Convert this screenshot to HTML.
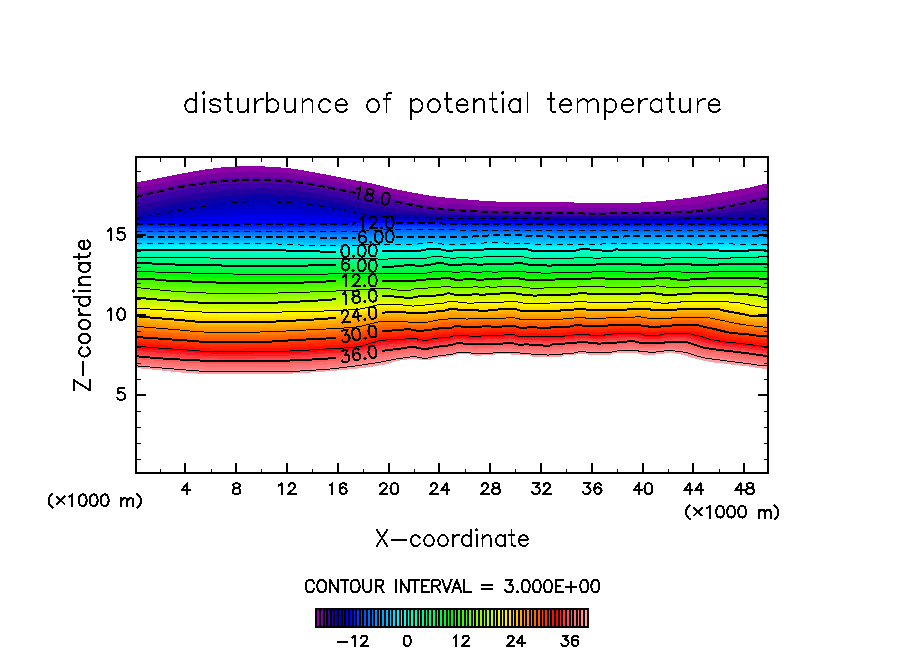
<!DOCTYPE html>
<html lang="en"><head><meta charset="utf-8"><title>disturbunce of potential temperature</title><style>html,body{margin:0;padding:0;background:#fff;font-family:"Liberation Sans",sans-serif}svg{display:block}</style></head><body><svg width="904" height="654" viewBox="0 0 904 654">
<rect width="904" height="654" fill="#fff"/>
<g shape-rendering="crispEdges">
<path d="M136 182.5l3 -0.5 3 -0.6 3 -0.6 3 -0.5 3 -0.6 3 -0.5 3 -0.6 3 -0.6 3 -0.6 3 -0.6 3 -0.6 3 -0.6 3 -0.7 3 -0.6 3 -0.6 3 -0.5 3 -0.6 3 -0.5 3 -0.6 3 -0.5 3 -0.5 3 -0.5 3 -0.5 3 -0.4 3 -0.3 3 -0.4 3 -0.4 3 -0.3 3 -0.4 3 -0.3 3 -0.2 3 -0.2 3 -0.1 3 0 3 0 3 0 3 0 3 0 3 0 3 0 3 0 3 0 3 0 3 0.1 3 0.2 3 0.1 3 0.3 3 0.2 3 0.3 3 0.2 3 0.3 3 0.4 3 0.4 3 0.5 3 0.5 3 0.5 3 0.6 3 0.5 3 0.6 3 0.5 3 0.6 3 0.6 3 0.5 3 0.6 3 0.6 3 0.6 3 0.6 3 0.6 3 0.6 3 0.6 3 0.6 3 0.6 3 0.5 3 0.5 3 0.5 3 0.5 3 0.6 3 0.7 3 0.7 3 0.7 3 0.8 3 0.8 3 0.7 3 0.7 3 0.7 3 0.7 3 0.6 3 0.6 3 0.6 3 0.6 3 0.6 3 0.6 3 0.5 3 0.5 3 0.6 3 0.5 3 0.5 3 0.5 3 0.5 3 0.4 3 0.4 3 0.3 3 0.3 3 0.3 3 0.3 3 0.3 3 0.2 3 0.3 3 0.2 3 0.3 3 0.2 3 0.3 3 0.3 3 0.2 3 0.3 3 0.2 3 0.2 3 0.1 3 0.2 3 0.1 3 0.1 3 0.1 3 0.1 3 0.1 3 0.1 3 0 3 0 3 0 3 0 3 0 3 0 3 0 3 0 3 0 3 0 3 0 3 0 3 0 3 0 3 0 3 0 3 0 3 0 3 0.1 3 0.2 3 0.2 3 0.1 3 0.1 3 0 3 0.1 3 0.1 3 0 3 0.1 3 0 3 0 3 0 3 0 3 0 3 0 3 0 3 0 3 0 3 0 3 0 3 -0.1 3 -0.1 3 -0.1 3 -0.1 3 -0.2 3 -0.2 3 -0.1 3 -0.2 3 -0.3 3 -0.2 3 -0.3 3 -0.3 3 -0.4 3 -0.3 3 -0.4 3 -0.3 3 -0.4 3 -0.3 3 -0.4 3 -0.4 3 -0.4 3 -0.4 3 -0.4 3 -0.5 3 -0.4 3 -0.5 3 -0.5 3 -0.5 3 -0.5 3 -0.6 3 -0.5 3 -0.5 3 -0.5 3 -0.6 3 -0.5 3 -0.5 3 -0.5 3 -0.6 3 -0.5 3 -0.6 3 -0.6 3 -0.8 3 -0.8 3 -0.8 3 -0.7 3 -0.4 2 0V380H136Z" fill="#8c00a5"/>
<path d="M136 188.3l3 -0.7 3 -0.6 3 -0.7 3 -0.6 3 -0.7 3 -0.6 3 -0.6 3 -0.7 3 -0.6 3 -0.6 3 -0.7 3 -0.6 3 -0.6 3 -0.6 3 -0.6 3 -0.5 3 -0.6 3 -0.5 3 -0.5 3 -0.5 3 -0.5 3 -0.4 3 -0.5 3 -0.4 3 -0.3 3 -0.3 3 -0.4 3 -0.3 3 -0.3 3 -0.3 3 -0.2 3 -0.1 3 -0.1 3 -0.1 3 0 3 -0.1 3 0 3 0 3 -0.1 3 0 3 0 3 0 3 0 3 0.1 3 0.2 3 0.1 3 0.2 3 0.2 3 0.3 3 0.2 3 0.3 3 0.3 3 0.4 3 0.4 3 0.5 3 0.5 3 0.5 3 0.5 3 0.6 3 0.5 3 0.5 3 0.6 3 0.6 3 0.6 3 0.7 3 0.6 3 0.6 3 0.6 3 0.5 3 0.6 3 0.6 3 0.6 3 0.6 3 0.5 3 0.6 3 0.5 3 0.7 3 0.6 3 0.7 3 0.8 3 0.7 3 0.8 3 0.7 3 0.7 3 0.7 3 0.7 3 0.7 3 0.6 3 0.7 3 0.6 3 0.7 3 0.6 3 0.6 3 0.6 3 0.5 3 0.6 3 0.5 3 0.6 3 0.4 3 0.5 3 0.4 3 0.3 3 0.3 3 0.2 3 0.3 3 0.2 3 0.2 3 0.2 3 0.2 3 0.3 3 0.2 3 0.2 3 0.3 3 0.2 3 0.2 3 0.2 3 0.2 3 0.1 3 0.1 3 0.1 3 0.1 3 0.1 3 0.1 3 0.1 3 0 3 0.1 3 0 3 0 3 -0.1 3 0 3 0 3 0 3 0 3 0 3 0 3 0 3 0 3 -0.1 3 0 3 0 3 0 3 0 3 0 3 0.1 3 0.3 3 0.3 3 0.1 3 0.1 3 0.1 3 0.1 3 0.1 3 0 3 0.1 3 0 3 0 3 0 3 -0.1 3 -0.1 3 -0.1 3 0 3 -0.1 3 -0.1 3 0 3 0 3 0 3 -0.1 3 0 3 -0.1 3 -0.1 3 0 3 -0.1 3 -0.1 3 -0.1 3 -0.2 3 -0.2 3 -0.1 3 -0.3 3 -0.2 3 -0.2 3 -0.2 3 -0.2 3 -0.3 3 -0.2 3 -0.3 3 -0.3 3 -0.4 3 -0.3 3 -0.4 3 -0.4 3 -0.5 3 -0.5 3 -0.5 3 -0.5 3 -0.6 3 -0.5 3 -0.6 3 -0.6 3 -0.6 3 -0.6 3 -0.6 3 -0.7 3 -0.6 3 -0.7 3 -0.7 3 -0.6 3 -0.8 3 -0.8 3 -0.8 3 -0.7 3 -0.4 2 0V380H136Z" fill="#7600a2"/>
<path d="M136 194.1l3 -0.7 3 -0.8 3 -0.7 3 -0.7 3 -0.7 3 -0.7 3 -0.7 3 -0.6 3 -0.7 3 -0.6 3 -0.7 3 -0.6 3 -0.6 3 -0.6 3 -0.5 3 -0.6 3 -0.5 3 -0.5 3 -0.5 3 -0.5 3 -0.4 3 -0.5 3 -0.4 3 -0.3 3 -0.4 3 -0.3 3 -0.3 3 -0.3 3 -0.3 3 -0.2 3 -0.2 3 -0.2 3 -0.1 3 -0.1 3 -0.1 3 0 3 -0.1 3 -0.1 3 0 3 0 3 -0.1 3 0 3 0.1 3 0 3 0.2 3 0.1 3 0.2 3 0.2 3 0.2 3 0.3 3 0.2 3 0.3 3 0.4 3 0.4 3 0.4 3 0.4 3 0.5 3 0.5 3 0.5 3 0.5 3 0.5 3 0.6 3 0.6 3 0.6 3 0.7 3 0.6 3 0.6 3 0.6 3 0.5 3 0.6 3 0.6 3 0.6 3 0.6 3 0.6 3 0.6 3 0.6 3 0.6 3 0.7 3 0.7 3 0.7 3 0.7 3 0.7 3 0.7 3 0.6 3 0.7 3 0.7 3 0.7 3 0.6 3 0.7 3 0.6 3 0.7 3 0.6 3 0.6 3 0.5 3 0.6 3 0.5 3 0.6 3 0.5 3 0.5 3 0.4 3 0.3 3 0.3 3 0.2 3 0.3 3 0.2 3 0.2 3 0.1 3 0.2 3 0.2 3 0.2 3 0.2 3 0.2 3 0.2 3 0.2 3 0.1 3 0.2 3 0.1 3 0.1 3 0.1 3 0.1 3 0.1 3 0.1 3 0.1 3 0 3 0.1 3 0 3 0 3 0 3 0 3 0 3 0 3 0 3 0 3 0 3 0 3 0 3 0 3 -0.1 3 0 3 0 3 0 3 0 3 0 3 0.1 3 0.3 3 0.3 3 0.2 3 0.1 3 0.1 3 0 3 0.1 3 0.1 3 0 3 0 3 0 3 0 3 -0.1 3 -0.1 3 -0.2 3 -0.1 3 -0.1 3 -0.1 3 0 3 0 3 0 3 0 3 0 3 -0.1 3 0 3 0 3 0 3 0 3 -0.1 3 0 3 -0.1 3 -0.1 3 -0.1 3 -0.1 3 -0.1 3 -0.2 3 -0.1 3 -0.2 3 -0.2 3 -0.2 3 -0.2 3 -0.3 3 -0.3 3 -0.3 3 -0.4 3 -0.4 3 -0.4 3 -0.5 3 -0.5 3 -0.5 3 -0.6 3 -0.5 3 -0.6 3 -0.6 3 -0.6 3 -0.7 3 -0.7 3 -0.6 3 -0.7 3 -0.7 3 -0.7 3 -0.8 3 -0.8 3 -0.7 3 -0.6 3 -0.3 2 -0.1V380H136Z" fill="#5500a0"/>
<path d="M136 200.1l3 -0.8 3 -0.8 3 -0.7 3 -0.8 3 -0.7 3 -0.7 3 -0.7 3 -0.7 3 -0.6 3 -0.7 3 -0.6 3 -0.6 3 -0.6 3 -0.6 3 -0.6 3 -0.5 3 -0.5 3 -0.5 3 -0.5 3 -0.4 3 -0.5 3 -0.4 3 -0.4 3 -0.4 3 -0.3 3 -0.3 3 -0.4 3 -0.3 3 -0.2 3 -0.3 3 -0.2 3 -0.2 3 -0.2 3 -0.1 3 -0.1 3 -0.1 3 -0.1 3 -0.1 3 0 3 -0.1 3 0 3 0 3 0 3 0.1 3 0.1 3 0.1 3 0.2 3 0.2 3 0.2 3 0.2 3 0.3 3 0.2 3 0.4 3 0.3 3 0.4 3 0.5 3 0.4 3 0.4 3 0.5 3 0.5 3 0.5 3 0.6 3 0.6 3 0.6 3 0.6 3 0.6 3 0.6 3 0.6 3 0.5 3 0.6 3 0.6 3 0.6 3 0.6 3 0.7 3 0.6 3 0.7 3 0.6 3 0.7 3 0.6 3 0.6 3 0.6 3 0.7 3 0.6 3 0.6 3 0.6 3 0.6 3 0.6 3 0.6 3 0.5 3 0.6 3 0.6 3 0.5 3 0.5 3 0.5 3 0.4 3 0.5 3 0.4 3 0.4 3 0.4 3 0.3 3 0.3 3 0.2 3 0.2 3 0.2 3 0.1 3 0.2 3 0.1 3 0.1 3 0.2 3 0.1 3 0.1 3 0.2 3 0.1 3 0.2 3 0.1 3 0.1 3 0.1 3 0.1 3 0.1 3 0 3 0.1 3 0.1 3 0 3 0.1 3 0 3 0 3 0 3 0 3 0 3 0 3 0 3 0.1 3 0 3 0 3 0 3 0 3 0 3 0.1 3 0 3 0 3 0 3 0 3 0 3 0.1 3 0.3 3 0.2 3 0.1 3 0.1 3 0.1 3 0 3 0.1 3 0 3 0.1 3 0 3 0 3 -0.1 3 0 3 -0.1 3 -0.2 3 -0.1 3 -0.1 3 0 3 -0.1 3 0 3 0 3 0 3 0 3 0 3 0.1 3 0 3 0 3 0 3 -0.1 3 0 3 0 3 -0.1 3 0 3 -0.1 3 -0.1 3 0 3 -0.1 3 -0.2 3 -0.2 3 -0.2 3 -0.2 3 -0.2 3 -0.3 3 -0.2 3 -0.2 3 -0.3 3 -0.4 3 -0.3 3 -0.4 3 -0.4 3 -0.5 3 -0.4 3 -0.5 3 -0.5 3 -0.5 3 -0.5 3 -0.6 3 -0.6 3 -0.6 3 -0.6 3 -0.6 3 -0.6 3 -0.7 3 -0.6 3 -0.4 3 -0.3 2 -0.1V380H136Z" fill="#3a00a5"/>
<path d="M136 206.9l3 -0.8 3 -0.8 3 -0.8 3 -0.8 3 -0.8 3 -0.7 3 -0.7 3 -0.7 3 -0.7 3 -0.6 3 -0.7 3 -0.6 3 -0.6 3 -0.6 3 -0.5 3 -0.6 3 -0.5 3 -0.5 3 -0.5 3 -0.5 3 -0.5 3 -0.5 3 -0.4 3 -0.4 3 -0.4 3 -0.3 3 -0.4 3 -0.4 3 -0.3 3 -0.3 3 -0.3 3 -0.2 3 -0.2 3 -0.2 3 -0.1 3 -0.1 3 -0.2 3 -0.1 3 0 3 -0.1 3 0 3 -0.1 3 0.1 3 0 3 0.1 3 0.2 3 0.2 3 0.1 3 0.2 3 0.3 3 0.2 3 0.2 3 0.3 3 0.4 3 0.4 3 0.4 3 0.4 3 0.4 3 0.5 3 0.5 3 0.5 3 0.5 3 0.6 3 0.5 3 0.6 3 0.6 3 0.6 3 0.6 3 0.6 3 0.6 3 0.7 3 0.7 3 0.6 3 0.7 3 0.8 3 0.7 3 0.6 3 0.6 3 0.6 3 0.5 3 0.6 3 0.5 3 0.5 3 0.5 3 0.5 3 0.5 3 0.4 3 0.4 3 0.4 3 0.4 3 0.4 3 0.4 3 0.3 3 0.3 3 0.3 3 0.3 3 0.3 3 0.3 3 0.2 3 0.2 3 0.2 3 0.1 3 0.1 3 0.1 3 0.1 3 0.1 3 0.1 3 0.1 3 0 3 0.1 3 0.1 3 0.1 3 0.1 3 0.1 3 0.1 3 0 3 0.1 3 0 3 0.1 3 0 3 0.1 3 0 3 0.1 3 0 3 0 3 0 3 0 3 0 3 0.1 3 0 3 0 3 0 3 0 3 0 3 0.1 3 0 3 0.1 3 0.3 3 0 3 0 3 0 3 0 3 0 3 0.1 3 0.2 3 0.1 3 0.1 3 0.1 3 0 3 0 3 0.1 3 0 3 0 3 0 3 0 3 0 3 0 3 -0.1 3 -0.1 3 -0.1 3 0 3 -0.1 3 0 3 0 3 0 3 0 3 0 3 0 3 0 3 0 3 0 3 0.1 3 -0.1 3 0 3 0 3 0 3 0 3 -0.1 3 0 3 -0.1 3 0 3 -0.1 3 -0.3 3 -0.4 3 -0.1 3 -0.2 3 -0.1 3 -0.1 3 -0.2 3 -0.2 3 -0.2 3 -0.2 3 -0.2 3 -0.3 3 -0.3 3 -0.2 3 -0.3 3 -0.3 3 -0.4 3 -0.3 3 -0.4 3 -0.4 3 -0.4 3 -0.4 3 -0.4 3 -0.4 3 -0.4 3 -0.4 3 -0.3 3 -0.2 2 0V380H136Z" fill="#23009e"/>
<path d="M136 213.4l3 -0.8 3 -0.8 3 -0.8 3 -0.8 3 -0.8 3 -0.7 3 -0.7 3 -0.7 3 -0.6 3 -0.7 3 -0.6 3 -0.6 3 -0.6 3 -0.6 3 -0.5 3 -0.6 3 -0.5 3 -0.5 3 -0.6 3 -0.5 3 -0.5 3 -0.5 3 -0.5 3 -0.4 3 -0.4 3 -0.5 3 -0.4 3 -0.4 3 -0.4 3 -0.4 3 -0.3 3 -0.3 3 -0.2 3 -0.2 3 -0.1 3 -0.2 3 -0.1 3 -0.2 3 -0.1 3 0 3 -0.1 3 0 3 0 3 0.1 3 0.1 3 0.1 3 0.2 3 0.2 3 0.2 3 0.2 3 0.2 3 0.2 3 0.3 3 0.4 3 0.3 3 0.4 3 0.4 3 0.4 3 0.5 3 0.4 3 0.5 3 0.4 3 0.6 3 0.5 3 0.5 3 0.6 3 0.6 3 0.6 3 0.6 3 0.7 3 0.7 3 0.7 3 0.7 3 0.8 3 0.8 3 0.8 3 0.5 3 0.5 3 0.5 3 0.5 3 0.4 3 0.5 3 0.3 3 0.4 3 0.4 3 0.3 3 0.2 3 0.3 3 0.2 3 0.2 3 0.2 3 0.2 3 0.1 3 0.2 3 0.1 3 0.2 3 0.1 3 0.1 3 0.2 3 0 3 0.1 3 0.1 3 0 3 0.1 3 0 3 0 3 0.1 3 0 3 0 3 0.1 3 0 3 0 3 0.1 3 0 3 0 3 0.1 3 0 3 0 3 0 3 0.1 3 0 3 0 3 0 3 0.1 3 0 3 0 3 0 3 0 3 0 3 0.1 3 0 3 0 3 0 3 0.1 3 0 3 0 3 0.2 3 0.5 3 0.1 3 0 3 0 3 0 3 0 3 0 3 0.1 3 0.1 3 0 3 0 3 0.1 3 0 3 0 3 0 3 0 3 0 3 0 3 0 3 0 3 0 3 -0.1 3 0 3 0 3 -0.1 3 0 3 0 3 0 3 0 3 0 3 0 3 0 3 0.1 3 0 3 0 3 0 3 0 3 -0.1 3 0 3 0 3 0 3 0 3 0 3 0 3 -0.2 3 -0.4 3 -0.3 3 -0.2 3 0 3 -0.1 3 0 3 -0.1 3 -0.1 3 -0.1 3 -0.1 3 -0.1 3 -0.1 3 -0.1 3 -0.1 3 -0.1 3 -0.2 3 -0.1 3 -0.2 3 -0.2 3 -0.2 3 -0.2 3 -0.1 3 -0.2 3 -0.2 3 -0.2 3 -0.2 3 -0.1 3 -0.1 2 0V380H136Z" fill="#0a00a5"/>
<path d="M136 218.1l3 -0.8 3 -0.7 3 -0.7 3 -0.7 3 -0.6 3 -0.7 3 -0.6 3 -0.6 3 -0.6 3 -0.5 3 -0.6 3 -0.5 3 -0.6 3 -0.5 3 -0.5 3 -0.5 3 -0.5 3 -0.5 3 -0.5 3 -0.5 3 -0.5 3 -0.5 3 -0.4 3 -0.5 3 -0.4 3 -0.4 3 -0.5 3 -0.4 3 -0.4 3 -0.4 3 -0.4 3 -0.3 3 -0.2 3 -0.2 3 -0.2 3 -0.1 3 -0.2 3 -0.1 3 -0.1 3 -0.1 3 -0.1 3 0 3 0 3 0.1 3 0.1 3 0.1 3 0.2 3 0.2 3 0.1 3 0.2 3 0.2 3 0.2 3 0.3 3 0.3 3 0.3 3 0.4 3 0.4 3 0.3 3 0.4 3 0.4 3 0.4 3 0.4 3 0.5 3 0.4 3 0.5 3 0.5 3 0.5 3 0.6 3 0.6 3 0.6 3 0.7 3 0.7 3 0.7 3 0.7 3 0.8 3 0.7 3 0.4 3 0.4 3 0.4 3 0.4 3 0.3 3 0.3 3 0.3 3 0.3 3 0.2 3 0.2 3 0.1 3 0.1 3 0.1 3 0.1 3 0 3 0.1 3 0.1 3 0 3 0.1 3 0 3 0.1 3 0 3 0 3 0 3 0 3 0.1 3 0 3 0 3 0 3 0 3 0 3 0 3 0 3 0 3 0 3 0 3 0 3 0 3 0 3 0 3 0 3 0 3 0 3 0 3 0 3 0 3 0 3 0.1 3 0 3 0 3 0 3 0 3 0 3 0.1 3 0 3 0 3 0.1 3 0 3 0.1 3 0 3 0.2 3 0.5 3 0.2 3 0 3 0 3 0 3 0 3 0 3 0 3 0 3 0 3 0 3 0.1 3 0 3 0 3 0 3 0 3 0 3 0 3 0 3 0 3 0 3 -0.1 3 0 3 0 3 0 3 0 3 0 3 0 3 0 3 0 3 0 3 0 3 0 3 0 3 0 3 0 3 0 3 0 3 0 3 0 3 0 3 0 3 0 3 0 3 -0.1 3 -0.4 3 -0.4 3 -0.1 3 0 3 0 3 0 3 0 3 0 3 -0.1 3 0 3 0 3 0 3 0 3 0 3 0 3 0 3 -0.1 3 0 3 -0.1 3 0 3 0 3 -0.1 3 0 3 -0.1 3 0 3 0 3 -0.1 3 0 2 0V380H136Z" fill="#0000b9"/>
<path d="M136 220.2l3 -0.5 3 -0.5 3 -0.4 3 -0.5 3 -0.5 3 -0.5 3 -0.4 3 -0.5 3 -0.4 3 -0.4 3 -0.4 3 -0.4 3 -0.4 3 -0.4 3 -0.4 3 -0.4 3 -0.4 3 -0.4 3 -0.4 3 -0.3 3 -0.4 3 -0.4 3 -0.4 3 -0.3 3 -0.4 3 -0.3 3 -0.4 3 -0.3 3 -0.4 3 -0.3 3 -0.3 3 -0.3 3 -0.2 3 -0.1 3 -0.2 3 -0.1 3 -0.2 3 -0.1 3 -0.1 3 -0.1 3 0 3 0 3 0 3 0 3 0.1 3 0.1 3 0.1 3 0.1 3 0.2 3 0.1 3 0.2 3 0.1 3 0.2 3 0.3 3 0.2 3 0.3 3 0.3 3 0.3 3 0.2 3 0.3 3 0.3 3 0.4 3 0.3 3 0.3 3 0.4 3 0.4 3 0.4 3 0.4 3 0.5 3 0.5 3 0.5 3 0.5 3 0.6 3 0.5 3 0.6 3 0.5 3 0.3 3 0.3 3 0.3 3 0.2 3 0.3 3 0.2 3 0.2 3 0.1 3 0.2 3 0.1 3 0.1 3 0 3 0.1 3 0 3 0 3 0.1 3 0 3 0 3 0.1 3 0 3 0 3 0 3 0 3 0 3 0 3 0 3 0 3 0 3 0 3 0 3 0 3 0 3 0 3 0 3 0 3 0 3 0 3 0 3 0 3 0 3 0 3 0 3 0 3 0 3 0 3 0 3 0 3 0 3 0 3 0 3 0 3 0.1 3 0 3 0 3 0 3 0.1 3 0 3 0.1 3 0 3 0 3 0.2 3 0.5 3 0.2 3 0 3 0 3 0 3 0 3 0 3 0 3 -0.1 3 0 3 0 3 0 3 0 3 0 3 0 3 0 3 0 3 0 3 0 3 0 3 0 3 0 3 0 3 0 3 0 3 0 3 0 3 0 3 0 3 0 3 0 3 0 3 0 3 0 3 0 3 0 3 0 3 0 3 0 3 0 3 0 3 0 3 0 3 0 3 0 3 -0.4 3 -0.3 3 -0.1 3 0 3 0 3 0 3 0 3 0.1 3 0 3 0 3 0 3 0 3 0 3 0.1 3 0 3 0 3 0 3 0 3 0 3 0 3 0 3 -0.1 3 0 3 0 3 0 3 0 3 0 3 0 2 0V380H136Z" fill="#0000cd"/>
<path d="M136 221.7l3 -0.3 3 -0.3 3 -0.3 3 -0.3 3 -0.2 3 -0.3 3 -0.3 3 -0.2 3 -0.3 3 -0.2 3 -0.2 3 -0.3 3 -0.2 3 -0.2 3 -0.2 3 -0.3 3 -0.2 3 -0.2 3 -0.2 3 -0.3 3 -0.2 3 -0.2 3 -0.2 3 -0.2 3 -0.2 3 -0.3 3 -0.2 3 -0.2 3 -0.2 3 -0.2 3 -0.2 3 -0.1 3 -0.2 3 -0.1 3 -0.1 3 0 3 -0.1 3 -0.1 3 -0.1 3 0 3 -0.1 3 0 3 0 3 0 3 0 3 0.1 3 0 3 0.1 3 0.1 3 0 3 0.1 3 0.1 3 0.1 3 0.1 3 0.1 3 0.2 3 0.1 3 0.2 3 0.1 3 0.2 3 0.2 3 0.1 3 0.2 3 0.2 3 0.2 3 0.2 3 0.3 3 0.2 3 0.3 3 0.2 3 0.3 3 0.3 3 0.3 3 0.3 3 0.4 3 0.2 3 0.2 3 0.2 3 0.1 3 0.2 3 0.1 3 0.1 3 0.1 3 0.1 3 0.1 3 0.1 3 0 3 0.1 3 0 3 0 3 0 3 0 3 0.1 3 0 3 0 3 0.1 3 0 3 0 3 0 3 0 3 0.1 3 0 3 0 3 0 3 0 3 0 3 0 3 0 3 0 3 0 3 0 3 0 3 0 3 0 3 0 3 0 3 0.1 3 0 3 0 3 0 3 0 3 0 3 0 3 0 3 0 3 0 3 0 3 0.1 3 0 3 0 3 0 3 0.1 3 0 3 0 3 0 3 0.1 3 0.1 3 0.3 3 0.1 3 0 3 0 3 0 3 0 3 0 3 0 3 0 3 0 3 0 3 0 3 0 3 0 3 0 3 0 3 0 3 0 3 0 3 0 3 0 3 0 3 0 3 0 3 0 3 0 3 0 3 0 3 0 3 0 3 0 3 0 3 0 3 0 3 -0.1 3 0 3 0 3 0 3 0 3 0 3 0 3 0 3 0.1 3 0 3 -0.1 3 -0.2 3 -0.2 3 -0.1 3 0 3 0 3 0 3 0.1 3 0 3 0 3 0 3 0 3 0 3 0.1 3 0 3 0 3 0 3 0 3 0 3 0 3 0 3 0 3 0 3 0 3 0 3 0 3 0 3 0 3 0 2 0V380H136Z" fill="#0000e8"/>
<path d="M136 222.9l3 -0.2 3 -0.1 3 -0.1 3 -0.1 3 -0.1 3 0 3 -0.1 3 -0.1 3 -0.1 3 -0.1 3 -0.1 3 0 3 -0.1 3 -0.1 3 -0.1 3 0 3 -0.1 3 -0.1 3 0 3 -0.1 3 -0.1 3 -0.1 3 0 3 -0.1 3 -0.1 3 0 3 -0.1 3 -0.1 3 -0.1 3 0 3 -0.1 3 -0.1 3 0 3 0 3 -0.1 3 0 3 -0.1 3 0 3 0 3 -0.1 3 0 3 0 3 0 3 -0.1 3 0 3 0 3 0 3 0 3 0 3 0 3 0 3 0 3 0.1 3 0 3 0 3 0 3 0.1 3 0 3 0 3 0 3 0.1 3 0 3 0.1 3 0 3 0.1 3 0 3 0.1 3 0 3 0.1 3 0.1 3 0 3 0.1 3 0.1 3 0.1 3 0.1 3 0.1 3 0 3 0.1 3 0 3 0.1 3 0 3 0.1 3 0 3 0 3 0 3 0.1 3 0 3 0 3 0 3 0 3 0.1 3 0 3 0 3 0 3 0.1 3 0 3 0 3 0.1 3 0 3 0 3 0.1 3 0 3 0 3 0.1 3 0 3 0 3 0.1 3 0 3 0 3 0 3 0 3 0 3 0.1 3 0 3 0 3 0 3 0 3 0 3 0 3 0.1 3 0 3 0 3 0 3 0 3 0 3 0 3 0.1 3 0 3 0 3 0 3 0 3 0.1 3 0 3 0 3 0 3 0 3 0.1 3 0.1 3 0.1 3 0 3 0 3 0 3 0 3 0 3 0 3 0 3 0 3 0 3 0 3 0 3 0 3 -0.1 3 0 3 0 3 0 3 0 3 0 3 0 3 0 3 0 3 0 3 0 3 0 3 0 3 0 3 0 3 0 3 0 3 0 3 0 3 0 3 0 3 -0.1 3 0 3 0 3 0 3 0 3 0 3 0 3 0 3 0 3 0 3 -0.1 3 -0.1 3 0 3 0 3 0 3 0 3 0 3 0 3 0 3 0 3 0 3 0 3 0 3 0.1 3 0 3 0 3 0 3 0 3 0 3 0 3 0 3 0 3 0 3 0 3 0 3 0 3 0 3 0 2 0V380H136Z" fill="#0000ff"/>
<path d="M136 224.2l3 0.1 3 0 3 0 3 0 3 0 3 0.1 3 0 3 0 3 0 3 0 3 0 3 0 3 0 3 0.1 3 0 3 0 3 0 3 0 3 0 3 0 3 0 3 0 3 0 3 0 3 0 3 0 3 0 3 0 3 0 3 0 3 0 3 0 3 0 3 0 3 0 3 -0.1 3 0 3 0 3 0 3 0 3 0 3 -0.1 3 0 3 0 3 0 3 0 3 -0.1 3 0 3 0 3 0 3 -0.1 3 0 3 0 3 -0.1 3 0 3 0 3 0 3 -0.1 3 0 3 0 3 -0.1 3 0 3 0 3 0 3 -0.1 3 0 3 0 3 -0.1 3 0 3 0 3 -0.1 3 0 3 -0.1 3 0 3 0 3 -0.1 3 0 3 -0.1 3 0 3 0 3 -0.1 3 0 3 0 3 -0.1 3 0 3 0 3 0 3 0 3 0 3 0 3 0 3 0.1 3 0 3 0 3 0.1 3 0 3 0 3 0.1 3 0 3 0.1 3 0 3 0.1 3 0 3 0.1 3 0 3 0 3 0.1 3 0 3 0 3 0.1 3 0 3 0 3 0 3 0 3 0.1 3 0 3 0 3 0 3 0 3 0.1 3 0 3 0 3 0 3 0 3 0.1 3 0 3 0 3 0 3 0 3 0 3 0.1 3 0 3 0 3 0 3 0 3 0 3 0 3 0 3 0 3 0 3 0 3 0 3 0 3 0 3 0 3 0 3 0 3 0 3 0 3 0 3 0 3 0 3 0 3 0 3 0 3 0 3 0 3 0 3 0 3 0 3 0 3 0 3 -0.1 3 0 3 0 3 0 3 0 3 0 3 0 3 0 3 0 3 0 3 0 3 0 3 0 3 -0.1 3 0 3 0 3 0 3 0 3 0 3 0 3 0 3 0 3 0 3 0 3 0 3 0 3 0 3 0 3 0 3 0 3 0 3 0 3 0 3 0 3 0 3 0 3 0 3 0 3 0 3 0 3 0 3 0 3 0 3 0 3 0 3 0 3 0 3 0 2 0V380H136Z" fill="#0019ff"/>
<path d="M136 226l3 0.1 3 0.1 3 0 3 0.1 3 0 3 0.1 3 0 3 0.1 3 0 3 0 3 0.1 3 0 3 0 3 0 3 0 3 0.1 3 0 3 0 3 0 3 0 3 0 3 0.1 3 0 3 0 3 0 3 0 3 0 3 0 3 0 3 0 3 0 3 0 3 0 3 0 3 0 3 0 3 0 3 0 3 0 3 0 3 0 3 0 3 -0.1 3 0 3 0 3 0 3 0 3 -0.1 3 0 3 0 3 0 3 0 3 -0.1 3 0 3 0 3 0 3 -0.1 3 0 3 0 3 -0.1 3 0 3 0 3 -0.1 3 0 3 0 3 -0.1 3 0 3 -0.1 3 0 3 -0.1 3 0 3 -0.1 3 0 3 -0.1 3 -0.1 3 -0.1 3 -0.1 3 -0.1 3 -0.1 3 -0.1 3 -0.1 3 -0.1 3 0 3 -0.1 3 -0.1 3 0 3 -0.1 3 0 3 0 3 0 3 0 3 0.1 3 0 3 0 3 0.1 3 0 3 0 3 0.1 3 0 3 0.1 3 0 3 0.1 3 0 3 0.1 3 0 3 0 3 0.1 3 0 3 0 3 0.1 3 0 3 0 3 0.1 3 0 3 0 3 0 3 0.1 3 0 3 0 3 0.1 3 0 3 0 3 0 3 0 3 0.1 3 0 3 0 3 0 3 0 3 0 3 0 3 0 3 0 3 0.1 3 0 3 0 3 0 3 -0.1 3 0 3 0 3 0 3 0 3 0 3 0 3 0 3 0 3 0 3 0 3 0 3 0 3 0 3 0 3 0 3 0 3 0 3 0 3 -0.1 3 0 3 0 3 0 3 0 3 0 3 0 3 0 3 0 3 0 3 -0.1 3 0 3 0 3 0 3 0 3 0 3 0 3 0 3 0 3 0 3 -0.1 3 0 3 0 3 0 3 0 3 0 3 0 3 0.1 3 0 3 0 3 0 3 0 3 0 3 0 3 0 3 0 3 0 3 0 3 0 3 0 3 0 3 0 3 0 3 0 3 0 3 0 3 0 3 0 3 0 3 0 3 0 3 0 3 0 3 0 2 0V380H136Z" fill="#0032ff"/>
<path d="M136 228l3 0 3 0.1 3 0 3 0.1 3 0 3 0 3 0.1 3 0 3 0 3 0 3 0.1 3 0 3 0 3 0 3 0 3 0.1 3 0 3 0 3 0 3 0 3 0 3 0 3 0 3 0 3 0 3 0.1 3 0 3 0 3 0 3 0 3 0 3 0 3 0 3 0 3 0 3 0 3 0 3 0 3 0 3 0 3 -0.1 3 0 3 0 3 0 3 0 3 0 3 0 3 0 3 0 3 0 3 -0.1 3 0 3 0 3 0 3 0 3 0 3 -0.1 3 0 3 0 3 0 3 -0.1 3 0 3 0 3 0 3 -0.1 3 0 3 0 3 -0.1 3 0 3 0 3 -0.1 3 0 3 0 3 -0.1 3 -0.1 3 -0.1 3 -0.1 3 -0.1 3 -0.2 3 -0.1 3 -0.1 3 -0.2 3 -0.1 3 -0.1 3 -0.1 3 -0.1 3 0 3 -0.1 3 0 3 0 3 0.1 3 0 3 0 3 0 3 0.1 3 0 3 0 3 0.1 3 0 3 0.1 3 0 3 0 3 0.1 3 0 3 0.1 3 0 3 0 3 0.1 3 0 3 0 3 0.1 3 0 3 0 3 0.1 3 0 3 0 3 0.1 3 0 3 0 3 0.1 3 0 3 0 3 0.1 3 0 3 0 3 0 3 0 3 0 3 0 3 0 3 0 3 0 3 0 3 0.1 3 0 3 0 3 -0.1 3 0 3 0 3 0 3 0 3 0 3 0 3 0 3 0 3 0 3 0 3 0 3 0 3 0 3 0 3 0 3 0 3 -0.1 3 0 3 0 3 0 3 0 3 0 3 0 3 0 3 0 3 -0.1 3 0 3 0 3 0 3 0 3 0 3 0 3 0 3 -0.1 3 0 3 0 3 0 3 0 3 0 3 0 3 0 3 0 3 -0.1 3 0 3 0 3 0.1 3 0 3 0 3 0 3 0 3 0 3 0 3 0 3 0 3 0 3 0 3 0 3 0 3 0 3 0 3 0 3 0 3 0 3 0 3 0 3 0 3 0 3 0 3 0 3 0 3 0 3 0 3 0 2 0V380H136Z" fill="#0046ff"/>
<path d="M136 229.9l3 0 3 0 3 0.1 3 0 3 0 3 0 3 0 3 0 3 0 3 0 3 0 3 0 3 0 3 0 3 0 3 0 3 0 3 0.1 3 0 3 0 3 0 3 0 3 0 3 0 3 0 3 0 3 0 3 0 3 0 3 0 3 0 3 0 3 0 3 0 3 0 3 0 3 0 3 0 3 0 3 0 3 0 3 0 3 0 3 0 3 0 3 0 3 0 3 -0.1 3 0 3 0 3 0 3 0 3 0 3 0 3 0 3 0 3 0 3 0 3 0 3 0 3 0 3 -0.1 3 0 3 0 3 0 3 0 3 0 3 0 3 0 3 -0.1 3 0 3 0 3 0 3 0 3 -0.1 3 -0.1 3 -0.1 3 -0.1 3 -0.2 3 -0.1 3 -0.2 3 -0.2 3 -0.1 3 -0.2 3 -0.1 3 -0.1 3 -0.1 3 0 3 0 3 0 3 0 3 0.1 3 0 3 0 3 0 3 0.1 3 0 3 0 3 0.1 3 0 3 0 3 0.1 3 0 3 0 3 0.1 3 0 3 0 3 0.1 3 0 3 0 3 0 3 0.1 3 0 3 0 3 0.1 3 0 3 0 3 0.1 3 0 3 0 3 0.1 3 0 3 0 3 0 3 0.1 3 0 3 0 3 0 3 0 3 0 3 0 3 0 3 0 3 0 3 0 3 0 3 0 3 0 3 0 3 0 3 0 3 0 3 0 3 0 3 0 3 0 3 0 3 0 3 0 3 0 3 0 3 0 3 0 3 0 3 0 3 -0.1 3 0 3 0 3 0 3 0 3 0 3 0 3 -0.1 3 0 3 0 3 0 3 0 3 0 3 0 3 -0.1 3 0 3 0 3 0 3 0 3 0 3 0 3 -0.1 3 0 3 0 3 0 3 0 3 0 3 0 3 0 3 0 3 0 3 0 3 0 3 0 3 0 3 0 3 0 3 0 3 0 3 0 3 0 3 0 3 0 3 0 3 0 3 0 3 0 3 0 3 0 3 0 3 0 3 0 3 0 3 0 3 0 2 0V380H136Z" fill="#0055ff"/>
<path d="M136 231.7l3 0 3 0 3 0 3 0 3 0 3 0 3 0 3 0 3 0 3 0 3 0 3 0 3 0 3 0 3 0 3 0 3 0 3 0 3 0 3 0 3 0 3 0 3 0 3 0 3 0 3 0 3 0 3 0 3 0 3 0 3 0 3 0 3 0 3 0 3 0 3 0 3 0 3 0 3 0 3 0 3 0 3 0 3 0 3 0 3 0 3 0 3 0 3 0 3 0 3 0 3 0 3 0 3 0 3 0 3 0 3 0 3 0 3 0 3 0 3 0 3 0 3 0 3 0 3 0 3 0 3 0 3 0 3 0 3 0 3 0 3 0 3 0 3 0 3 0 3 0 3 -0.1 3 -0.2 3 -0.1 3 -0.2 3 -0.1 3 -0.2 3 -0.2 3 -0.2 3 -0.1 3 -0.1 3 -0.1 3 -0.1 3 0 3 0 3 0 3 0 3 0 3 0 3 0 3 0.1 3 0 3 0 3 0 3 0.1 3 0 3 0 3 0 3 0.1 3 0 3 0 3 0.1 3 0 3 0 3 0 3 0 3 0.1 3 0 3 0 3 0 3 0 3 0 3 0 3 0 3 0 3 0.1 3 0 3 0 3 0 3 0 3 0.1 3 0 3 0 3 0 3 0 3 0.1 3 0 3 0 3 0 3 0 3 0 3 0.1 3 0 3 0 3 0 3 0 3 0 3 0 3 0 3 0 3 0 3 0 3 0 3 0 3 0 3 0 3 0 3 0 3 0 3 -0.1 3 0 3 0 3 0 3 0 3 0 3 0 3 -0.1 3 0 3 0 3 0 3 0 3 0 3 -0.1 3 0 3 0 3 0 3 0 3 -0.1 3 0 3 0 3 0 3 0 3 0 3 0 3 0 3 -0.1 3 0 3 0 3 0 3 0 3 0 3 0 3 0 3 0 3 0 3 0 3 0 3 0 3 0 3 0 3 0 3 0 3 0 3 0 3 0 3 0 3 0 3 0 3 0 3 0 3 0 3 0 3 0 3 0 3 0 3 0 2 0V380H136Z" fill="#0069ff"/>
<path d="M136 233.2l3 0 3 0 3 0 3 0 3 0 3 0 3 0 3 0 3 0 3 0 3 0 3 0 3 0 3 0 3 0 3 0 3 0 3 0 3 0 3 0 3 0 3 0 3 0 3 0 3 0 3 0 3 0 3 0 3 0 3 0 3 0 3 0 3 0 3 0 3 0 3 0 3 0 3 0 3 0 3 0 3 0 3 0 3 0 3 0 3 0 3 0 3 0 3 0 3 0 3 0 3 0 3 0 3 0 3 0 3 0 3 0 3 0 3 0 3 0.1 3 0 3 0.1 3 0 3 0 3 0.1 3 0 3 0 3 0 3 0 3 0 3 0 3 0 3 0 3 0 3 0 3 -0.1 3 0 3 -0.2 3 -0.1 3 -0.1 3 -0.2 3 -0.1 3 -0.2 3 -0.1 3 -0.2 3 -0.1 3 -0.1 3 0 3 -0.1 3 0 3 0 3 0 3 0 3 0 3 0.1 3 0 3 0 3 0.1 3 0 3 0 3 0 3 0 3 0 3 0 3 0 3 0 3 0 3 0.1 3 0 3 0 3 0 3 0 3 0 3 -0.1 3 0 3 0 3 -0.1 3 0 3 -0.1 3 0 3 0 3 -0.1 3 0 3 0.1 3 0 3 0 3 0 3 0.1 3 0 3 0.1 3 0 3 0 3 0.1 3 0 3 0.1 3 0 3 0.1 3 0 3 0 3 0.1 3 0 3 0 3 0 3 0 3 0 3 0 3 0 3 0 3 0 3 0 3 0 3 0 3 0 3 0 3 0 3 -0.1 3 0 3 0 3 0 3 0 3 0 3 -0.1 3 0 3 0 3 0 3 0 3 -0.1 3 0 3 0 3 0 3 0 3 -0.1 3 0 3 0 3 0 3 0 3 0 3 -0.1 3 0 3 0 3 0 3 0 3 0 3 0 3 0 3 -0.1 3 0 3 0 3 0 3 0 3 0.1 3 0 3 0 3 0 3 0 3 0 3 0 3 0 3 0 3 -0.1 3 0 3 0 3 0 3 0 3 0 3 0 3 0 3 0 3 0 3 0 3 0 2 0V380H136Z" fill="#007dff"/>
<path d="M136 234.7l3 0 3 0 3 0 3 0 3 0 3 0 3 0 3 0 3 0 3 0 3 0 3 0 3 0 3 0 3 0 3 0 3 0 3 0 3 0 3 0 3 0 3 0 3 0 3 0 3 0 3 0 3 0 3 0 3 0 3 0 3 0 3 0 3 0 3 0 3 0 3 0 3 0 3 0 3 0 3 0 3 0 3 0 3 0 3 0 3 0 3 0 3 0 3 0 3 0 3 0 3 -0.1 3 0 3 0 3 0 3 0 3 0 3 0.1 3 0 3 0.1 3 0.1 3 0 3 0.1 3 0.1 3 0.1 3 0 3 0.1 3 0 3 0 3 0 3 0 3 0 3 0 3 -0.1 3 0 3 -0.1 3 0 3 -0.1 3 -0.1 3 -0.1 3 -0.2 3 -0.1 3 -0.1 3 -0.1 3 -0.1 3 -0.1 3 -0.1 3 0 3 0 3 -0.1 3 0 3 0 3 0 3 0 3 0.1 3 0 3 0 3 0.1 3 0 3 0 3 0 3 -0.1 3 0 3 0 3 0 3 0 3 0 3 0 3 0 3 0 3 0 3 -0.1 3 0 3 -0.1 3 -0.1 3 -0.1 3 -0.1 3 -0.2 3 -0.1 3 -0.1 3 0 3 -0.1 3 0 3 0 3 0 3 0 3 0.1 3 0.1 3 0 3 0.1 3 0.1 3 0.1 3 0 3 0.1 3 0.1 3 0 3 0.1 3 0.1 3 0.1 3 0 3 0.1 3 0 3 0 3 0.1 3 0 3 0 3 0 3 0 3 -0.1 3 0 3 0 3 0 3 0 3 0 3 0 3 0 3 -0.1 3 0 3 0 3 0 3 0 3 -0.1 3 0 3 0 3 0 3 0 3 -0.1 3 0 3 0 3 0 3 -0.1 3 0 3 0 3 0 3 0 3 -0.1 3 0 3 0 3 0 3 0 3 0 3 -0.1 3 0 3 0 3 0 3 0 3 0 3 0 3 0 3 0 3 0 3 0 3 0 3 0 3 0 3 0 3 0 3 0 3 0 3 0 3 0 3 0 3 0 3 0 3 0 3 0 3 0 3 0 3 0 3 0 3 0 2 0V380H136Z" fill="#008cff"/>
<path d="M136 236.2l3 0 3 0 3 0 3 0 3 0 3 0 3 0 3 0 3 0 3 0 3 0 3 0 3 0 3 0 3 0 3 0 3 0 3 0 3 0 3 0 3 0 3 0 3 0 3 0 3 0 3 0 3 0 3 0 3 0 3 0 3 0 3 0 3 0 3 0 3 0 3 0 3 0 3 0 3 0 3 0 3 0 3 0 3 0 3 0 3 0 3 0 3 0 3 0 3 0 3 0 3 0 3 0 3 0 3 0 3 0 3 0 3 0 3 0.1 3 0.1 3 0.1 3 0.1 3 0.1 3 0.1 3 0.1 3 0.1 3 0 3 0.1 3 0 3 0 3 0 3 -0.1 3 0 3 0 3 -0.1 3 0 3 -0.1 3 -0.1 3 -0.1 3 0 3 -0.1 3 -0.1 3 -0.1 3 -0.1 3 0 3 -0.1 3 0 3 -0.1 3 0 3 0 3 0 3 0 3 -0.1 3 0 3 0.1 3 0 3 0 3 0 3 0 3 0 3 0 3 -0.1 3 0 3 0 3 0 3 0 3 0 3 -0.1 3 0 3 0 3 0 3 -0.1 3 -0.1 3 -0.1 3 -0.2 3 -0.1 3 -0.2 3 -0.2 3 -0.2 3 -0.1 3 -0.1 3 -0.1 3 0 3 0 3 0 3 0 3 0.1 3 0.1 3 0.1 3 0.1 3 0.1 3 0.1 3 0.1 3 0.1 3 0.1 3 0.1 3 0.1 3 0.1 3 0.1 3 0.1 3 0 3 0.1 3 0 3 0.1 3 0 3 0 3 0 3 -0.1 3 0 3 0 3 0 3 0 3 0 3 0 3 0 3 -0.1 3 0 3 0 3 0 3 0 3 -0.1 3 0 3 0 3 0 3 -0.1 3 0 3 0 3 0 3 -0.1 3 0 3 0 3 0 3 -0.1 3 0 3 0 3 0 3 0 3 -0.1 3 0 3 0 3 0 3 0 3 0 3 0 3 -0.1 3 0 3 0 3 0 3 0 3 0 3 0 3 0 3 0 3 0 3 0 3 0 3 0 3 0 3 0 3 0 3 0 3 0 3 0 3 0 3 0 3 0 3 0 3 0 3 0 3 0 3 0 2 0V380H136Z" fill="#009bff"/>
<path d="M136 237.8l3 0 3 0 3 0 3 0 3 0 3 0 3 0 3 0 3 0 3 0 3 0 3 0 3 0 3 0 3 0 3 0 3 0 3 0 3 0 3 0 3 0 3 0 3 0 3 0 3 0 3 0 3 0 3 0 3 0 3 0 3 0 3 0 3 0 3 0 3 0 3 0 3 0 3 0 3 0 3 0 3 0 3 0 3 0 3 0 3 0 3 0 3 0.1 3 0 3 0 3 0 3 0 3 0 3 0 3 0 3 0.1 3 0 3 0 3 0.1 3 0.1 3 0.1 3 0.1 3 0.1 3 0.1 3 0.1 3 0.1 3 0.1 3 0 3 0 3 0 3 0 3 0 3 -0.1 3 0 3 -0.1 3 0 3 -0.1 3 0 3 -0.1 3 -0.1 3 0 3 -0.1 3 -0.1 3 0 3 -0.1 3 0 3 0 3 -0.1 3 0 3 0 3 0 3 0 3 -0.1 3 0 3 0 3 -0.1 3 0 3 -0.1 3 0 3 0 3 0 3 0.1 3 0 3 0 3 0 3 0 3 0 3 0 3 0 3 0 3 -0.1 3 -0.1 3 -0.1 3 -0.2 3 -0.2 3 -0.2 3 -0.2 3 -0.2 3 -0.2 3 -0.2 3 -0.1 3 -0.1 3 0 3 0 3 0 3 0.1 3 0.1 3 0.1 3 0.1 3 0.1 3 0.1 3 0.1 3 0.1 3 0.2 3 0.1 3 0.1 3 0.1 3 0.1 3 0.1 3 0.1 3 0.1 3 0 3 0.1 3 0 3 0 3 0 3 0 3 0 3 0 3 0 3 0 3 -0.1 3 0 3 0 3 0 3 0 3 -0.1 3 0 3 0 3 0 3 -0.1 3 0 3 0 3 0 3 -0.1 3 0 3 0 3 0 3 -0.1 3 0 3 0 3 0 3 -0.1 3 0 3 0 3 0 3 0 3 -0.1 3 0 3 0 3 0 3 0 3 0 3 0 3 -0.1 3 0.1 3 0 3 0 3 0 3 -0.1 3 0 3 0 3 0 3 0 3 0 3 0 3 0 3 0 3 0 3 0.1 3 0 3 0 3 0 3 0 3 0 3 0 3 0 3 0 3 0 3 0 3 0 2 0V380H136Z" fill="#00a5ff"/>
<path d="M136 239.5l3 0 3 0 3 0 3 0 3 0 3 0 3 0 3 0 3 0 3 0 3 0 3 0 3 0 3 0.1 3 0 3 0 3 0 3 0 3 0 3 0 3 0 3 0 3 0 3 0 3 0 3 0 3 0 3 0 3 0 3 0 3 0 3 0 3 0 3 0 3 0 3 0 3 0 3 0 3 0 3 0 3 0 3 0 3 0 3 0 3 0 3 0 3 0.1 3 0.1 3 0.1 3 0 3 0.1 3 0 3 0.1 3 0 3 0 3 0.1 3 0.1 3 0 3 0.1 3 0 3 0.1 3 0.1 3 0.1 3 0 3 0.1 3 0 3 0.1 3 0 3 0 3 0 3 -0.1 3 0 3 -0.1 3 0 3 -0.1 3 0 3 -0.1 3 0 3 -0.1 3 -0.1 3 0 3 -0.1 3 0 3 -0.1 3 0 3 -0.1 3 0 3 0 3 0 3 0 3 0 3 0 3 -0.1 3 -0.1 3 -0.2 3 -0.2 3 -0.2 3 -0.1 3 0 3 0.2 3 0.3 3 0.2 3 0 3 0 3 0 3 0.1 3 0 3 0 3 0 3 -0.1 3 -0.1 3 -0.2 3 -0.3 3 -0.2 3 -0.2 3 -0.2 3 -0.2 3 -0.2 3 -0.2 3 -0.1 3 0 3 0 3 0.1 3 0.1 3 0.2 3 0 3 0.1 3 0.1 3 0.1 3 0 3 0.1 3 0 3 0.5 3 0.1 3 0.1 3 0.1 3 0 3 0.1 3 0.1 3 0 3 0 3 0.1 3 0 3 -0.1 3 0 3 0 3 0 3 0.1 3 -0.1 3 0 3 0 3 0 3 -0.1 3 0 3 0 3 -0.1 3 -0.1 3 0 3 0 3 0 3 0 3 0 3 0 3 -0.1 3 0 3 0 3 0 3 -0.1 3 0 3 0 3 0 3 -0.1 3 0 3 0 3 0 3 0 3 -0.1 3 0 3 0 3 0 3 0 3 0 3 0 3 0 3 0.2 3 0.2 3 0 3 0 3 -0.4 3 -0.1 3 0 3 0 3 0 3 0 3 0 3 0 3 0 3 0 3 0.3 3 0.1 3 0 3 0 3 0 3 0 3 0.1 3 0 3 0 3 0 3 0 3 -0.1 2 0V380H136Z" fill="#00b9ff"/>
<path d="M136 241.3l3 0 3 0 3 0 3 0 3 0 3 0 3 0 3 0 3 0 3 0 3 0 3 0 3 0 3 0 3 0 3 0 3 0 3 0 3 0 3 0 3 0 3 0 3 0 3 0 3 0 3 0 3 0 3 0 3 0 3 0 3 0 3 0 3 0 3 0 3 0 3 0 3 0.1 3 0 3 0 3 0 3 0 3 0 3 0 3 0 3 0 3 0 3 0.2 3 0.1 3 0.2 3 0.1 3 0.1 3 0.1 3 0.1 3 0.1 3 0 3 0.1 3 0.1 3 0 3 0 3 0.1 3 0 3 0 3 0 3 0.1 3 0 3 0 3 0 3 0 3 0 3 0 3 0 3 -0.1 3 0 3 0 3 -0.1 3 -0.1 3 0 3 -0.1 3 0 3 -0.1 3 0 3 -0.1 3 -0.1 3 0 3 0 3 -0.1 3 0 3 0 3 0 3 0 3 0 3 0 3 -0.1 3 -0.3 3 -0.3 3 -0.4 3 -0.3 3 -0.1 3 0 3 0.4 3 0.5 3 0.3 3 0.1 3 0 3 0.1 3 0.1 3 0 3 0 3 0 3 0 3 -0.3 3 -0.3 3 -0.2 3 -0.2 3 -0.2 3 -0.2 3 -0.2 3 -0.2 3 -0.1 3 -0.1 3 0 3 0.1 3 0.2 3 0.2 3 0.2 3 0.1 3 0.1 3 0 3 0 3 0 3 0 3 0 3 0.8 3 0.1 3 0 3 0 3 0.1 3 0 3 0 3 0 3 0 3 0 3 0 3 0 3 -0.1 3 0 3 0 3 0.1 3 -0.1 3 0 3 0 3 -0.1 3 0 3 -0.1 3 0 3 -0.1 3 -0.1 3 0 3 0 3 0.1 3 0 3 -0.1 3 0 3 0 3 -0.1 3 0 3 0 3 0 3 0 3 -0.1 3 0 3 0 3 0 3 0 3 -0.1 3 0 3 0 3 0 3 0 3 0 3 0 3 0 3 0 3 0 3 0.5 3 0.3 3 0 3 0 3 -0.8 3 -0.1 3 0 3 0 3 0 3 0 3 -0.1 3 0 3 0 3 0 3 0.6 3 0.2 3 0 3 0 3 0 3 0.1 3 0.1 3 0 3 0 3 0 3 0 3 -0.1 2 0V380H136Z" fill="#00c8ff"/>
<path d="M136 243.1l3 0 3 0 3 0 3 0 3 0 3 0 3 0 3 0 3 0 3 0 3 0 3 0 3 0 3 0 3 0 3 0 3 0 3 0 3 0 3 0 3 0 3 0 3 0 3 0 3 0 3 0 3 0 3 0 3 0 3 0 3 0 3 0 3 0 3 0 3 0 3 0 3 0 3 0 3 0 3 0 3 0 3 0 3 0 3 0.1 3 0 3 0.1 3 0.1 3 0.3 3 0.1 3 0.2 3 0.1 3 0.1 3 0.1 3 0.2 3 0.1 3 0 3 0.1 3 0 3 0 3 0 3 0 3 0 3 0 3 0 3 0 3 0 3 0 3 0 3 0 3 0 3 0 3 0 3 -0.1 3 0 3 -0.1 3 0 3 -0.1 3 -0.1 3 0 3 -0.1 3 0 3 -0.1 3 0 3 -0.1 3 0 3 -0.1 3 0 3 0 3 0 3 0 3 0 3 0 3 -0.1 3 -0.3 3 -0.5 3 -0.4 3 -0.5 3 -0.2 3 0.1 3 0.4 3 0.7 3 0.4 3 0.2 3 0.1 3 0.1 3 0 3 0.1 3 0 3 0 3 -0.1 3 -0.2 3 -0.4 3 -0.2 3 -0.2 3 -0.2 3 -0.2 3 -0.1 3 -0.2 3 -0.1 3 0 3 0 3 0.1 3 0.3 3 0.3 3 0.2 3 0 3 0.1 3 0 3 0 3 0 3 -0.1 3 0 3 1 3 0 3 0 3 0 3 0 3 0 3 0 3 0 3 -0.1 3 0 3 0 3 0 3 -0.1 3 0 3 0 3 0 3 0 3 -0.1 3 0 3 -0.1 3 0 3 0 3 -0.1 3 0 3 -0.1 3 0 3 0 3 0 3 0 3 -0.1 3 0 3 0 3 0 3 0 3 0 3 -0.1 3 0 3 0 3 0 3 0 3 0 3 -0.1 3 0 3 0 3 0 3 0 3 0 3 0 3 0 3 0 3 0 3 -0.1 3 0.7 3 0.4 3 0 3 0 3 -0.9 3 -0.2 3 0 3 0 3 0 3 0 3 0 3 0 3 0 3 0 3 0.7 3 0.3 3 0 3 0 3 0 3 0 3 0.1 3 0 3 0 3 0 3 0 3 -0.1 2 0V380H136Z" fill="#00dcff"/>
<path d="M136 244.8l3 0 3 0 3 0 3 0 3 0 3 0 3 0 3 0 3 0 3 0 3 0 3 0 3 0 3 0 3 0 3 0 3 0 3 0 3 0 3 0 3 0 3 0 3 0 3 0 3 0 3 0 3 0 3 0 3 0 3 0 3 0 3 0 3 0 3 0 3 0 3 0 3 0 3 0 3 0 3 0.1 3 0 3 0 3 0 3 0 3 0 3 0.1 3 0.2 3 0.2 3 0.2 3 0.1 3 0.1 3 0.1 3 0.1 3 0.2 3 0.1 3 0 3 0.1 3 0.1 3 0 3 0 3 0 3 0 3 0 3 0.1 3 0 3 0 3 0 3 -0.1 3 0 3 0 3 0 3 -0.1 3 0 3 -0.1 3 0 3 -0.1 3 0 3 -0.1 3 -0.1 3 0 3 -0.1 3 0 3 -0.1 3 0 3 0 3 0 3 0 3 0 3 0 3 -0.1 3 0 3 0 3 -0.1 3 -0.3 3 -0.5 3 -0.5 3 -0.5 3 -0.3 3 0.1 3 0.4 3 0.7 3 0.5 3 0.2 3 0.2 3 0.1 3 -0.1 3 0 3 0 3 0 3 -0.1 3 -0.2 3 -0.3 3 -0.2 3 -0.1 3 -0.2 3 -0.2 3 -0.2 3 -0.1 3 -0.1 3 -0.1 3 0 3 0.2 3 0.3 3 0.3 3 0.2 3 0 3 -0.1 3 -0.1 3 0.1 3 0 3 0.1 3 0.2 3 0.8 3 0.1 3 -0.1 3 0 3 0 3 0 3 0 3 0 3 -0.1 3 0 3 0 3 0 3 -0.1 3 0 3 -0.1 3 -0.2 3 0 3 0 3 0 3 -0.1 3 0 3 0 3 0 3 0.2 3 0 3 -0.1 3 0 3 -0.3 3 0 3 0 3 0 3 0 3 0 3 0 3 0 3 0 3 -0.1 3 0 3 0 3 0 3 0 3 0 3 0 3 -0.1 3 0 3 0 3 0 3 0 3 0 3 0 3 0 3 0 3 0.6 3 0.3 3 0 3 0 3 -0.8 3 -0.1 3 0 3 0 3 0 3 0 3 0.2 3 0 3 0 3 0 3 0.7 3 0.2 3 0 3 0 3 0 3 0 3 -0.2 3 0 3 0 3 0 3 0 3 0.2 2 0V380H136Z" fill="#00f0ff"/>
<path d="M136 246.6l3 0 3 0 3 0 3 0 3 -0.1 3 0 3 0 3 0 3 0 3 0 3 0 3 0 3 -0.1 3 0 3 0 3 0 3 0 3 0 3 0 3 0 3 0 3 0 3 0 3 0 3 0 3 0 3 0 3 0 3 0 3 0 3 0 3 0 3 0 3 0 3 0 3 0.1 3 0 3 0 3 0 3 0 3 0 3 0.1 3 0 3 0 3 0 3 0.1 3 0.1 3 0.2 3 0.1 3 0.1 3 0.1 3 0.1 3 0.1 3 0.1 3 0.1 3 0.1 3 0.1 3 0.1 3 0 3 0.1 3 0 3 0.1 3 0 3 0.1 3 0 3 0 3 0 3 0 3 0 3 -0.1 3 0 3 -0.1 3 0 3 -0.1 3 0 3 -0.1 3 -0.1 3 0 3 -0.1 3 -0.1 3 0 3 -0.1 3 0 3 0 3 0 3 0 3 0 3 0 3 0 3 0 3 0 3 -0.1 3 -0.1 3 -0.2 3 -0.4 3 -0.6 3 -0.6 3 -0.3 3 0 3 0.4 3 0.6 3 0.4 3 0.4 3 0.4 3 0.1 3 -0.4 3 -0.2 3 0 3 0 3 0 3 -0.2 3 -0.2 3 -0.1 3 -0.1 3 -0.1 3 -0.2 3 -0.2 3 -0.1 3 -0.2 3 -0.1 3 0 3 0.2 3 0.2 3 0.3 3 0.2 3 0 3 -0.2 3 -0.2 3 0.1 3 0.1 3 0.4 3 0.3 3 0.6 3 0 3 0 3 0 3 0 3 0 3 0 3 0 3 0 3 -0.1 3 0 3 0 3 0 3 0 3 -0.2 3 -0.5 3 0 3 0 3 0 3 0 3 0 3 0 3 0.1 3 0.6 3 0 3 -0.1 3 -0.1 3 -0.7 3 0.1 3 0 3 0.1 3 0 3 0 3 0 3 -0.1 3 0 3 0 3 0 3 0 3 0 3 0 3 0 3 0 3 -0.1 3 0 3 0 3 0.1 3 0 3 0 3 0 3 -0.1 3 0 3 0.4 3 0.2 3 0 3 0 3 -0.5 3 -0.1 3 0 3 0 3 0 3 0 3 0.6 3 0 3 0 3 0 3 0.5 3 0.2 3 0 3 0 3 0 3 -0.1 3 -0.6 3 0 3 0 3 0.1 3 0 3 0.4 2 0V380H136Z" fill="#00ffff"/>
<path d="M136 248.5l3 -0.1 3 0 3 0 3 -0.1 3 0 3 0 3 0 3 -0.1 3 0 3 0 3 0 3 -0.1 3 0 3 0 3 0 3 0 3 0 3 0 3 0 3 -0.1 3 0 3 0 3 0 3 0 3 0 3 0 3 0 3 0 3 0 3 0 3 0.1 3 0 3 0 3 0 3 0 3 0 3 0.1 3 0 3 0 3 0 3 0.1 3 0 3 0 3 0.1 3 0 3 0.1 3 0 3 0.1 3 0.1 3 0.1 3 0 3 0.1 3 0.1 3 0 3 0.1 3 0.1 3 0.1 3 0.1 3 0.1 3 0.1 3 0.1 3 0.1 3 0.1 3 0.1 3 0 3 0 3 0 3 0 3 0 3 -0.1 3 0 3 -0.1 3 0 3 -0.1 3 -0.1 3 0 3 -0.1 3 -0.1 3 -0.1 3 0 3 -0.1 3 0 3 0 3 0 3 0 3 0 3 0 3 0 3 0 3 0 3 0 3 -0.1 3 -0.1 3 -0.2 3 -0.3 3 -0.6 3 -0.6 3 -0.4 3 0.1 3 0.3 3 0.4 3 0.4 3 0.5 3 0.5 3 0.1 3 -0.6 3 -0.4 3 0.1 3 0 3 -0.1 3 0 3 -0.1 3 -0.1 3 0 3 -0.1 3 -0.2 3 -0.2 3 -0.2 3 -0.1 3 -0.1 3 0 3 0.1 3 0.2 3 0.2 3 0.2 3 0 3 -0.4 3 -0.3 3 0.1 3 0.3 3 0.6 3 0.6 3 0.3 3 0 3 0 3 0 3 0 3 0 3 0 3 0 3 -0.1 3 0 3 0 3 0 3 0 3 0 3 -0.2 3 -0.8 3 0 3 0 3 0 3 0 3 0.1 3 0 3 0.1 3 1.1 3 0 3 -0.1 3 -0.2 3 -1.1 3 0.1 3 0.1 3 0.1 3 0 3 0 3 0 3 0 3 0 3 0 3 0 3 0 3 0 3 0 3 0 3 -0.1 3 0 3 0 3 0 3 0.1 3 0 3 0 3 0 3 0 3 0 3 0.1 3 0.1 3 0 3 0 3 -0.2 3 -0.1 3 0 3 0 3 0 3 0.1 3 0.9 3 0 3 0 3 0.1 3 0.2 3 0.1 3 0 3 0 3 0 3 -0.2 3 -0.9 3 0 3 0 3 0.1 3 0 3 0.6 2 0.1V380H136Z" fill="#00fff0"/>
<path d="M136 250.3l3 0 3 -0.1 3 0 3 -0.1 3 0 3 0 3 -0.1 3 0 3 0 3 0 3 -0.1 3 0 3 0 3 0 3 0 3 -0.1 3 0 3 0 3 0 3 0 3 0 3 0 3 0 3 0 3 0 3 0 3 0 3 0 3 0 3 0.1 3 0 3 0 3 0 3 0 3 0.1 3 0 3 0 3 0 3 0.1 3 0 3 0 3 0.1 3 0 3 0 3 0.1 3 0 3 0 3 0.1 3 0 3 0.1 3 0 3 0.1 3 0 3 0.1 3 0 3 0.1 3 0.1 3 0.2 3 0.1 3 0.1 3 0.1 3 0.1 3 0.1 3 0.1 3 0.1 3 0 3 0 3 0 3 -0.1 3 0 3 -0.1 3 0 3 -0.1 3 -0.1 3 0 3 -0.1 3 -0.1 3 0 3 -0.1 3 0 3 -0.1 3 0 3 0 3 0 3 0 3 0 3 0 3 0 3 0 3 0 3 -0.1 3 0 3 -0.1 3 -0.1 3 -0.2 3 -0.6 3 -0.6 3 -0.5 3 0 3 0.2 3 0.3 3 0.4 3 0.6 3 0.6 3 0.1 3 -0.8 3 -0.4 3 0 3 0 3 0 3 0 3 0 3 0 3 -0.1 3 -0.1 3 -0.1 3 -0.2 3 -0.2 3 -0.2 3 -0.1 3 0 3 0.1 3 0.2 3 0.2 3 0.1 3 0 3 -0.5 3 -0.4 3 0.2 3 0.4 3 0.8 3 0.7 3 0.1 3 0 3 0 3 0 3 0 3 0 3 0 3 0 3 0 3 0 3 0 3 0 3 0 3 0 3 -0.4 3 -0.9 3 0 3 0 3 0.1 3 0 3 0.1 3 0.1 3 0.1 3 1.2 3 0 3 -0.1 3 -0.2 3 -1.3 3 0.1 3 0.2 3 0.1 3 0 3 0 3 0 3 0 3 0 3 0 3 0 3 0 3 0 3 0 3 0 3 0 3 0 3 0 3 0 3 0 3 0 3 0 3 0 3 0 3 0 3 0 3 0 3 0 3 0 3 0 3 0 3 0 3 0 3 0 3 0.1 3 1.1 3 0 3 0 3 0 3 0 3 0 3 0 3 0 3 0 3 -0.1 3 -1.1 3 0 3 0 3 0 3 0 3 0.7 2 0.2V380H136Z" fill="#00ffd7"/>
<path d="M136 252.2l3 -0.1 3 0 3 0 3 -0.1 3 0 3 0 3 -0.1 3 0 3 0 3 0 3 0 3 -0.1 3 0 3 0 3 0 3 0 3 0 3 0 3 0 3 0 3 0 3 0 3 0 3 0 3 0.1 3 0.1 3 0 3 0 3 0 3 0 3 0 3 0 3 0 3 0.1 3 0 3 0 3 0 3 0 3 0.1 3 0 3 0 3 0.1 3 0 3 0 3 0.1 3 0 3 0 3 0 3 0 3 0.1 3 0 3 0 3 0 3 0.1 3 0.1 3 0 3 0.1 3 0.2 3 0.1 3 0.1 3 0.1 3 0.1 3 0.1 3 0 3 0.1 3 0 3 0 3 0 3 0 3 -0.1 3 0 3 -0.1 3 0 3 -0.1 3 0 3 -0.1 3 0 3 -0.1 3 0 3 0 3 -0.1 3 0 3 0 3 0 3 0 3 0 3 0 3 0 3 0 3 -0.1 3 0 3 -0.1 3 -0.1 3 0 3 -0.2 3 -0.5 3 -0.5 3 -0.5 3 -0.2 3 0.1 3 0.2 3 0.4 3 0.6 3 0.6 3 0.2 3 -0.7 3 -0.5 3 0 3 -0.1 3 0.1 3 0.1 3 0.1 3 -0.1 3 -0.1 3 -0.2 3 -0.1 3 -0.2 3 -0.2 3 -0.1 3 -0.1 3 0 3 0.1 3 0.1 3 0.2 3 0.1 3 0 3 -0.5 3 -0.4 3 0.2 3 0.5 3 0.8 3 0.7 3 0 3 0 3 0 3 0 3 0 3 0 3 0 3 0 3 0 3 0 3 0 3 0 3 0 3 0 3 -0.5 3 -0.8 3 0 3 0 3 0.1 3 0.1 3 0.2 3 0.1 3 0.1 3 0.9 3 -0.1 3 0 3 -0.2 3 -1.1 3 0.1 3 0.1 3 0.1 3 0 3 0 3 0 3 0 3 0 3 0 3 0 3 0 3 0 3 0 3 0 3 0.1 3 0.2 3 0 3 0 3 -0.3 3 0 3 0 3 0 3 0 3 0 3 0 3 -0.1 3 0 3 0 3 0.1 3 0.1 3 0.2 3 0 3 0 3 0.1 3 1 3 0 3 0 3 -0.1 3 -0.2 3 0 3 -0.1 3 0 3 0 3 -0.1 3 -1 3 0 3 0 3 -0.2 3 0 3 0.6 2 0.2V380H136Z" fill="#00ffbe"/>
<path d="M136 254l3 0 3 0 3 0 3 -0.1 3 0 3 0 3 0 3 0 3 0 3 0 3 0 3 -0.1 3 0 3 0 3 0 3 0 3 0 3 0 3 0 3 0 3 0.1 3 0 3 0 3 0.1 3 0.2 3 0.2 3 0 3 0 3 0 3 -0.1 3 0.1 3 0 3 0 3 0 3 0 3 0 3 0 3 0.1 3 0 3 0 3 0 3 0 3 0.1 3 0 3 0 3 0 3 0 3 0 3 0 3 0.1 3 0 3 0 3 0 3 0 3 0.1 3 0 3 0.1 3 0.1 3 0.1 3 0.1 3 0 3 0.1 3 0.1 3 0 3 0 3 0.1 3 0 3 -0.1 3 0 3 0 3 0 3 0 3 -0.1 3 0 3 0 3 -0.1 3 0 3 0 3 0 3 0 3 0 3 0 3 0 3 0 3 -0.1 3 0 3 -0.1 3 0 3 0 3 0 3 -0.1 3 0 3 -0.1 3 -0.1 3 -0.1 3 -0.3 3 -0.4 3 -0.6 3 -0.5 3 0.1 3 0.2 3 0.4 3 0.5 3 0.5 3 0.3 3 -0.4 3 -0.4 3 -0.2 3 -0.1 3 0.2 3 0.3 3 0.1 3 -0.3 3 -0.3 3 -0.2 3 -0.1 3 -0.1 3 -0.2 3 -0.1 3 -0.1 3 0 3 0.1 3 0.1 3 0.2 3 0.1 3 -0.1 3 -0.4 3 -0.3 3 0.3 3 0.5 3 0.8 3 0.5 3 0 3 0 3 0 3 -0.1 3 0 3 0 3 0 3 0.1 3 0 3 0 3 0 3 0 3 0 3 -0.2 3 -0.5 3 -0.5 3 0 3 0 3 0 3 0.3 3 0.3 3 0.1 3 0.1 3 0.1 3 0 3 0 3 -0.1 3 -0.7 3 0.1 3 0 3 0.1 3 0 3 0 3 0 3 0 3 0 3 -0.1 3 0 3 0 3 0 3 0 3 0 3 0.3 3 0.5 3 0.1 3 0 3 -0.8 3 0 3 0 3 0 3 0 3 0 3 -0.1 3 -0.1 3 0 3 0 3 0.1 3 0.3 3 0.5 3 0 3 0 3 0.1 3 0.7 3 0 3 0 3 -0.3 3 -0.5 3 -0.1 3 0 3 0 3 0 3 -0.1 3 -0.6 3 0 3 0 3 -0.6 3 0 3 0.4 2 0.1V380H136Z" fill="#00fdaf"/>
<path d="M136 255.9l3 0 3 0 3 -0.1 3 0 3 0 3 0 3 0 3 0 3 0 3 0 3 0.1 3 0 3 -0.1 3 0 3 0 3 0 3 0.1 3 0 3 0 3 0 3 0.1 3 0 3 0 3 0.2 3 0.3 3 0.3 3 0 3 0 3 0 3 -0.1 3 0 3 0.1 3 0 3 0 3 0 3 0 3 0 3 0 3 0 3 0 3 0 3 0 3 0 3 0 3 0.1 3 0 3 0 3 0 3 0 3 0 3 0 3 0 3 0 3 0 3 0.1 3 0 3 0 3 0.1 3 0 3 0 3 0.1 3 0 3 0 3 0 3 0.1 3 0 3 0 3 0 3 0 3 0 3 0 3 0 3 0 3 0 3 0 3 0 3 0 3 0 3 0 3 0.1 3 0 3 0 3 0 3 0 3 -0.1 3 -0.1 3 -0.1 3 -0.1 3 0 3 0 3 0 3 -0.1 3 0 3 -0.1 3 -0.1 3 -0.1 3 -0.3 3 -0.7 3 -0.6 3 -0.1 3 0.2 3 0.4 3 0.4 3 0.5 3 0.3 3 -0.1 3 -0.3 3 -0.4 3 -0.1 3 0.3 3 0.4 3 0.2 3 -0.5 3 -0.4 3 -0.2 3 -0.2 3 -0.1 3 -0.1 3 -0.1 3 -0.1 3 0 3 0.1 3 0.1 3 0.2 3 0 3 0 3 -0.4 3 -0.2 3 0.3 3 0.7 3 0.6 3 0.3 3 0 3 0 3 0 3 0 3 0 3 -0.1 3 0.1 3 0 3 0 3 0 3 0 3 0 3 0 3 -0.2 3 -0.6 3 -0.2 3 0 3 0 3 0 3 0.4 3 0.5 3 0.1 3 0 3 -0.6 3 0 3 0 3 -0.1 3 -0.2 3 0 3 0.1 3 0 3 0 3 0 3 0 3 0 3 0 3 -0.1 3 0 3 0 3 0 3 0 3 0 3 0.5 3 0.7 3 0.1 3 0 3 -1.2 3 0 3 0 3 0 3 0 3 0 3 -0.1 3 0 3 0 3 0 3 0 3 0.3 3 0.8 3 0 3 0 3 0.1 3 0.3 3 0 3 0 3 -0.4 3 -0.7 3 -0.1 3 0 3 0 3 0 3 -0.1 3 -0.2 3 0 3 0 3 -0.9 3 0 3 0.2 2 0V380H136Z" fill="#00f8a0"/>
<path d="M136 257.6l3 0 3 0 3 0 3 0 3 0 3 0.1 3 0 3 0 3 0 3 0 3 0 3 0 3 0.1 3 0 3 0 3 0.1 3 0 3 0 3 0.1 3 0 3 0 3 0.1 3 0 3 0.2 3 0.3 3 0.3 3 0 3 0 3 0 3 0.1 3 0 3 0 3 0 3 0 3 0 3 0 3 0 3 0 3 0 3 0 3 0 3 0 3 0 3 0 3 0 3 0 3 0 3 0 3 0 3 0 3 0 3 0 3 0 3 0 3 0 3 0 3 0 3 0 3 0 3 0 3 0 3 0 3 0 3 0 3 0 3 0.1 3 0 3 0 3 0 3 0 3 0 3 0 3 0.1 3 0 3 0 3 0.1 3 0 3 0.1 3 0 3 0.1 3 0 3 0 3 0 3 0 3 -0.1 3 -0.1 3 -0.1 3 -0.1 3 -0.1 3 -0.1 3 0 3 0 3 0 3 -0.1 3 0 3 -0.1 3 -0.2 3 -0.7 3 -0.8 3 -0.2 3 0.2 3 0.3 3 0.4 3 0.5 3 0.4 3 0 3 -0.3 3 -0.3 3 -0.2 3 0.3 3 0.4 3 0.1 3 -0.4 3 -0.4 3 -0.2 3 -0.2 3 -0.1 3 -0.1 3 -0.1 3 0 3 0 3 0 3 0.1 3 0.1 3 0.1 3 0 3 -0.4 3 -0.2 3 0.4 3 0.6 3 0.6 3 0.3 3 0 3 0 3 0 3 0 3 0 3 0 3 0 3 0 3 0 3 0 3 0 3 0 3 0 3 -0.2 3 -0.7 3 0 3 0 3 0 3 0 3 0.4 3 0.5 3 -0.1 3 0 3 -0.9 3 0 3 0 3 0 3 0.1 3 0 3 0 3 0 3 0 3 0 3 0 3 0 3 0 3 0 3 0 3 0 3 0 3 0 3 0 3 0.6 3 0.6 3 0 3 0 3 -1.2 3 0 3 0 3 0 3 0 3 0 3 0 3 0 3 0 3 0 3 0 3 0.4 3 0.9 3 0 3 0 3 -0.1 3 0 3 0 3 0 3 -0.4 3 -0.7 3 -0.1 3 0 3 -0.1 3 0 3 0 3 0.1 3 0 3 0 3 -1 3 0 3 0 2 0V380H136Z" fill="#00f896"/>
<path d="M136 259.3l3 0 3 0 3 0 3 0 3 0 3 0 3 0 3 0 3 0 3 0.1 3 0 3 0.1 3 0.2 3 0.1 3 0 3 0.1 3 0 3 0 3 0 3 0 3 0.1 3 0 3 0 3 0.2 3 0.2 3 0.2 3 0.1 3 0 3 0.2 3 0.2 3 0 3 0 3 -0.1 3 0 3 0.1 3 0 3 0 3 0 3 0 3 0 3 0 3 0 3 -0.1 3 0 3 0 3 0 3 0.1 3 0 3 0 3 0 3 0 3 0 3 0 3 0 3 0 3 -0.1 3 -0.1 3 -0.1 3 -0.1 3 0 3 0 3 0 3 0 3 0 3 0 3 0 3 0 3 0 3 0.1 3 0 3 0.1 3 0 3 0.1 3 0.1 3 0.1 3 0 3 0.1 3 0.1 3 0.1 3 0 3 0.1 3 0 3 0 3 0 3 -0.1 3 -0.1 3 -0.2 3 -0.1 3 -0.2 3 -0.2 3 0 3 0 3 0.1 3 0 3 0 3 -0.1 3 -0.3 3 -0.6 3 -0.7 3 -0.4 3 0 3 0.2 3 0.5 3 0.6 3 0.4 3 0 3 -0.2 3 -0.3 3 -0.2 3 0.1 3 0.2 3 0.1 3 -0.2 3 -0.1 3 -0.1 3 -0.3 3 -0.3 3 -0.1 3 -0.1 3 0 3 0 3 0.1 3 0.1 3 0 3 0.1 3 -0.1 3 -0.5 3 0 3 0.4 3 0.7 3 0.5 3 0.2 3 0 3 0 3 0 3 0 3 0.2 3 0.2 3 -0.3 3 -0.1 3 0 3 0 3 0 3 0 3 0 3 -0.1 3 -0.5 3 0.1 3 0 3 0 3 -0.1 3 0.4 3 0.3 3 -0.3 3 -0.1 3 -0.7 3 0 3 0 3 0 3 0.1 3 0 3 -0.1 3 0 3 0 3 0 3 0 3 0 3 0.1 3 0.4 3 0 3 0 3 0 3 0 3 0 3 0.5 3 0.4 3 -0.4 3 0 3 -1 3 0 3 0.1 3 -0.1 3 0.1 3 0 3 0 3 0.4 3 0 3 0 3 0 3 0.3 3 0.7 3 0 3 -0.1 3 0 3 -0.5 3 0 3 0 3 -0.3 3 -0.5 3 -0.1 3 0 3 0 3 0 3 0 3 0.1 3 0 3 0 3 -0.8 3 0 3 0 2 0V380H136Z" fill="#00f887"/>
<path d="M136 260.8l3 0.1 3 0 3 0 3 0 3 0 3 0 3 0 3 0 3 0 3 0.1 3 0 3 0.2 3 0.3 3 0.3 3 0 3 0 3 0.1 3 0 3 0 3 0 3 0 3 0 3 0 3 0.1 3 0.2 3 0.1 3 0 3 0.2 3 0.4 3 0.2 3 0 3 0 3 0 3 0 3 0 3 0 3 0 3 0 3 0 3 0 3 -0.1 3 0 3 0 3 0 3 0 3 0 3 0 3 0 3 0 3 0.1 3 0 3 0 3 0 3 0 3 -0.1 3 -0.1 3 -0.2 3 -0.2 3 -0.1 3 0 3 0 3 -0.1 3 0 3 0 3 0 3 0 3 0 3 0.1 3 0 3 0.1 3 0.1 3 0.1 3 0.1 3 0.1 3 0.2 3 0.1 3 0.1 3 0.1 3 0.1 3 0.1 3 0.1 3 0 3 0 3 0 3 -0.1 3 -0.2 3 -0.2 3 -0.1 3 -0.3 3 -0.4 3 0 3 0.1 3 0.1 3 0.1 3 0 3 -0.1 3 -0.3 3 -0.6 3 -0.6 3 -0.6 3 -0.2 3 0.2 3 0.6 3 0.8 3 0.3 3 -0.1 3 -0.1 3 -0.2 3 -0.2 3 -0.1 3 -0.1 3 0 3 0.1 3 0.2 3 0.1 3 -0.5 3 -0.4 3 -0.1 3 -0.1 3 0 3 0 3 0.1 3 0 3 0.1 3 0 3 -0.1 3 -0.5 3 -0.1 3 0.6 3 0.7 3 0.4 3 0.1 3 0.1 3 0 3 0 3 0.1 3 0.3 3 0.4 3 -0.6 3 -0.1 3 0 3 0 3 0 3 0 3 0 3 -0.1 3 -0.3 3 0 3 0 3 0 3 0 3 0.3 3 0.2 3 -0.7 3 -0.2 3 -0.4 3 0 3 0 3 0 3 0.1 3 -0.1 3 0 3 0 3 0 3 0 3 0 3 0.1 3 0 3 0.9 3 0 3 0 3 0 3 0 3 0 3 0.3 3 0.1 3 -0.8 3 0 3 -0.6 3 0.1 3 0 3 -0.1 3 0.1 3 0 3 0 3 0.9 3 0 3 0 3 0 3 0.1 3 0.4 3 0 3 0 3 -0.2 3 -0.8 3 0 3 0 3 -0.1 3 -0.3 3 -0.1 3 0 3 0 3 0 3 0 3 0.1 3 0 3 0 3 -0.4 3 0.1 3 -0.1 2 0V380H136Z" fill="#00f878"/>
<path d="M136 262.5l3 0 3 0 3 0 3 0 3 0 3 0.1 3 0 3 0 3 0 3 0.1 3 0 3 0.2 3 0.6 3 0.3 3 0 3 0 3 0.1 3 0 3 0 3 0 3 0 3 0 3 0 3 0 3 0.1 3 0 3 0 3 0.2 3 0.6 3 0.3 3 0 3 0 3 0 3 0 3 0 3 0 3 0 3 0 3 0 3 0 3 0 3 0 3 0 3 0 3 0 3 0 3 0 3 0 3 0 3 0 3 0 3 0 3 0 3 0 3 0 3 -0.2 3 -0.3 3 -0.3 3 -0.1 3 0 3 -0.1 3 0 3 0 3 0 3 0 3 0 3 0 3 0 3 0.1 3 0.1 3 0.1 3 0.1 3 0.2 3 0.1 3 0.2 3 0.1 3 0.2 3 0.1 3 0.1 3 0.1 3 0.1 3 0 3 0.1 3 -0.1 3 -0.1 3 -0.1 3 -0.2 3 -0.2 3 -0.4 3 -0.5 3 -0.1 3 0.2 3 0.2 3 0.2 3 0 3 -0.2 3 -0.4 3 -0.4 3 -0.6 3 -0.7 3 -0.4 3 0.1 3 0.8 3 0.8 3 0.2 3 0 3 -0.1 3 -0.2 3 -0.1 3 -0.3 3 -0.4 3 0 3 0.4 3 0.5 3 0.1 3 -0.5 3 -0.6 3 -0.1 3 0 3 0 3 0 3 0 3 0 3 0.1 3 0 3 -0.1 3 -0.6 3 0 3 0.6 3 0.7 3 0.3 3 0.1 3 0.1 3 0.1 3 0 3 0.1 3 0.4 3 0.6 3 -0.9 3 -0.2 3 0 3 0 3 0 3 0 3 0 3 0 3 -0.1 3 0 3 0 3 0 3 0 3 0.1 3 0 3 -0.8 3 -0.3 3 -0.1 3 0 3 0 3 0 3 0 3 0 3 0 3 0 3 0 3 0 3 0 3 0.1 3 0 3 1.3 3 0 3 0 3 0 3 0 3 0 3 0.1 3 -0.2 3 -1.2 3 0 3 -0.1 3 0 3 0 3 0 3 0.1 3 0 3 0.1 3 1.2 3 0 3 0 3 0 3 0 3 0.1 3 -0.1 3 0 3 -0.2 3 -1.1 3 0 3 0 3 0 3 -0.1 3 0 3 0 3 0 3 0 3 0 3 0.1 3 0 3 0 3 0 3 0 3 0 2 0V380H136Z" fill="#00f869"/>
<path d="M136 264.4l3 0 3 0 3 0 3 0 3 0 3 0.1 3 0 3 0.1 3 0 3 0.1 3 0 3 0.2 3 0.6 3 0.3 3 0.1 3 0 3 0 3 0 3 0.1 3 0 3 0 3 0 3 0 3 0 3 0 3 0 3 0 3 0.2 3 0.6 3 0.3 3 0 3 0 3 0 3 0.1 3 0 3 0 3 -0.1 3 0 3 0 3 0 3 0 3 0 3 0 3 0 3 0 3 0 3 0 3 0 3 0 3 0 3 0 3 0 3 0 3 0 3 0 3 -0.2 3 -0.3 3 -0.2 3 -0.1 3 -0.1 3 0 3 -0.1 3 0 3 0 3 0 3 -0.1 3 0 3 0.1 3 0 3 0.1 3 0.1 3 0.1 3 0.2 3 0.1 3 0.2 3 0.1 3 0.2 3 0.1 3 0.1 3 0.2 3 0 3 0.1 3 0 3 0 3 -0.1 3 -0.1 3 -0.2 3 -0.2 3 -0.4 3 -0.5 3 0 3 0.1 3 0.2 3 0.2 3 0 3 -0.2 3 -0.4 3 -0.4 3 -0.5 3 -0.7 3 -0.6 3 0.1 3 0.8 3 0.7 3 0.3 3 0 3 -0.1 3 -0.1 3 -0.2 3 -0.4 3 -0.4 3 0.1 3 0.5 3 0.5 3 0.1 3 -0.6 3 -0.6 3 0 3 0.1 3 0 3 -0.1 3 0 3 0 3 0 3 0 3 -0.1 3 -0.5 3 0 3 0.6 3 0.6 3 0.3 3 0.1 3 0.1 3 0 3 0.1 3 0.3 3 0.4 3 0.5 3 -1 3 -0.2 3 0 3 0 3 0 3 0 3 0 3 0 3 0.1 3 0 3 0 3 0 3 0 3 -0.1 3 -0.1 3 -0.9 3 -0.3 3 0.1 3 -0.1 3 0 3 0 3 0 3 0 3 0 3 0.1 3 0 3 0 3 0.1 3 0 3 0.1 3 1.3 3 0 3 0 3 0 3 0 3 0 3 -0.1 3 -0.3 3 -1.2 3 0 3 0.1 3 0 3 0 3 0.1 3 0 3 0.1 3 0.1 3 1.2 3 0 3 0 3 0 3 -0.1 3 -0.1 3 -0.1 3 0 3 -0.2 3 -1.1 3 0 3 0 3 0 3 0 3 0.1 3 0 3 0 3 0 3 0 3 0 3 0.1 3 0 3 0.1 3 0 3 0 2 0V380H136Z" fill="#00f85a"/>
<path d="M136 266.4l3 0 3 0 3 0.1 3 0 3 0.1 3 0.1 3 0.1 3 0.1 3 0.1 3 0 3 0.1 3 0.1 3 0.4 3 0.3 3 0 3 0 3 0.1 3 0 3 0.2 3 0 3 0 3 0 3 0 3 0 3 0 3 0 3 0 3 0.2 3 0.4 3 0.2 3 0 3 0.1 3 0.2 3 0 3 0 3 0 3 0 3 0 3 0 3 0 3 0 3 0 3 0 3 0 3 0 3 0 3 0 3 0 3 0 3 0 3 0 3 0 3 0 3 0 3 0 3 -0.2 3 -0.2 3 -0.2 3 0 3 -0.1 3 0 3 0 3 -0.1 3 0 3 -0.1 3 -0.1 3 0 3 0 3 0 3 0 3 0 3 0.1 3 0.1 3 0.1 3 0.1 3 0.2 3 0.1 3 0.2 3 0.1 3 0.1 3 0.1 3 0.1 3 0 3 0 3 -0.1 3 -0.1 3 -0.1 3 -0.1 3 -0.3 3 -0.3 3 -0.1 3 0.1 3 0.1 3 0.1 3 0 3 -0.1 3 -0.4 3 -0.5 3 -0.5 3 -0.7 3 -0.4 3 0.1 3 0.5 3 0.5 3 0.3 3 0.2 3 -0.1 3 -0.2 3 -0.2 3 -0.4 3 -0.3 3 0.4 3 0.4 3 0.3 3 0 3 -0.5 3 -0.5 3 0 3 0.3 3 0.1 3 -0.2 3 -0.3 3 0 3 0 3 0.1 3 0 3 -0.4 3 0.1 3 0.4 3 0.5 3 0.2 3 0.1 3 0.1 3 0.1 3 0.1 3 0.5 3 0.3 3 0.3 3 -1 3 -0.2 3 0 3 0 3 0 3 0 3 0 3 0.1 3 0 3 0 3 0 3 0 3 0 3 -0.2 3 -0.2 3 -0.7 3 -0.2 3 0 3 0 3 0 3 0 3 0 3 0 3 0 3 0.3 3 0.1 3 0 3 0 3 0.1 3 0.1 3 0.9 3 0 3 0 3 0 3 0 3 0 3 -0.4 3 -0.3 3 -0.9 3 0 3 0.1 3 0 3 0 3 0.4 3 0 3 0.1 3 0.1 3 0.9 3 0 3 0 3 0 3 -0.1 3 -0.3 3 -0.2 3 0 3 -0.1 3 -0.9 3 0 3 0 3 0.1 3 0 3 0.1 3 0 3 0 3 0 3 0 3 0 3 0 3 0.1 3 0 3 0 3 0 2 0V380H136Z" fill="#00f846"/>
<path d="M136 268.5l3 0.1 3 0 3 0.1 3 0.1 3 0.1 3 0.2 3 0.2 3 0.1 3 0.1 3 0 3 0.1 3 0 3 0.2 3 0.2 3 0 3 0 3 0.1 3 0.1 3 0.3 3 0 3 0.1 3 0 3 0 3 0 3 0 3 -0.1 3 0 3 0.1 3 0.2 3 0.2 3 0 3 0.2 3 0.2 3 0 3 0 3 0 3 0 3 0 3 0 3 0 3 0 3 0 3 0 3 0 3 0 3 0 3 0 3 0 3 0 3 0 3 0 3 0 3 0 3 0 3 0 3 0 3 -0.1 3 -0.1 3 0 3 0 3 0 3 -0.1 3 0 3 -0.1 3 -0.1 3 -0.1 3 -0.1 3 -0.1 3 -0.1 3 0 3 -0.1 3 0 3 0.1 3 0 3 0.1 3 0.1 3 0.2 3 0.1 3 0.1 3 0.1 3 0.1 3 0.1 3 0 3 0 3 0 3 0 3 0 3 -0.1 3 -0.2 3 -0.1 3 -0.1 3 0.1 3 0 3 0 3 -0.1 3 -0.1 3 -0.3 3 -0.5 3 -0.7 3 -0.5 3 -0.3 3 0.1 3 0.3 3 0.2 3 0.4 3 0.3 3 0 3 -0.3 3 -0.3 3 -0.3 3 0 3 0.6 3 0.1 3 0.1 3 -0.1 3 -0.4 3 -0.4 3 0.1 3 0.5 3 0.1 3 -0.3 3 -0.4 3 -0.1 3 0 3 0.1 3 0.1 3 -0.1 3 0.1 3 0.2 3 0.3 3 0.1 3 0.1 3 0.1 3 0.1 3 0.3 3 0.8 3 0 3 0.1 3 -1.1 3 0 3 0 3 0 3 0 3 0 3 0 3 0 3 0 3 0 3 0 3 0 3 0 3 -0.3 3 -0.4 3 -0.3 3 -0.1 3 0 3 -0.1 3 0 3 0 3 0 3 0 3 0 3 0.7 3 0.1 3 0 3 0 3 0.1 3 0 3 0.4 3 0 3 0 3 0 3 0.1 3 -0.1 3 -0.7 3 -0.1 3 -0.4 3 -0.1 3 0 3 0 3 0 3 0.7 3 0.1 3 0 3 0.1 3 0.4 3 0 3 0 3 0 3 0 3 -0.4 3 -0.4 3 0 3 0 3 -0.4 3 0 3 0 3 0 3 0 3 0 3 0 3 0 3 0 3 0 3 0.1 3 0 3 0 3 -0.1 3 0 3 0 2 0V380H136Z" fill="#00f832"/>
<path d="M136 270.7l3 0 3 0.1 3 0.1 3 0.1 3 0.1 3 0.3 3 0.3 3 0.1 3 0.1 3 0 3 0.1 3 0 3 0.1 3 0 3 0 3 0.1 3 0 3 0.2 3 0.3 3 0.2 3 0 3 0 3 0 3 0 3 0 3 0 3 0 3 0 3 0.1 3 0 3 0.1 3 0.2 3 0.3 3 0 3 0 3 0 3 0 3 0 3 0 3 0 3 0 3 0 3 0 3 0 3 0 3 0 3 0 3 0 3 0 3 0 3 0 3 0 3 0 3 0 3 0 3 0 3 0 3 0 3 0 3 0 3 0 3 0 3 -0.1 3 -0.1 3 -0.1 3 -0.2 3 -0.1 3 -0.1 3 -0.2 3 -0.1 3 0 3 -0.1 3 0 3 0 3 0.1 3 0 3 0.1 3 0.1 3 0.2 3 0.1 3 0.1 3 0 3 0.1 3 0 3 0 3 0.1 3 0 3 0 3 -0.1 3 0 3 0 3 -0.1 3 -0.1 3 0 3 -0.1 3 -0.2 3 -0.2 3 -0.6 3 -0.6 3 -0.5 3 -0.1 3 0.1 3 0 3 0 3 0.4 3 0.5 3 0 3 -0.3 3 -0.3 3 -0.3 3 0.1 3 0.8 3 0 3 -0.1 3 -0.2 3 -0.3 3 -0.3 3 0.2 3 0.5 3 0.2 3 -0.4 3 -0.6 3 -0.2 3 0.1 3 0.1 3 0.1 3 0.1 3 0.2 3 0.1 3 0.2 3 0.1 3 0.1 3 0.1 3 0.1 3 0.3 3 0.9 3 -0.1 3 -0.2 3 -0.9 3 0 3 0 3 0 3 0 3 0 3 0 3 0 3 0 3 0 3 0 3 0 3 0 3 -0.5 3 -0.5 3 0 3 0 3 0 3 0 3 0 3 0 3 0 3 0 3 0 3 0.8 3 0.2 3 0 3 0 3 0 3 0 3 0 3 0 3 0 3 0 3 0 3 -0.1 3 -0.8 3 -0.1 3 0 3 0 3 0 3 -0.1 3 0 3 1 3 0 3 0 3 0.1 3 0 3 0 3 0 3 0 3 0 3 -0.6 3 -0.4 3 0 3 0 3 0 3 0 3 0 3 0 3 0 3 0 3 0 3 0 3 0 3 0 3 0 3 0 3 0 3 0 3 0 3 0 2 0V380H136Z" fill="#00f81e"/>
<path d="M136 272.7l3 0 3 0.1 3 0.1 3 0.1 3 0.2 3 0.2 3 0.3 3 0.3 3 0.1 3 0 3 0.1 3 0 3 0 3 0 3 0.1 3 0 3 0.1 3 0.2 3 0.3 3 0.1 3 0.1 3 0 3 0.1 3 0 3 0 3 0 3 0.1 3 0 3 0 3 0 3 0 3 0.3 3 0.3 3 0 3 0 3 0 3 0 3 0 3 0 3 0 3 0 3 0 3 0 3 0 3 0 3 0 3 0 3 0 3 0 3 0 3 0 3 0 3 0 3 0 3 0 3 -0.1 3 0 3 0 3 0 3 0 3 0 3 -0.1 3 -0.1 3 -0.1 3 -0.1 3 -0.2 3 -0.1 3 -0.1 3 -0.1 3 -0.2 3 0 3 -0.1 3 0 3 0 3 0 3 0.1 3 0 3 0.1 3 0.1 3 0.1 3 0.1 3 0 3 0.1 3 0 3 0.1 3 0 3 0.1 3 0 3 0 3 0 3 -0.1 3 -0.1 3 -0.1 3 -0.2 3 -0.1 3 -0.2 3 -0.2 3 -0.5 3 -0.5 3 -0.4 3 -0.1 3 -0.1 3 -0.1 3 0 3 0.4 3 0.6 3 0.1 3 -0.2 3 -0.4 3 -0.3 3 0.1 3 0.7 3 0.1 3 0 3 -0.2 3 -0.3 3 -0.4 3 0.2 3 0.5 3 0.2 3 -0.4 3 -0.7 3 -0.2 3 0 3 0.1 3 0.1 3 0.2 3 0.3 3 0.2 3 0.2 3 0.1 3 0 3 0.1 3 0.1 3 0.3 3 0.8 3 -0.1 3 -0.2 3 -0.8 3 -0.1 3 -0.1 3 0 3 0 3 0 3 0 3 0 3 0 3 0 3 0 3 0 3 0 3 -0.5 3 -0.6 3 0.1 3 0 3 0 3 0.2 3 0 3 0 3 0 3 0 3 0 3 0.7 3 0.2 3 0 3 0 3 0 3 0 3 -0.1 3 0 3 0 3 0 3 -0.1 3 -0.2 3 -0.8 3 0 3 0.1 3 0.1 3 0.1 3 0 3 0.2 3 0.9 3 0 3 0 3 -0.2 3 -0.1 3 0 3 0 3 0 3 0 3 -0.8 3 -0.3 3 0 3 0 3 0.1 3 0 3 0 3 0 3 0 3 0 3 0 3 0 3 0 3 0 3 0 3 0 3 0 3 0.2 3 0 3 0 2 0V380H136Z" fill="#00f300"/>
<path d="M136 274.7l3 0 3 0.1 3 0.1 3 0.1 3 0.1 3 0.2 3 0.3 3 0.3 3 0.2 3 0.1 3 0.1 3 0 3 0 3 0.1 3 0 3 0.1 3 0.1 3 0.2 3 0.2 3 0.2 3 0 3 0.1 3 0.1 3 0 3 0.1 3 0.1 3 0 3 0.1 3 0 3 0 3 0.1 3 0.2 3 0.2 3 0 3 0 3 0 3 0.1 3 0 3 0 3 0 3 0 3 0 3 0 3 0 3 0 3 0 3 0 3 0 3 0 3 0 3 0 3 -0.1 3 0 3 -0.1 3 0 3 -0.1 3 0 3 -0.1 3 -0.1 3 0 3 -0.1 3 -0.1 3 -0.1 3 -0.1 3 -0.1 3 -0.1 3 -0.1 3 -0.1 3 -0.1 3 -0.1 3 0 3 -0.1 3 0 3 0 3 0 3 0 3 0.1 3 0.1 3 0 3 0.1 3 0 3 0.1 3 0 3 0.1 3 0 3 0.1 3 0 3 0 3 0 3 0 3 -0.1 3 -0.2 3 -0.1 3 -0.2 3 -0.3 3 -0.2 3 -0.2 3 -0.3 3 -0.4 3 -0.3 3 -0.1 3 -0.4 3 -0.2 3 0 3 0.6 3 0.7 3 0.2 3 -0.2 3 -0.4 3 -0.3 3 -0.1 3 0.5 3 0.4 3 0.1 3 0 3 -0.4 3 -0.5 3 0.1 3 0.3 3 0.1 3 -0.2 3 -0.6 3 -0.5 3 0.1 3 0 3 0.1 3 0.3 3 0.3 3 0.4 3 0.3 3 0.1 3 0 3 0.1 3 0.1 3 0.1 3 0.6 3 -0.1 3 -0.1 3 -0.5 3 -0.4 3 -0.1 3 0 3 0 3 0 3 0 3 0 3 0 3 0 3 0 3 0 3 0 3 -0.6 3 -0.6 3 0 3 0.1 3 0.1 3 0.4 3 0 3 0 3 0 3 0 3 0 3 0.5 3 0.1 3 0 3 0 3 0 3 0 3 0 3 0 3 0 3 0 3 -0.4 3 -0.3 3 -0.5 3 0 3 0 3 0.3 3 0.4 3 0.1 3 0.5 3 0.6 3 0 3 0 3 -0.6 3 -0.1 3 0 3 -0.1 3 0 3 0 3 -0.9 3 -0.2 3 0 3 0 3 0.1 3 0 3 0 3 0 3 0 3 0 3 0 3 0 3 0 3 0 3 0 3 0 3 0 3 0.7 3 0 3 0 2 0V380H136Z" fill="#14f800"/>
<path d="M136 276.7l3 0 3 0.1 3 0 3 0.1 3 0.2 3 0.2 3 0.2 3 0.3 3 0.3 3 0.2 3 0.1 3 0.1 3 0 3 0.1 3 0.1 3 0.1 3 0.1 3 0.1 3 0.2 3 0.1 3 0.1 3 0.1 3 0.1 3 0.1 3 0.1 3 0.1 3 0.2 3 0.1 3 0.1 3 0 3 0 3 0.1 3 0.2 3 0 3 0 3 0 3 0.1 3 0 3 0 3 0 3 0 3 0.1 3 0 3 0 3 0 3 0 3 0 3 0 3 0 3 0 3 -0.1 3 -0.1 3 -0.1 3 -0.1 3 -0.1 3 -0.1 3 -0.1 3 -0.1 3 -0.1 3 -0.2 3 -0.1 3 -0.1 3 -0.1 3 -0.1 3 -0.1 3 -0.1 3 0 3 -0.1 3 0 3 -0.1 3 0 3 0 3 0 3 0 3 0 3 0 3 0 3 0 3 0.1 3 0 3 0 3 0 3 0.1 3 0 3 0.1 3 0 3 0.1 3 0 3 0 3 -0.1 3 -0.2 3 -0.2 3 -0.1 3 -0.3 3 -0.3 3 -0.3 3 -0.1 3 -0.2 3 -0.2 3 -0.2 3 -0.2 3 -0.6 3 -0.4 3 0.2 3 0.6 3 0.8 3 0.4 3 -0.2 3 -0.4 3 -0.4 3 -0.2 3 0.3 3 0.5 3 0.4 3 0.1 3 -0.5 3 -0.6 3 0 3 0.1 3 0.1 3 -0.1 3 -0.5 3 -0.7 3 0 3 0 3 0.1 3 0.3 3 0.5 3 0.5 3 0.5 3 0.1 3 0 3 0 3 0 3 0.1 3 0.3 3 0 3 -0.1 3 -0.2 3 -0.6 3 -0.2 3 0 3 0 3 0 3 0 3 0 3 0 3 0 3 0 3 0 3 0 3 -0.6 3 -0.7 3 0 3 0.1 3 0.1 3 0.8 3 0 3 0 3 0 3 0 3 0 3 0.2 3 0.1 3 0 3 0 3 0 3 0 3 0 3 0 3 0 3 0 3 -0.6 3 -0.4 3 -0.3 3 0 3 0 3 0.5 3 0.6 3 0.1 3 0.9 3 0.2 3 0 3 0 3 -0.9 3 -0.2 3 0 3 0 3 0 3 -0.1 3 -1 3 -0.1 3 0 3 0 3 0.1 3 0 3 0 3 0 3 0 3 0 3 0 3 0 3 0 3 0 3 0 3 0 3 0 3 1.1 3 0 3 0 2 0V380H136Z" fill="#28f800"/>
<path d="M136 278.8l3 0 3 0.1 3 0.1 3 0.1 3 0.1 3 0.2 3 0.3 3 0.3 3 0.3 3 0.2 3 0.1 3 0.2 3 0.1 3 0.1 3 0.1 3 0.1 3 0.1 3 0.1 3 0.2 3 0.1 3 0.1 3 0.1 3 0.2 3 0.1 3 0.1 3 0.1 3 0.2 3 0.1 3 0.2 3 0 3 0.1 3 0 3 0 3 0.1 3 0 3 0 3 0.1 3 0 3 0 3 0 3 0 3 0.1 3 0 3 0 3 0 3 0 3 0 3 0 3 0 3 -0.1 3 0 3 -0.1 3 -0.1 3 -0.2 3 -0.1 3 -0.2 3 -0.1 3 -0.2 3 -0.2 3 -0.1 3 -0.2 3 -0.1 3 -0.1 3 -0.1 3 -0.1 3 0 3 -0.1 3 0 3 0 3 0 3 -0.1 3 0 3 0 3 0 3 0 3 0 3 -0.1 3 0 3 0 3 0 3 0 3 0 3 0 3 0 3 0.1 3 0.2 3 0.1 3 0 3 0 3 -0.2 3 -0.2 3 -0.2 3 -0.2 3 -0.4 3 -0.3 3 -0.3 3 -0.1 3 -0.1 3 -0.1 3 -0.1 3 -0.2 3 -0.8 3 -0.6 3 0.3 3 0.8 3 0.7 3 0.5 3 -0.1 3 -0.4 3 -0.4 3 -0.3 3 0.1 3 0.5 3 0.6 3 0.2 3 -0.6 3 -0.6 3 0 3 0 3 0 3 0 3 -0.5 3 -0.8 3 0 3 0 3 0.1 3 0.3 3 0.6 3 0.5 3 0.6 3 0.2 3 0 3 0 3 0 3 0 3 0 3 0 3 0 3 0 3 -0.7 3 -0.3 3 0 3 0 3 0 3 0 3 0 3 0 3 0 3 0 3 0 3 0 3 -0.6 3 -0.7 3 0 3 0 3 0.3 3 1 3 0 3 0 3 0 3 0 3 0 3 0 3 0 3 0 3 0 3 0 3 0 3 0 3 0 3 0 3 0 3 -0.7 3 -0.6 3 0 3 0 3 0 3 0.7 3 0.7 3 0.1 3 1.1 3 0 3 0 3 0 3 -1.3 3 -0.1 3 0 3 0 3 -0.1 3 0 3 -1.1 3 0 3 0 3 0 3 0 3 0 3 0 3 0 3 0 3 0 3 0 3 0 3 0 3 0 3 0 3 0 3 0 3 1.5 3 0 3 0 2 0V380H136Z" fill="#3cf800"/>
<path d="M136 281l3 0.1 3 0.1 3 0.1 3 0.2 3 0.2 3 0.2 3 0.3 3 0.3 3 0.3 3 0.2 3 0.2 3 0.2 3 0.1 3 0.1 3 0.2 3 0.1 3 0.1 3 0.2 3 0.1 3 0.1 3 0.1 3 0.2 3 0.1 3 0.1 3 0.2 3 0.1 3 0.1 3 0.2 3 0.1 3 0 3 0 3 0.1 3 0 3 0 3 0 3 0 3 0.1 3 0 3 0 3 0 3 0 3 0.1 3 0 3 0 3 0 3 0 3 -0.1 3 0 3 0 3 -0.1 3 0 3 -0.1 3 -0.2 3 -0.1 3 -0.1 3 -0.2 3 -0.1 3 -0.2 3 -0.2 3 -0.1 3 -0.2 3 -0.1 3 -0.1 3 -0.1 3 -0.1 3 -0.1 3 0 3 0 3 -0.1 3 0 3 0 3 -0.1 3 0 3 -0.1 3 -0.1 3 0 3 -0.1 3 -0.1 3 0 3 -0.1 3 0 3 -0.1 3 0 3 0.1 3 0.2 3 0.2 3 0.2 3 0.1 3 -0.1 3 -0.1 3 -0.1 3 -0.3 3 -0.5 3 -0.4 3 -0.3 3 -0.2 3 -0.1 3 -0.1 3 0 3 0 3 -0.3 3 -0.8 3 -0.6 3 0.3 3 0.7 3 0.7 3 0.4 3 -0.1 3 -0.3 3 -0.3 3 -0.3 3 0 3 0.3 3 0.7 3 0.3 3 -0.6 3 -0.6 3 0.1 3 0.1 3 -0.2 3 -0.1 3 -0.4 3 -0.6 3 -0.1 3 0 3 0.1 3 0.3 3 0.5 3 0.5 3 0.6 3 0.2 3 0.1 3 0 3 0 3 0 3 -0.1 3 -0.2 3 0 3 0.1 3 -0.6 3 -0.3 3 0 3 0 3 0 3 0.1 3 0 3 -0.1 3 -0.2 3 0.1 3 -0.1 3 0 3 -0.4 3 -0.6 3 0 3 0 3 0.2 3 1.2 3 0 3 0 3 0 3 0 3 0 3 -0.1 3 0 3 0 3 0 3 0 3 0 3 -0.2 3 0 3 0 3 0 3 -0.7 3 -0.7 3 0.3 3 0 3 0.2 3 0.6 3 0.6 3 0.1 3 0.9 3 -0.1 3 0.1 3 -0.1 3 -1.2 3 -0.1 3 0 3 -0.1 3 0 3 0 3 -0.9 3 0 3 0 3 0 3 0 3 0 3 0 3 0 3 0 3 0 3 0 3 0 3 0 3 0 3 0 3 0 3 0 3 1.3 3 0.2 3 0 2 0V380H136Z" fill="#50f800"/>
<path d="M136 283.2l3 0.2 3 0.3 3 0.2 3 0.2 3 0.3 3 0.2 3 0.3 3 0.3 3 0.3 3 0.3 3 0.2 3 0.2 3 0.1 3 0.2 3 0.2 3 0.1 3 0.2 3 0.1 3 0.1 3 0.2 3 0.1 3 0.2 3 0.1 3 0.1 3 0.1 3 0.1 3 0.1 3 0.1 3 0.1 3 0 3 0 3 0 3 0 3 0 3 0.1 3 0 3 0 3 0 3 0 3 0 3 0 3 0 3 0 3 0 3 0 3 0 3 -0.1 3 0 3 0 3 -0.1 3 -0.1 3 -0.1 3 -0.1 3 -0.1 3 -0.1 3 -0.2 3 -0.1 3 -0.1 3 -0.2 3 -0.1 3 -0.1 3 -0.2 3 -0.1 3 -0.1 3 -0.1 3 0 3 -0.1 3 -0.1 3 0 3 -0.1 3 -0.1 3 -0.1 3 -0.1 3 -0.1 3 -0.1 3 -0.1 3 -0.2 3 -0.1 3 -0.2 3 -0.1 3 -0.1 3 0 3 -0.1 3 0.2 3 0.3 3 0.4 3 0.3 3 0.2 3 -0.1 3 -0.1 3 -0.1 3 -0.4 3 -0.8 3 -0.3 3 -0.3 3 -0.1 3 -0.1 3 0 3 0 3 -0.1 3 -0.3 3 -0.8 3 -0.5 3 0.4 3 0.6 3 0.5 3 0.2 3 0 3 -0.2 3 -0.2 3 -0.2 3 -0.1 3 -0.1 3 0.7 3 0.4 3 -0.6 3 -0.5 3 0.2 3 0.4 3 -0.3 3 -0.4 3 -0.3 3 -0.4 3 0 3 0 3 0 3 0.3 3 0.3 3 0.4 3 0.5 3 0.4 3 0.2 3 0 3 0.1 3 -0.1 3 -0.2 3 -0.4 3 0.1 3 0 3 -0.4 3 -0.1 3 0 3 0 3 0 3 0 3 0.1 3 -0.3 3 -0.3 3 0 3 0 3 0 3 -0.3 3 -0.3 3 0 3 0 3 0.2 3 1 3 0 3 0 3 0 3 0 3 0 3 0 3 0 3 0 3 0 3 0 3 -0.1 3 -0.5 3 0 3 0 3 0 3 -0.4 3 -0.8 3 0.6 3 0 3 0.5 3 0.3 3 0.4 3 0.1 3 0.6 3 -0.1 3 0 3 0 3 -1.2 3 0 3 0 3 0 3 0 3 -0.1 3 -0.5 3 0 3 0 3 0 3 0 3 0 3 0 3 0 3 0 3 -0.1 3 0 3 0 3 0 3 0 3 0 3 -0.1 3 0 3 1 3 0.4 3 0 2 -0.1V380H136Z" fill="#5ffb00"/>
<path d="M136 285.6l3 0.3 3 0.3 3 0.3 3 0.3 3 0.3 3 0.3 3 0.3 3 0.3 3 0.3 3 0.3 3 0.2 3 0.2 3 0.2 3 0.2 3 0.2 3 0.1 3 0.2 3 0.2 3 0.1 3 0.2 3 0.1 3 0.2 3 0.1 3 0.1 3 0.1 3 0.1 3 0 3 0 3 0.1 3 0 3 0 3 0 3 0 3 0 3 0 3 0 3 0 3 0 3 0 3 0 3 0 3 0 3 0 3 0 3 -0.1 3 0 3 0 3 -0.1 3 -0.1 3 0 3 -0.1 3 -0.1 3 -0.1 3 -0.1 3 -0.1 3 -0.1 3 -0.1 3 -0.1 3 -0.2 3 -0.1 3 -0.1 3 -0.1 3 -0.1 3 -0.1 3 -0.1 3 -0.1 3 -0.1 3 -0.1 3 -0.1 3 -0.2 3 -0.1 3 -0.1 3 -0.2 3 -0.1 3 -0.2 3 -0.2 3 -0.2 3 -0.2 3 -0.2 3 -0.2 3 -0.1 3 -0.1 3 0 3 0.2 3 0.4 3 0.5 3 0.5 3 0.1 3 0 3 0 3 -0.1 3 -0.4 3 -1.1 3 -0.3 3 -0.2 3 -0.1 3 0 3 -0.1 3 0 3 -0.1 3 -0.3 3 -0.7 3 -0.4 3 0.3 3 0.5 3 0.3 3 0.1 3 0 3 0 3 -0.1 3 -0.1 3 -0.2 3 -0.5 3 0.7 3 0.5 3 -0.6 3 -0.4 3 0.3 3 0.6 3 -0.5 3 -0.6 3 -0.1 3 -0.1 3 0 3 0 3 0 3 0.1 3 0.3 3 0.3 3 0.4 3 0.4 3 0.3 3 0 3 0.1 3 0 3 -0.2 3 -0.6 3 0 3 0 3 -0.1 3 0 3 0 3 0 3 0 3 0 3 0 3 -0.4 3 -0.5 3 0.1 3 -0.1 3 0 3 -0.1 3 -0.1 3 0 3 0 3 0.2 3 1 3 0 3 0 3 0 3 0 3 0 3 -0.1 3 0 3 0 3 0 3 0 3 0 3 -0.8 3 0 3 0 3 0 3 -0.2 3 -0.9 3 0.9 3 0 3 0.7 3 0.2 3 0.1 3 0 3 0.2 3 0 3 0 3 -0.1 3 -1 3 0.1 3 0 3 0 3 0 3 0 3 -0.2 3 0 3 0 3 0 3 0 3 0 3 0 3 0 3 0 3 -0.1 3 0 3 0 3 0 3 0 3 -0.1 3 0 3 0 3 0.6 3 0.5 3 0 2 0V380H136Z" fill="#6efd00"/>
<path d="M136 288l3 0.4 3 0.4 3 0.3 3 0.4 3 0.3 3 0.3 3 0.3 3 0.3 3 0.3 3 0.2 3 0.3 3 0.2 3 0.2 3 0.2 3 0.2 3 0.2 3 0.2 3 0.2 3 0.2 3 0.1 3 0.2 3 0.1 3 0.1 3 0.1 3 0.1 3 0.1 3 0 3 0 3 0 3 0 3 0 3 0 3 0 3 0 3 0 3 0 3 0 3 0 3 0 3 0 3 0 3 0 3 -0.1 3 0 3 0 3 -0.1 3 -0.1 3 0 3 -0.1 3 -0.1 3 -0.1 3 -0.1 3 -0.1 3 -0.1 3 -0.1 3 -0.1 3 -0.1 3 -0.1 3 -0.1 3 -0.1 3 -0.1 3 -0.2 3 -0.1 3 -0.1 3 -0.1 3 -0.1 3 -0.2 3 -0.1 3 -0.2 3 -0.1 3 -0.2 3 -0.1 3 -0.2 3 -0.2 3 -0.2 3 -0.2 3 -0.3 3 -0.2 3 -0.2 3 -0.2 3 -0.2 3 -0.1 3 0 3 0.2 3 0.4 3 0.6 3 0.5 3 0.2 3 0 3 0 3 0 3 -0.4 3 -1.2 3 -0.3 3 -0.2 3 0 3 -0.1 3 0 3 -0.1 3 -0.1 3 -0.2 3 -0.7 3 -0.4 3 0.1 3 0.4 3 0.4 3 0 3 0 3 0 3 0.1 3 0 3 -0.3 3 -0.8 3 0.7 3 0.5 3 -0.4 3 -0.5 3 0.4 3 0.5 3 -0.4 3 -0.7 3 -0.1 3 0 3 0 3 0 3 0 3 0.2 3 0.2 3 0.3 3 0.3 3 0.4 3 0.4 3 0.1 3 0 3 0 3 -0.3 3 -0.6 3 0 3 0 3 0 3 0.1 3 0 3 0 3 0 3 -0.1 3 0 3 -0.5 3 -0.5 3 0 3 0 3 0 3 0 3 0.1 3 0 3 0 3 0.1 3 0.8 3 0 3 0 3 0 3 0 3 0 3 0 3 0 3 0 3 0 3 0 3 -0.1 3 -0.9 3 0 3 0 3 0 3 0 3 -0.8 3 0.9 3 0.2 3 0.7 3 0.1 3 0 3 0 3 -0.1 3 0 3 0 3 -0.1 3 -0.9 3 0 3 0 3 0 3 0 3 0 3 0 3 0 3 0 3 0 3 0 3 0 3 0 3 0 3 0 3 0.1 3 0 3 0 3 0 3 0 3 0 3 0 3 0 3 0.3 3 0.7 3 0 2 0V380H136Z" fill="#82fd00"/>
<path d="M136 290.6l3 0.4 3 0.4 3 0.3 3 0.4 3 0.3 3 0.3 3 0.3 3 0.3 3 0.3 3 0.2 3 0.3 3 0.2 3 0.2 3 0.3 3 0.1 3 0.2 3 0.3 3 0.2 3 0.1 3 0.2 3 0.2 3 0.1 3 0.1 3 0.1 3 0 3 0.1 3 0 3 0 3 0 3 0 3 0 3 0 3 0 3 0 3 0 3 0 3 0 3 0 3 0 3 0 3 0 3 0 3 0 3 -0.1 3 -0.1 3 0 3 -0.1 3 -0.1 3 -0.1 3 -0.1 3 -0.1 3 -0.1 3 -0.1 3 -0.1 3 -0.1 3 -0.2 3 -0.1 3 -0.1 3 -0.1 3 -0.2 3 -0.1 3 -0.2 3 -0.1 3 -0.2 3 -0.1 3 -0.2 3 -0.1 3 -0.2 3 -0.2 3 -0.2 3 -0.2 3 -0.2 3 -0.2 3 -0.2 3 -0.2 3 -0.2 3 -0.3 3 -0.2 3 -0.2 3 -0.2 3 -0.1 3 -0.1 3 0 3 0.2 3 0.4 3 0.5 3 0.4 3 0.3 3 0.1 3 0.1 3 0.1 3 -0.4 3 -1.2 3 -0.4 3 -0.2 3 -0.1 3 0 3 -0.1 3 0 3 -0.1 3 -0.2 3 -0.6 3 -0.6 3 -0.1 3 0.5 3 0.4 3 0.2 3 0 3 0 3 0 3 0 3 -0.3 3 -0.9 3 0.6 3 0.7 3 -0.3 3 -0.6 3 0.2 3 0.4 3 -0.4 3 -0.6 3 0 3 0 3 0 3 0 3 0 3 0.2 3 0.3 3 0.3 3 0.2 3 0.4 3 0.4 3 0.4 3 -0.4 3 0 3 -0.2 3 -0.5 3 0 3 0 3 0.1 3 0 3 0 3 0 3 0 3 -0.2 3 -0.2 3 -0.4 3 -0.4 3 -0.3 3 0.2 3 0.1 3 0.1 3 0 3 0 3 0.1 3 0.1 3 0.6 3 0 3 0 3 0 3 0 3 0 3 0 3 0 3 0 3 0 3 0 3 -0.1 3 -1.1 3 0 3 0 3 0 3 0.4 3 -0.6 3 0.7 3 0.4 3 0.6 3 0.1 3 -0.1 3 0 3 -0.4 3 0 3 0 3 -0.1 3 -0.6 3 -0.4 3 0 3 0 3 0 3 0 3 0.1 3 0 3 0 3 0 3 0 3 0 3 0 3 0 3 0 3 0.4 3 0 3 0 3 0 3 0 3 0.3 3 0 3 0 3 0.3 3 0.7 3 0.2 2 0V380H136Z" fill="#96fd00"/>
<path d="M136 293.3l3 0.4 3 0.3 3 0.4 3 0.3 3 0.3 3 0.3 3 0.3 3 0.3 3 0.2 3 0.3 3 0.2 3 0.3 3 0.2 3 0.2 3 0.2 3 0.2 3 0.2 3 0.3 3 0.2 3 0.2 3 0.1 3 0.1 3 0.1 3 0.1 3 0 3 0 3 0 3 0 3 0 3 0.1 3 0 3 0 3 0 3 0 3 0 3 0 3 0 3 0 3 0 3 0 3 0 3 0 3 -0.1 3 0 3 -0.1 3 -0.1 3 -0.1 3 -0.1 3 -0.1 3 -0.1 3 -0.1 3 -0.2 3 -0.1 3 -0.1 3 -0.2 3 -0.1 3 -0.1 3 -0.2 3 -0.1 3 -0.2 3 -0.2 3 -0.2 3 -0.1 3 -0.2 3 -0.2 3 -0.2 3 -0.2 3 -0.2 3 -0.2 3 -0.2 3 -0.2 3 -0.3 3 -0.2 3 -0.2 3 -0.2 3 -0.3 3 -0.2 3 -0.2 3 -0.1 3 -0.2 3 -0.1 3 0 3 -0.1 3 0.2 3 0.3 3 0.4 3 0.4 3 0.3 3 0.2 3 0.2 3 0.1 3 -0.3 3 -1.1 3 -0.4 3 -0.2 3 -0.2 3 -0.1 3 -0.1 3 0 3 -0.1 3 -0.2 3 -0.4 3 -0.9 3 -0.3 3 0.5 3 0.6 3 0.3 3 0 3 0 3 0 3 0 3 -0.4 3 -0.9 3 0.5 3 0.8 3 -0.1 3 -0.8 3 0 3 0.1 3 -0.2 3 -0.4 3 0 3 0 3 0 3 0 3 0 3 0.2 3 0.4 3 0.3 3 0.3 3 0.3 3 0.3 3 0.7 3 -0.8 3 0 3 -0.1 3 -0.3 3 0 3 0.1 3 0 3 0 3 0 3 0 3 0 3 -0.4 3 -0.4 3 -0.3 3 -0.3 3 -0.5 3 0.4 3 0.2 3 0.1 3 0 3 0 3 0.1 3 0 3 0.4 3 0 3 0 3 0 3 0 3 0 3 0 3 0 3 0 3 0 3 0 3 -0.1 3 -1.1 3 0 3 0 3 0 3 0.6 3 -0.2 3 0.4 3 0.7 3 0.4 3 0 3 0 3 0 3 -0.7 3 0 3 -0.1 3 0 3 -0.4 3 -0.7 3 0 3 0 3 0 3 0 3 0 3 0 3 0 3 0 3 0 3 0 3 0 3 0 3 0 3 0.8 3 0 3 0 3 0 3 0.1 3 0.6 3 0.1 3 0 3 0.3 3 0.7 3 0.3 2 0.1V380H136Z" fill="#a5fd00"/>
<path d="M136 296.1l3 0.3 3 0.3 3 0.3 3 0.3 3 0.3 3 0.3 3 0.3 3 0.2 3 0.3 3 0.2 3 0.3 3 0.2 3 0.2 3 0.2 3 0.2 3 0.3 3 0.2 3 0.2 3 0.2 3 0.2 3 0.2 3 0.1 3 0.1 3 0 3 0 3 0.1 3 0 3 0 3 0 3 0 3 0 3 0 3 0.1 3 0 3 0 3 0 3 0 3 0 3 0 3 0 3 0 3 0 3 -0.1 3 -0.1 3 0 3 -0.1 3 -0.1 3 -0.1 3 -0.2 3 -0.1 3 -0.1 3 -0.2 3 -0.1 3 -0.2 3 -0.1 3 -0.2 3 -0.1 3 -0.2 3 -0.2 3 -0.1 3 -0.3 3 -0.2 3 -0.2 3 -0.2 3 -0.2 3 -0.2 3 -0.2 3 -0.2 3 -0.2 3 -0.3 3 -0.2 3 -0.3 3 -0.2 3 -0.3 3 -0.2 3 -0.2 3 -0.2 3 -0.2 3 -0.2 3 -0.1 3 -0.1 3 0 3 -0.1 3 0.1 3 0.3 3 0.3 3 0.3 3 0.2 3 0.3 3 0.3 3 0.2 3 -0.2 3 -0.9 3 -0.5 3 -0.3 3 -0.2 3 -0.1 3 -0.1 3 -0.1 3 -0.1 3 -0.1 3 -0.3 3 -1.1 3 -0.5 3 0.4 3 0.7 3 0.5 3 0 3 0 3 -0.1 3 0 3 -0.3 3 -0.9 3 0.4 3 0.9 3 0 3 -0.9 3 -0.2 3 -0.1 3 -0.1 3 -0.2 3 -0.1 3 0 3 0 3 0 3 0 3 0.3 3 0.5 3 0.3 3 0.2 3 0.2 3 0.4 3 0.9 3 -1.2 3 0 3 0 3 -0.1 3 0 3 0.1 3 0 3 -0.1 3 0 3 0 3 0.1 3 -0.6 3 -0.6 3 -0.1 3 -0.3 3 -0.6 3 0.5 3 0.4 3 0 3 0.1 3 0 3 0 3 0.1 3 0.1 3 0 3 0 3 0 3 0 3 0 3 0 3 0 3 0 3 0 3 0 3 -0.1 3 -1.1 3 0 3 0 3 0 3 0.9 3 0 3 0.2 3 0.9 3 0.1 3 0.1 3 0 3 0 3 -1 3 0 3 -0.1 3 0 3 -0.2 3 -0.9 3 0 3 0 3 0 3 0 3 0 3 0 3 0 3 0 3 0 3 0 3 0 3 -0.1 3 0.1 3 1.1 3 0 3 0 3 0 3 0.2 3 0.9 3 0.1 3 0 3 0.4 3 0.7 3 0.5 2 0V380H136Z" fill="#b4ff00"/>
<path d="M136 298.9l3 0.3 3 0.3 3 0.3 3 0.2 3 0.3 3 0.2 3 0.3 3 0.2 3 0.3 3 0.2 3 0.2 3 0.3 3 0.2 3 0.2 3 0.2 3 0.2 3 0.2 3 0.3 3 0.2 3 0.2 3 0.1 3 0.1 3 0.1 3 0.1 3 0 3 0 3 0.1 3 0 3 0 3 0 3 0 3 0.1 3 0 3 0 3 0 3 0 3 0 3 0 3 0 3 0 3 0 3 -0.1 3 0 3 -0.1 3 -0.1 3 -0.1 3 -0.1 3 -0.1 3 -0.1 3 -0.2 3 -0.1 3 -0.1 3 -0.2 3 -0.1 3 -0.1 3 -0.2 3 -0.1 3 -0.2 3 -0.2 3 -0.2 3 -0.2 3 -0.2 3 -0.2 3 -0.2 3 -0.2 3 -0.2 3 -0.2 3 -0.2 3 -0.3 3 -0.2 3 -0.3 3 -0.2 3 -0.3 3 -0.2 3 -0.3 3 -0.3 3 -0.2 3 -0.3 3 -0.2 3 -0.2 3 -0.1 3 -0.1 3 0 3 0 3 0.2 3 0.2 3 0.3 3 0.3 3 0.3 3 0.4 3 0.2 3 -0.2 3 -0.7 3 -0.4 3 -0.3 3 -0.3 3 -0.2 3 -0.2 3 0 3 -0.1 3 -0.2 3 -0.2 3 -1.1 3 -0.7 3 0.3 3 0.7 3 0.5 3 0 3 0.1 3 0 3 0 3 -0.3 3 -0.8 3 0.3 3 0.8 3 0 3 -0.9 3 -0.2 3 -0.2 3 -0.1 3 0 3 -0.1 3 -0.1 3 0 3 -0.1 3 0.1 3 0.3 3 0.5 3 0.4 3 0.2 3 0.2 3 0.2 3 1 3 -1.2 3 0 3 0 3 0 3 0 3 -0.1 3 0 3 0.1 3 0 3 0 3 0 3 -0.6 3 -0.7 3 -0.1 3 -0.2 3 -0.7 3 0.6 3 0.5 3 0.1 3 0 3 0 3 0.1 3 0 3 -0.1 3 0.1 3 0 3 0 3 0 3 0 3 0 3 0 3 0 3 -0.1 3 -0.1 3 -0.1 3 -1 3 0 3 0 3 0 3 1.1 3 0.2 3 0.1 3 1 3 0 3 -0.2 3 0 3 0 3 -0.9 3 -0.2 3 0 3 -0.1 3 0 3 -1 3 0 3 0 3 0 3 0 3 0 3 0 3 0 3 0 3 0 3 0 3 0 3 0.1 3 0 3 1.2 3 0 3 0.1 3 0.1 3 0.3 3 1 3 0.2 3 0.1 3 0.4 3 0.7 3 0.5 2 0.1V380H136Z" fill="#c3ff00"/>
<path d="M136 301.9l3 0.2 3 0.3 3 0.2 3 0.2 3 0.3 3 0.2 3 0.2 3 0.2 3 0.2 3 0.2 3 0.3 3 0.2 3 0.2 3 0.2 3 0.2 3 0.1 3 0.2 3 0.2 3 0.2 3 0.2 3 0.2 3 0.1 3 0.1 3 0.1 3 0 3 0.1 3 0.1 3 0 3 0.1 3 0 3 0 3 0 3 0 3 0 3 0 3 0 3 0 3 0 3 -0.1 3 0 3 0 3 -0.1 3 0 3 -0.1 3 -0.1 3 -0.1 3 0 3 -0.1 3 -0.1 3 -0.1 3 -0.2 3 -0.1 3 -0.1 3 -0.1 3 -0.1 3 -0.1 3 -0.1 3 -0.2 3 -0.1 3 -0.2 3 -0.1 3 -0.2 3 -0.2 3 -0.2 3 -0.1 3 -0.2 3 -0.2 3 -0.2 3 -0.2 3 -0.2 3 -0.2 3 -0.2 3 -0.2 3 -0.3 3 -0.3 3 -0.4 3 -0.4 3 -0.4 3 -0.4 3 -0.4 3 -0.3 3 -0.2 3 0 3 0 3 0.2 3 0.2 3 0.2 3 0.2 3 0.3 3 0.4 3 0.3 3 0 3 -0.5 3 -0.4 3 -0.3 3 -0.3 3 -0.3 3 -0.2 3 -0.2 3 -0.1 3 -0.1 3 -0.2 3 -1 3 -0.9 3 0.1 3 0.6 3 0.4 3 0.2 3 0.1 3 0.1 3 0.1 3 -0.2 3 -0.6 3 0.1 3 0.4 3 0.1 3 -0.7 3 -0.1 3 -0.2 3 0 3 0 3 -0.1 3 -0.2 3 -0.1 3 -0.1 3 0 3 0.3 3 0.6 3 0.5 3 0.2 3 0 3 0.2 3 0.7 3 -0.9 3 0 3 0 3 0.1 3 0 3 -0.4 3 0.1 3 0.1 3 0.1 3 0 3 -0.1 3 -0.5 3 -0.6 3 -0.3 3 -0.1 3 -0.5 3 0.5 3 0.7 3 0 3 0 3 0.1 3 0 3 0 3 -0.1 3 0 3 0.1 3 0 3 0 3 0 3 0 3 0 3 0 3 -0.4 3 -0.2 3 0 3 -0.7 3 0 3 0 3 0 3 1.1 3 0.2 3 0.2 3 1 3 -0.1 3 -0.5 3 0 3 0 3 -0.7 3 -0.4 3 -0.1 3 0 3 0 3 -0.7 3 0 3 0 3 0 3 0 3 0 3 0 3 0 3 0 3 -0.1 3 0 3 0 3 0.4 3 0 3 0.9 3 0.1 3 0.2 3 0.3 3 0.4 3 0.9 3 0.3 3 0.3 3 0.5 3 0.6 3 0.5 2 0.1V380H136Z" fill="#d7fa00"/>
<path d="M136 304.8l3 0.2 3 0.2 3 0.2 3 0.2 3 0.2 3 0.2 3 0.2 3 0.2 3 0.2 3 0.2 3 0.2 3 0.2 3 0.2 3 0.1 3 0.2 3 0.2 3 0.1 3 0.2 3 0.2 3 0.1 3 0.2 3 0.1 3 0.2 3 0.1 3 0.1 3 0.1 3 0.1 3 0 3 0.1 3 0 3 0.1 3 0 3 0 3 -0.1 3 0 3 0 3 0 3 -0.1 3 0 3 0 3 -0.1 3 -0.1 3 0 3 -0.1 3 -0.1 3 0 3 -0.1 3 -0.1 3 -0.1 3 0 3 -0.1 3 -0.1 3 -0.1 3 -0.1 3 0 3 -0.1 3 -0.1 3 -0.1 3 -0.1 3 -0.1 3 -0.1 3 -0.1 3 -0.2 3 -0.1 3 -0.1 3 -0.2 3 -0.1 3 -0.1 3 -0.2 3 -0.1 3 -0.2 3 -0.2 3 -0.1 3 -0.3 3 -0.4 3 -0.5 3 -0.6 3 -0.7 3 -0.6 3 -0.6 3 -0.4 3 -0.3 3 -0.1 3 0 3 0.2 3 0.1 3 0.2 3 0.2 3 0.3 3 0.4 3 0.3 3 0.1 3 -0.2 3 -0.3 3 -0.3 3 -0.4 3 -0.4 3 -0.3 3 -0.2 3 -0.1 3 -0.2 3 -0.2 3 -0.7 3 -1.1 3 -0.2 3 0.4 3 0.4 3 0.3 3 0.2 3 0.3 3 0.2 3 -0.1 3 -0.5 3 -0.1 3 0.1 3 0 3 -0.3 3 -0.1 3 0 3 -0.1 3 0 3 -0.1 3 -0.2 3 -0.2 3 -0.3 3 0 3 0.4 3 0.6 3 0.5 3 0.2 3 0.1 3 0.1 3 0.3 3 -0.4 3 0 3 0 3 0 3 0 3 -0.7 3 0.2 3 0.2 3 0.1 3 0 3 -0.1 3 -0.4 3 -0.5 3 -0.5 3 0 3 -0.2 3 0.2 3 0.9 3 0 3 0 3 0.1 3 0 3 0 3 -0.1 3 0 3 0.1 3 0 3 0 3 0 3 0 3 0 3 -0.1 3 -0.7 3 -0.2 3 0 3 -0.3 3 0 3 0 3 0.1 3 1 3 0.1 3 0.5 3 0.7 3 0 3 -1 3 0 3 0 3 -0.2 3 -0.8 3 -0.1 3 0 3 0 3 -0.3 3 0 3 0 3 0 3 0 3 0 3 0 3 0 3 0 3 -0.1 3 -0.1 3 0.1 3 0.7 3 0 3 0.5 3 0.2 3 0.4 3 0.5 3 0.5 3 0.7 3 0.5 3 0.4 3 0.5 3 0.6 3 0.5 2 0.1V380H136Z" fill="#ebfa00"/>
<path d="M136 307.6l3 0.1 3 0.2 3 0.2 3 0.2 3 0.1 3 0.2 3 0.2 3 0.2 3 0.2 3 0.1 3 0.2 3 0.2 3 0.2 3 0.2 3 0.1 3 0.2 3 0.1 3 0.2 3 0.2 3 0.1 3 0.2 3 0.1 3 0.2 3 0.1 3 0.1 3 0.1 3 0.1 3 0.1 3 0.1 3 0 3 0.1 3 0 3 0 3 -0.1 3 0 3 0 3 -0.1 3 0 3 -0.1 3 0 3 -0.1 3 0 3 -0.1 3 -0.1 3 0 3 -0.1 3 -0.1 3 0 3 -0.1 3 -0.1 3 0 3 -0.1 3 0 3 -0.1 3 -0.1 3 0 3 -0.1 3 -0.1 3 -0.1 3 0 3 -0.1 3 -0.1 3 -0.1 3 -0.1 3 -0.1 3 -0.1 3 -0.1 3 -0.2 3 -0.1 3 -0.1 3 -0.2 3 -0.2 3 -0.1 3 -0.3 3 -0.4 3 -0.6 3 -0.7 3 -0.8 3 -0.8 3 -0.6 3 -0.6 3 -0.4 3 -0.1 3 0 3 0.1 3 0.2 3 0.1 3 0.2 3 0.2 3 0.4 3 0.4 3 0.2 3 -0.1 3 -0.2 3 -0.2 3 -0.4 3 -0.5 3 -0.4 3 -0.2 3 -0.2 3 -0.2 3 -0.3 3 -0.5 3 -1.1 3 -0.4 3 0.2 3 0.4 3 0.3 3 0.3 3 0.4 3 0.2 3 0 3 -0.2 3 -0.3 3 -0.1 3 -0.1 3 0 3 -0.1 3 0 3 0 3 0 3 -0.1 3 -0.3 3 -0.3 3 -0.3 3 0 3 0.4 3 0.6 3 0.6 3 0.2 3 0 3 0 3 0.1 3 -0.1 3 0 3 0 3 0 3 0 3 -0.9 3 0.2 3 0.3 3 0.1 3 -0.1 3 -0.1 3 -0.2 3 -0.4 3 -0.8 3 0.1 3 0 3 0.2 3 1 3 0 3 0 3 0 3 0 3 0 3 0 3 0 3 0 3 0 3 0 3 0 3 0 3 0 3 -0.1 3 -0.9 3 -0.2 3 0 3 -0.1 3 0 3 0 3 0.3 3 0.8 3 0.1 3 0.5 3 0.6 3 0 3 -1.2 3 0 3 0 3 0 3 -1 3 0 3 0 3 0 3 -0.1 3 0 3 0 3 0 3 0 3 0 3 0 3 0 3 0 3 0 3 0 3 0.1 3 0.9 3 0 3 0.2 3 0.3 3 0.5 3 0.7 3 0.6 3 0.6 3 0.5 3 0.5 3 0.6 3 0.5 3 0.4 2 0V380H136Z" fill="#fafa00"/>
<path d="M136 309.9l3 0.2 3 0.2 3 0.2 3 0.2 3 0.1 3 0.2 3 0.2 3 0.2 3 0.2 3 0.2 3 0.2 3 0.2 3 0.2 3 0.1 3 0.2 3 0.2 3 0.2 3 0.1 3 0.2 3 0.2 3 0.2 3 0.1 3 0.2 3 0.1 3 0.1 3 0.1 3 0.1 3 0.1 3 0 3 0.1 3 0 3 0 3 0 3 -0.1 3 0 3 0 3 -0.1 3 0 3 0 3 -0.1 3 -0.1 3 0 3 -0.1 3 0 3 -0.1 3 -0.1 3 -0.1 3 0 3 -0.1 3 -0.1 3 0 3 -0.1 3 -0.1 3 -0.1 3 0 3 -0.1 3 -0.1 3 -0.1 3 -0.1 3 -0.1 3 -0.1 3 -0.1 3 -0.1 3 -0.1 3 -0.1 3 -0.1 3 -0.2 3 -0.1 3 -0.2 3 -0.2 3 -0.2 3 -0.2 3 -0.2 3 -0.3 3 -0.4 3 -0.6 3 -0.7 3 -0.7 3 -0.7 3 -0.6 3 -0.6 3 -0.4 3 -0.1 3 0 3 0 3 0.1 3 0.1 3 0.1 3 0.3 3 0.4 3 0.4 3 0.2 3 0 3 -0.1 3 -0.2 3 -0.4 3 -0.5 3 -0.4 3 -0.3 3 -0.2 3 -0.2 3 -0.3 3 -0.4 3 -1.2 3 -0.5 3 0.1 3 0.4 3 0.5 3 0.3 3 0.3 3 0.2 3 0 3 -0.2 3 -0.1 3 -0.1 3 -0.1 3 0 3 -0.1 3 -0.1 3 0 3 -0.1 3 -0.1 3 -0.3 3 -0.3 3 -0.3 3 0 3 0.5 3 0.7 3 0.6 3 0.1 3 0 3 0 3 -0.1 3 0.1 3 0 3 0 3 0 3 0 3 -0.8 3 0.2 3 0.2 3 -0.1 3 -0.1 3 0 3 -0.2 3 -0.4 3 -0.7 3 0 3 0.1 3 0.3 3 0.9 3 0 3 0 3 0 3 0 3 0 3 0 3 0 3 0 3 0 3 -0.1 3 0 3 0 3 -0.1 3 -0.2 3 -0.8 3 -0.1 3 0 3 0 3 0 3 0 3 0.4 3 0.7 3 0 3 0.5 3 0.5 3 0 3 -1.2 3 0 3 0 3 -0.1 3 -0.8 3 -0.1 3 0 3 0 3 0.1 3 0 3 0 3 0 3 0 3 0 3 0 3 0 3 0 3 0.2 3 0.1 3 0.2 3 0.9 3 0.2 3 0 3 0.4 3 0.6 3 0.8 3 0.6 3 0.5 3 0.6 3 0.5 3 0.4 3 0.4 3 0.3 2 0V380H136Z" fill="#fff000"/>
<path d="M136 312l3 0.2 3 0.2 3 0.2 3 0.2 3 0.3 3 0.2 3 0.2 3 0.2 3 0.2 3 0.2 3 0.2 3 0.2 3 0.2 3 0.2 3 0.2 3 0.2 3 0.3 3 0.2 3 0.2 3 0.2 3 0.2 3 0.2 3 0.1 3 0.1 3 0 3 0.1 3 0.1 3 0 3 0.1 3 0 3 0 3 0 3 0 3 0 3 0 3 -0.1 3 0 3 0 3 -0.1 3 0 3 0 3 -0.1 3 -0.1 3 0 3 -0.1 3 -0.1 3 -0.1 3 -0.1 3 -0.1 3 -0.1 3 -0.1 3 -0.1 3 -0.1 3 -0.1 3 -0.1 3 -0.1 3 -0.1 3 -0.1 3 -0.1 3 -0.1 3 -0.2 3 -0.1 3 -0.2 3 -0.1 3 -0.2 3 -0.2 3 -0.1 3 -0.2 3 -0.3 3 -0.2 3 -0.3 3 -0.2 3 -0.3 3 -0.3 3 -0.5 3 -0.5 3 -0.5 3 -0.6 3 -0.6 3 -0.5 3 -0.4 3 -0.4 3 -0.1 3 -0.1 3 0 3 -0.1 3 0.1 3 0 3 0.3 3 0.4 3 0.4 3 0.2 3 0 3 0 3 -0.2 3 -0.2 3 -0.5 3 -0.5 3 -0.3 3 -0.2 3 -0.2 3 -0.3 3 -0.5 3 -1 3 -0.7 3 0.1 3 0.5 3 0.5 3 0.3 3 0.2 3 0.1 3 0 3 -0.1 3 0 3 0.2 3 -0.1 3 -0.1 3 -0.2 3 -0.2 3 -0.1 3 -0.2 3 -0.1 3 -0.3 3 -0.2 3 -0.2 3 0 3 0.5 3 0.9 3 0.5 3 0.1 3 0 3 0 3 -0.1 3 0.1 3 0 3 0 3 0 3 0 3 -0.5 3 0.1 3 0.2 3 -0.6 3 0 3 -0.1 3 0 3 -0.4 3 -0.8 3 0.1 3 0 3 0.5 3 0.8 3 0 3 0 3 0 3 0 3 -0.1 3 0 3 0 3 0 3 0 3 0 3 0 3 0 3 -0.3 3 -0.3 3 -0.6 3 0 3 -0.1 3 0.1 3 0 3 -0.1 3 0.7 3 0.4 3 0 3 0.4 3 0.2 3 0 3 -0.7 3 0 3 0 3 -0.4 3 -0.6 3 0 3 0 3 0 3 0.1 3 0 3 0 3 0 3 0 3 0 3 -0.1 3 0 3 0 3 0.5 3 0.3 3 0.3 3 0.9 3 0.3 3 0.2 3 0.4 3 0.6 3 0.8 3 0.7 3 0.5 3 0.4 3 0.5 3 0.2 3 0.2 3 0.1 2 0V380H136Z" fill="#ffe100"/>
<path d="M136 314l3 0.3 3 0.2 3 0.3 3 0.2 3 0.2 3 0.3 3 0.2 3 0.2 3 0.3 3 0.2 3 0.3 3 0.2 3 0.2 3 0.3 3 0.2 3 0.2 3 0.3 3 0.3 3 0.3 3 0.2 3 0.2 3 0.2 3 0 3 0.1 3 0 3 0 3 0.1 3 0 3 0 3 0 3 0 3 0 3 0 3 0 3 0 3 0 3 0 3 0 3 -0.1 3 0 3 0 3 0 3 -0.1 3 -0.1 3 -0.1 3 -0.1 3 -0.1 3 -0.1 3 -0.1 3 -0.2 3 -0.1 3 -0.1 3 -0.2 3 -0.1 3 -0.2 3 -0.1 3 -0.1 3 -0.2 3 -0.1 3 -0.2 3 -0.1 3 -0.2 3 -0.2 3 -0.2 3 -0.2 3 -0.2 3 -0.2 3 -0.3 3 -0.3 3 -0.3 3 -0.3 3 -0.3 3 -0.4 3 -0.3 3 -0.4 3 -0.5 3 -0.4 3 -0.5 3 -0.4 3 -0.4 3 -0.3 3 -0.3 3 -0.1 3 -0.2 3 -0.1 3 -0.1 3 0 3 0 3 0.2 3 0.4 3 0.4 3 0.3 3 0 3 -0.1 3 0 3 -0.2 3 -0.4 3 -0.6 3 -0.3 3 -0.2 3 -0.3 3 -0.3 3 -0.4 3 -0.9 3 -0.8 3 0 3 0.6 3 0.6 3 0.3 3 0 3 0 3 -0.1 3 0 3 0.3 3 0.4 3 -0.1 3 -0.3 3 -0.3 3 -0.3 3 -0.2 3 -0.1 3 -0.2 3 -0.3 3 -0.1 3 -0.2 3 0 3 0.7 3 0.9 3 0.6 3 0 3 0 3 0 3 0 3 0 3 0 3 0 3 0 3 0 3 -0.2 3 0.1 3 0 3 -1 3 0 3 0 3 0 3 -0.3 3 -0.8 3 0 3 0.1 3 0.6 3 0.6 3 0 3 0 3 0 3 0 3 0 3 0 3 0 3 0 3 -0.1 3 0 3 0 3 0 3 -0.5 3 -0.4 3 -0.2 3 0 3 0 3 -0.1 3 0 3 0 3 0.8 3 0.2 3 0 3 0.2 3 0.1 3 0 3 -0.3 3 0.1 3 0 3 -0.9 3 -0.2 3 0 3 0 3 0 3 0 3 0 3 0 3 0 3 0 3 0 3 0 3 -0.1 3 0 3 0.9 3 0.5 3 0.5 3 0.7 3 0.5 3 0.4 3 0.4 3 0.6 3 0.7 3 0.7 3 0.5 3 0.4 3 0.3 3 0 3 0 3 0 2 0V380H136Z" fill="#ffd200"/>
<path d="M136 316.2l3 0.3 3 0.3 3 0.2 3 0.3 3 0.3 3 0.2 3 0.3 3 0.2 3 0.3 3 0.2 3 0.3 3 0.2 3 0.3 3 0.2 3 0.3 3 0.3 3 0.3 3 0.3 3 0.3 3 0.3 3 0.2 3 0.1 3 0.1 3 0 3 0 3 0 3 0 3 0 3 0 3 0 3 0 3 0 3 0 3 0 3 0 3 0 3 0 3 0 3 0 3 0 3 0 3 -0.1 3 0 3 -0.1 3 -0.1 3 -0.1 3 -0.1 3 -0.2 3 -0.1 3 -0.2 3 -0.1 3 -0.2 3 -0.2 3 -0.1 3 -0.2 3 -0.1 3 -0.2 3 -0.2 3 -0.1 3 -0.2 3 -0.2 3 -0.2 3 -0.2 3 -0.3 3 -0.2 3 -0.2 3 -0.3 3 -0.3 3 -0.3 3 -0.3 3 -0.4 3 -0.4 3 -0.4 3 -0.4 3 -0.4 3 -0.3 3 -0.4 3 -0.4 3 -0.3 3 -0.3 3 -0.3 3 -0.2 3 -0.2 3 -0.2 3 -0.1 3 -0.2 3 0 3 -0.1 3 0.2 3 0.4 3 0.4 3 0.3 3 0 3 0 3 0 3 -0.1 3 -0.4 3 -0.6 3 -0.4 3 -0.2 3 -0.3 3 -0.3 3 -0.4 3 -0.8 3 -0.8 3 0 3 0.5 3 0.6 3 0.3 3 -0.1 3 0 3 -0.1 3 -0.1 3 0.4 3 0.6 3 -0.1 3 -0.3 3 -0.4 3 -0.3 3 -0.3 3 -0.2 3 -0.2 3 -0.2 3 -0.1 3 -0.1 3 0 3 0.8 3 0.9 3 0.5 3 0 3 0 3 0 3 0 3 0 3 0 3 0 3 0 3 0 3 0 3 0 3 0 3 -1.2 3 0 3 0 3 0 3 -0.2 3 -0.8 3 0 3 0 3 0.8 3 0.4 3 0 3 0 3 0 3 0 3 0 3 0 3 0 3 0 3 -0.1 3 0 3 -0.1 3 0 3 -0.6 3 -0.4 3 0 3 0 3 0 3 0 3 0 3 0.1 3 0.9 3 0 3 0 3 0 3 0 3 0 3 0 3 0 3 0 3 -1 3 0 3 0 3 0 3 0 3 0 3 0 3 0 3 0 3 0 3 0 3 0 3 0 3 0 3 1.1 3 0.7 3 0.6 3 0.6 3 0.6 3 0.5 3 0.5 3 0.5 3 0.7 3 0.7 3 0.5 3 0.3 3 0.2 3 0 3 -0.1 3 -0.1 2 0V380H136Z" fill="#ffc000"/>
<path d="M136 318.7l3 0.3 3 0.3 3 0.3 3 0.2 3 0.3 3 0.3 3 0.2 3 0.3 3 0.3 3 0.2 3 0.3 3 0.2 3 0.3 3 0.2 3 0.3 3 0.3 3 0.3 3 0.3 3 0.4 3 0.2 3 0.3 3 0.1 3 0.1 3 0 3 -0.1 3 0 3 0 3 0 3 0 3 0 3 0 3 0 3 0 3 0 3 0 3 0 3 0 3 0 3 0 3 0 3 0 3 0 3 -0.1 3 -0.1 3 -0.1 3 -0.1 3 -0.1 3 -0.2 3 -0.1 3 -0.2 3 -0.1 3 -0.2 3 -0.2 3 -0.1 3 -0.2 3 -0.2 3 -0.1 3 -0.2 3 -0.2 3 -0.2 3 -0.2 3 -0.2 3 -0.2 3 -0.2 3 -0.2 3 -0.2 3 -0.3 3 -0.3 3 -0.3 3 -0.3 3 -0.4 3 -0.3 3 -0.4 3 -0.4 3 -0.4 3 -0.5 3 -0.4 3 -0.4 3 -0.4 3 -0.4 3 -0.3 3 -0.2 3 -0.2 3 -0.2 3 -0.1 3 -0.1 3 -0.1 3 0 3 0.1 3 0.5 3 0.4 3 0.2 3 0 3 0 3 0 3 0 3 -0.4 3 -0.5 3 -0.5 3 -0.4 3 -0.3 3 -0.3 3 -0.4 3 -0.7 3 -0.6 3 -0.1 3 0.4 3 0.5 3 0.2 3 0.1 3 -0.1 3 -0.1 3 -0.1 3 0.4 3 0.5 3 0 3 -0.3 3 -0.3 3 -0.4 3 -0.2 3 -0.2 3 -0.2 3 -0.2 3 -0.1 3 -0.1 3 0.1 3 0.7 3 0.9 3 0.4 3 0 3 0 3 0 3 0 3 0 3 0 3 0 3 0 3 0 3 0 3 0 3 0 3 -1.1 3 -0.1 3 -0.1 3 0.1 3 -0.2 3 -0.8 3 0 3 0 3 0.9 3 0.3 3 0 3 0 3 0 3 -0.1 3 0 3 0 3 0 3 -0.1 3 0 3 0 3 -0.1 3 0 3 -0.6 3 -0.4 3 0.1 3 -0.2 3 0 3 0.3 3 0 3 0.3 3 0.8 3 -0.1 3 0 3 0 3 -0.1 3 0 3 0.1 3 -0.2 3 0 3 -0.9 3 0.1 3 0 3 0 3 0 3 0 3 0 3 -0.1 3 0 3 0 3 0 3 0.2 3 0.1 3 0.1 3 1.2 3 0.7 3 0.6 3 0.6 3 0.6 3 0.6 3 0.5 3 0.6 3 0.6 3 0.6 3 0.5 3 0.3 3 0.2 3 0 3 0 3 -0.1 2 0V380H136Z" fill="#ffac00"/>
<path d="M136 321.4l3 0.3 3 0.3 3 0.2 3 0.3 3 0.3 3 0.2 3 0.3 3 0.3 3 0.2 3 0.3 3 0.2 3 0.3 3 0.3 3 0.2 3 0.3 3 0.3 3 0.3 3 0.3 3 0.3 3 0.3 3 0.3 3 0.1 3 0 3 0 3 0 3 0 3 0 3 0 3 0 3 0 3 0 3 0 3 0 3 0 3 0 3 0 3 0 3 0 3 0 3 0 3 0 3 -0.1 3 0 3 -0.1 3 -0.1 3 -0.1 3 -0.1 3 -0.2 3 -0.1 3 -0.2 3 -0.2 3 -0.1 3 -0.2 3 -0.2 3 -0.1 3 -0.2 3 -0.1 3 -0.2 3 -0.1 3 -0.2 3 -0.2 3 -0.2 3 -0.1 3 -0.2 3 -0.2 3 -0.2 3 -0.2 3 -0.3 3 -0.2 3 -0.3 3 -0.3 3 -0.3 3 -0.3 3 -0.4 3 -0.5 3 -0.5 3 -0.6 3 -0.6 3 -0.6 3 -0.5 3 -0.4 3 -0.4 3 -0.1 3 -0.1 3 -0.1 3 0 3 -0.1 3 0 3 0.2 3 0.5 3 0.4 3 0.2 3 -0.1 3 0 3 0 3 0 3 -0.2 3 -0.6 3 -0.5 3 -0.6 3 -0.3 3 -0.3 3 -0.4 3 -0.5 3 -0.5 3 -0.1 3 0.2 3 0.2 3 0.1 3 0.4 3 -0.1 3 -0.1 3 -0.2 3 0.2 3 0.4 3 0.1 3 -0.1 3 -0.3 3 -0.3 3 -0.2 3 -0.2 3 -0.2 3 -0.1 3 -0.1 3 -0.1 3 0 3 0.7 3 0.8 3 0.2 3 0 3 0 3 0 3 0 3 0 3 0 3 0 3 0 3 0 3 0.1 3 0 3 0 3 -0.7 3 -0.4 3 -0.1 3 0 3 -0.1 3 -0.8 3 0 3 -0.1 3 1 3 0.2 3 0 3 -0.1 3 0 3 0 3 0 3 -0.1 3 0 3 0 3 -0.1 3 0 3 -0.1 3 -0.1 3 -0.3 3 -0.3 3 0 3 -0.6 3 0.2 3 0.6 3 0 3 0.7 3 0.4 3 -0.1 3 0 3 0.1 3 0 3 0 3 0.1 3 -0.8 3 0.1 3 -0.6 3 0.1 3 0 3 0 3 0 3 0 3 0 3 -0.1 3 0 3 -0.1 3 0.1 3 0.4 3 0.3 3 0.3 3 0.9 3 0.7 3 0.7 3 0.6 3 0.6 3 0.6 3 0.6 3 0.5 3 0.6 3 0.5 3 0.4 3 0.3 3 0.3 3 0.1 3 0.2 3 0.1 2 0V380H136Z" fill="#ff9b00"/>
<path d="M136 324.2l3 0.2 3 0.3 3 0.3 3 0.2 3 0.3 3 0.3 3 0.2 3 0.3 3 0.2 3 0.3 3 0.3 3 0.2 3 0.3 3 0.2 3 0.3 3 0.3 3 0.3 3 0.3 3 0.3 3 0.3 3 0.2 3 0.2 3 0 3 0 3 0 3 0 3 0 3 0 3 0 3 0 3 0 3 0 3 0 3 0 3 0 3 0 3 0 3 0 3 0 3 0 3 0 3 -0.1 3 0 3 -0.1 3 -0.1 3 -0.1 3 -0.2 3 -0.1 3 -0.1 3 -0.2 3 -0.2 3 -0.1 3 -0.2 3 -0.1 3 -0.2 3 -0.1 3 -0.2 3 -0.1 3 -0.2 3 -0.1 3 -0.2 3 -0.1 3 -0.2 3 -0.1 3 -0.2 3 -0.2 3 -0.2 3 -0.2 3 -0.2 3 -0.2 3 -0.2 3 -0.3 3 -0.2 3 -0.4 3 -0.5 3 -0.6 3 -0.8 3 -0.8 3 -0.7 3 -0.7 3 -0.5 3 -0.4 3 -0.2 3 0 3 0 3 0 3 0 3 0 3 0.3 3 0.4 3 0.3 3 0.2 3 -0.1 3 0 3 0 3 0 3 -0.1 3 -0.5 3 -0.7 3 -0.6 3 -0.4 3 -0.4 3 -0.3 3 -0.4 3 -0.3 3 -0.1 3 -0.1 3 0 3 0 3 0.8 3 -0.2 3 -0.1 3 -0.2 3 0 3 0.2 3 0.1 3 0 3 -0.1 3 -0.2 3 -0.2 3 -0.2 3 -0.1 3 -0.2 3 -0.1 3 0 3 0 3 0.6 3 0.6 3 0.1 3 0 3 0.1 3 0 3 0 3 -0.1 3 0 3 0 3 0 3 0 3 0.1 3 0 3 0 3 -0.2 3 -0.7 3 -0.1 3 0 3 -0.1 3 -0.8 3 0 3 0 3 0.9 3 0.1 3 0 3 -0.1 3 0 3 0 3 -0.1 3 0 3 -0.1 3 0 3 -0.1 3 0 3 -0.1 3 -0.1 3 -0.1 3 -0.1 3 -0.1 3 -1 3 0.3 3 0.9 3 0 3 1.1 3 0 3 0 3 0 3 0.1 3 0 3 0 3 0 3 -1.1 3 0 3 -0.1 3 0 3 0 3 0 3 0 3 0 3 0 3 -0.1 3 0 3 -0.1 3 0.2 3 0.5 3 0.5 3 0.5 3 0.8 3 0.6 3 0.7 3 0.6 3 0.6 3 0.6 3 0.6 3 0.5 3 0.5 3 0.5 3 0.3 3 0.3 3 0.3 3 0.3 3 0.4 3 0.2 2 0V380H136Z" fill="#ff8c00"/>
<path d="M136 326.9l3 0.3 3 0.3 3 0.2 3 0.3 3 0.2 3 0.3 3 0.3 3 0.2 3 0.3 3 0.2 3 0.3 3 0.2 3 0.3 3 0.2 3 0.3 3 0.2 3 0.3 3 0.4 3 0.3 3 0.2 3 0.3 3 0.1 3 0.1 3 0 3 0 3 0 3 0 3 0 3 0 3 0 3 0 3 0 3 0 3 0 3 0 3 0 3 0 3 0 3 0 3 0 3 -0.1 3 0 3 -0.1 3 -0.1 3 -0.1 3 -0.1 3 -0.1 3 -0.1 3 -0.2 3 -0.2 3 -0.1 3 -0.2 3 -0.1 3 -0.2 3 -0.2 3 -0.1 3 -0.1 3 -0.2 3 -0.1 3 -0.2 3 -0.1 3 -0.1 3 -0.2 3 -0.1 3 -0.2 3 -0.1 3 -0.2 3 -0.2 3 -0.2 3 -0.2 3 -0.3 3 -0.2 3 -0.3 3 -0.3 3 -0.6 3 -0.7 3 -0.8 3 -0.8 3 -0.8 3 -0.7 3 -0.6 3 -0.4 3 -0.1 3 0 3 0 3 0 3 0 3 0 3 0.2 3 0.3 3 0.3 3 0.2 3 0 3 0 3 0 3 0 3 -0.1 3 -0.5 3 -0.7 3 -0.7 3 -0.4 3 -0.4 3 -0.3 3 -0.2 3 -0.2 3 -0.3 3 -0.2 3 -0.1 3 0 3 0.8 3 -0.1 3 -0.2 3 -0.1 3 -0.1 3 0 3 0.1 3 0.1 3 0 3 -0.1 3 -0.2 3 -0.2 3 -0.1 3 -0.1 3 -0.1 3 -0.1 3 0 3 0.7 3 0.5 3 0 3 0 3 0 3 0 3 0 3 0 3 0 3 0 3 0 3 0 3 0 3 0 3 0 3 0 3 -0.7 3 -0.1 3 -0.1 3 -0.2 3 -0.6 3 0 3 0 3 0.8 3 0 3 0 3 0 3 -0.1 3 0 3 -0.1 3 0 3 -0.1 3 0 3 -0.1 3 -0.1 3 0 3 -0.1 3 0 3 -0.1 3 -0.1 3 -1 3 0.3 3 1 3 0.1 3 1.1 3 0 3 0 3 0 3 -0.1 3 0 3 0 3 0 3 -1.2 3 0 3 0 3 0 3 0 3 0 3 0 3 0 3 0 3 0 3 0.1 3 0 3 0.3 3 0.6 3 0.6 3 0.6 3 0.6 3 0.7 3 0.7 3 0.6 3 0.6 3 0.5 3 0.6 3 0.5 3 0.4 3 0.4 3 0.4 3 0.3 3 0.3 3 0.4 3 0.4 3 0.3 2 0V380H136Z" fill="#ff7d00"/>
<path d="M136 329.8l3 0.3 3 0.2 3 0.3 3 0.2 3 0.3 3 0.2 3 0.2 3 0.3 3 0.2 3 0.3 3 0.2 3 0.2 3 0.3 3 0.2 3 0.2 3 0.3 3 0.3 3 0.3 3 0.3 3 0.2 3 0.3 3 0.1 3 0.1 3 0 3 0 3 0 3 0 3 0 3 0 3 0 3 0 3 0 3 0 3 0 3 0 3 0 3 0 3 0 3 0 3 0 3 0 3 0 3 -0.1 3 -0.1 3 -0.1 3 -0.1 3 -0.2 3 -0.1 3 -0.2 3 -0.2 3 -0.2 3 -0.1 3 -0.2 3 -0.2 3 -0.1 3 -0.2 3 -0.1 3 -0.2 3 -0.1 3 -0.1 3 -0.2 3 -0.1 3 -0.1 3 -0.2 3 -0.1 3 -0.2 3 -0.2 3 -0.2 3 -0.2 3 -0.3 3 -0.3 3 -0.4 3 -0.3 3 -0.4 3 -0.6 3 -0.6 3 -0.7 3 -0.8 3 -0.7 3 -0.7 3 -0.5 3 -0.4 3 -0.1 3 -0.1 3 0 3 0 3 0 3 0 3 0 3 0 3 0.3 3 0.3 3 0.2 3 0.1 3 -0.1 3 0 3 -0.2 3 -0.4 3 -0.7 3 -0.6 3 -0.5 3 -0.4 3 -0.2 3 -0.1 3 -0.1 3 -0.6 3 -0.3 3 -0.1 3 0.1 3 0.7 3 -0.1 3 -0.1 3 -0.1 3 -0.1 3 -0.1 3 0 3 0 3 0.1 3 0.1 3 -0.1 3 -0.2 3 -0.2 3 -0.1 3 -0.2 3 -0.1 3 0.1 3 0.7 3 0.6 3 0 3 0 3 -0.3 3 0 3 0 3 0.3 3 0.1 3 0 3 0 3 -0.1 3 -0.4 3 0 3 0 3 0.1 3 -0.5 3 -0.1 3 -0.2 3 -0.3 3 -0.5 3 -0.1 3 0.3 3 0.7 3 -0.1 3 -0.1 3 0 3 -0.1 3 0 3 -0.1 3 0 3 -0.1 3 -0.1 3 0 3 -0.1 3 -0.1 3 0 3 0 3 0 3 -0.1 3 -0.8 3 0.2 3 1.1 3 0.1 3 0.9 3 0.2 3 0 3 0 3 -0.4 3 0 3 0 3 -0.1 3 -1.2 3 0 3 0 3 0 3 0 3 0 3 0 3 0 3 0 3 0.3 3 0.2 3 0.2 3 0.4 3 0.6 3 0.7 3 0.7 3 0.6 3 0.7 3 0.7 3 0.6 3 0.5 3 0.5 3 0.5 3 0.4 3 0.4 3 0.4 3 0.3 3 0.3 3 0.5 3 0.4 3 0.3 3 0.2 2 0V380H136Z" fill="#ff6900"/>
<path d="M136 332.8l3 0.2 3 0.2 3 0.3 3 0.2 3 0.2 3 0.2 3 0.3 3 0.2 3 0.2 3 0.2 3 0.2 3 0.3 3 0.2 3 0.2 3 0.2 3 0.3 3 0.2 3 0.3 3 0.3 3 0.2 3 0.2 3 0.2 3 0.1 3 0.1 3 0 3 0 3 0 3 0 3 0 3 0 3 0 3 0 3 0 3 0 3 0 3 0 3 0 3 0 3 0 3 0 3 0 3 -0.1 3 0 3 -0.1 3 -0.2 3 -0.1 3 -0.2 3 -0.2 3 -0.1 3 -0.2 3 -0.2 3 -0.2 3 -0.2 3 -0.2 3 -0.2 3 -0.1 3 -0.2 3 -0.1 3 -0.1 3 -0.1 3 -0.2 3 -0.1 3 -0.1 3 -0.2 3 -0.1 3 -0.2 3 -0.2 3 -0.3 3 -0.3 3 -0.4 3 -0.4 3 -0.4 3 -0.4 3 -0.5 3 -0.5 3 -0.6 3 -0.7 3 -0.6 3 -0.6 3 -0.5 3 -0.5 3 -0.3 3 -0.2 3 -0.1 3 0 3 -0.1 3 0 3 -0.1 3 -0.2 3 -0.2 3 0.1 3 0.4 3 0.5 3 0.2 3 -0.1 3 -0.2 3 -0.2 3 -0.4 3 -0.5 3 -0.6 3 -0.5 3 -0.4 3 -0.1 3 0.1 3 -0.1 3 -1.1 3 -0.3 3 0.1 3 0.1 3 0.4 3 0.1 3 -0.1 3 0 3 -0.1 3 -0.2 3 -0.1 3 -0.1 3 0.2 3 0.3 3 0 3 -0.2 3 -0.2 3 -0.3 3 -0.1 3 -0.2 3 0 3 1 3 0.6 3 0.1 3 0 3 -0.8 3 0 3 0.2 3 0.6 3 0 3 0 3 0 3 -0.1 3 -0.7 3 0 3 0 3 0 3 -0.2 3 -0.1 3 -0.3 3 -0.5 3 -0.4 3 -0.1 3 0.7 3 0.3 3 0 3 -0.1 3 -0.1 3 -0.1 3 0 3 -0.1 3 -0.1 3 -0.1 3 0 3 -0.1 3 -0.1 3 0 3 -0.1 3 0 3 0 3 0 3 -0.5 3 0.2 3 1.1 3 0 3 0.6 3 0.6 3 0 3 0 3 -0.8 3 -0.1 3 0 3 -0.1 3 -1 3 -0.1 3 0 3 0 3 0 3 0 3 0 3 -0.1 3 0 3 0.5 3 0.5 3 0.4 3 0.5 3 0.7 3 0.7 3 0.7 3 0.7 3 0.7 3 0.7 3 0.6 3 0.5 3 0.4 3 0.3 3 0.4 3 0.3 3 0.3 3 0.3 3 0.4 3 0.6 3 0.4 3 0.1 3 0.1 2 0V380H136Z" fill="#ff5a00"/>
<path d="M136 335.6l3 0.3 3 0.2 3 0.2 3 0.2 3 0.2 3 0.2 3 0.2 3 0.2 3 0.2 3 0.2 3 0.3 3 0.2 3 0.2 3 0.2 3 0.2 3 0.2 3 0.2 3 0.3 3 0.2 3 0.3 3 0.2 3 0.2 3 0.1 3 0.1 3 0.1 3 0 3 0 3 0 3 0 3 0 3 0 3 0 3 0 3 0 3 0 3 0 3 0 3 0 3 0 3 0 3 0 3 -0.1 3 -0.1 3 -0.1 3 -0.1 3 -0.2 3 -0.2 3 -0.2 3 -0.2 3 -0.2 3 -0.2 3 -0.2 3 -0.1 3 -0.2 3 -0.2 3 -0.2 3 -0.1 3 -0.2 3 -0.1 3 -0.1 3 -0.1 3 -0.2 3 -0.1 3 -0.2 3 -0.1 3 -0.2 3 -0.3 3 -0.3 3 -0.3 3 -0.4 3 -0.5 3 -0.5 3 -0.5 3 -0.5 3 -0.6 3 -0.5 3 -0.6 3 -0.5 3 -0.5 3 -0.4 3 -0.4 3 -0.3 3 -0.2 3 -0.1 3 -0.1 3 -0.1 3 -0.1 3 -0.2 3 -0.4 3 -0.4 3 0.1 3 0.4 3 0.6 3 0.4 3 -0.1 3 -0.2 3 -0.3 3 -0.3 3 -0.5 3 -0.5 3 -0.5 3 -0.4 3 -0.1 3 0.2 3 0 3 -1.6 3 -0.2 3 0.2 3 0.2 3 0.2 3 0 3 0.1 3 0 3 -0.1 3 -0.2 3 -0.3 3 -0.1 3 0.2 3 0.5 3 0 3 -0.2 3 -0.2 3 -0.3 3 -0.2 3 -0.2 3 0 3 1.1 3 0.7 3 0.1 3 0.1 3 -1.1 3 0 3 0.2 3 0.9 3 0 3 0 3 0 3 -0.2 3 -1 3 0 3 0 3 0 3 0 3 0 3 -0.5 3 -0.6 3 -0.3 3 -0.1 3 0.9 3 0.1 3 0 3 -0.1 3 -0.1 3 -0.1 3 -0.1 3 -0.1 3 -0.1 3 0 3 -0.1 3 -0.1 3 -0.1 3 0 3 -0.1 3 0 3 0 3 0 3 -0.1 3 0.1 3 1 3 0.1 3 0.3 3 0.9 3 0 3 0 3 -1.2 3 -0.1 3 -0.1 3 -0.1 3 -0.9 3 -0.1 3 0 3 0 3 0 3 0 3 0 3 0 3 0 3 0.7 3 0.7 3 0.7 3 0.6 3 0.6 3 0.7 3 0.7 3 0.8 3 0.7 3 0.7 3 0.6 3 0.4 3 0.3 3 0.3 3 0.3 3 0.2 3 0.3 3 0.3 3 0.4 3 0.7 3 0.4 3 0 3 0 2 0V380H136Z" fill="#ff4600"/>
<path d="M136 338.3l3 0.2 3 0.2 3 0.2 3 0.2 3 0.3 3 0.2 3 0.2 3 0.2 3 0.2 3 0.2 3 0.2 3 0.2 3 0.2 3 0.2 3 0.2 3 0.2 3 0.2 3 0.2 3 0.3 3 0.2 3 0.3 3 0.2 3 0.1 3 0.1 3 0.1 3 0 3 0 3 0 3 0 3 0 3 0 3 0 3 0 3 0 3 0 3 0 3 0 3 0 3 0 3 0 3 0 3 -0.1 3 -0.1 3 -0.1 3 -0.1 3 -0.2 3 -0.1 3 -0.2 3 -0.2 3 -0.2 3 -0.2 3 -0.2 3 -0.1 3 -0.2 3 -0.2 3 -0.2 3 -0.1 3 -0.2 3 -0.1 3 -0.1 3 -0.2 3 -0.1 3 -0.2 3 -0.1 3 -0.2 3 -0.2 3 -0.2 3 -0.3 3 -0.4 3 -0.4 3 -0.5 3 -0.5 3 -0.5 3 -0.5 3 -0.6 3 -0.6 3 -0.5 3 -0.5 3 -0.5 3 -0.5 3 -0.4 3 -0.3 3 -0.2 3 -0.2 3 -0.1 3 -0.1 3 -0.1 3 -0.2 3 -0.4 3 -0.5 3 -0.1 3 0.5 3 0.6 3 0.4 3 0.1 3 -0.2 3 -0.3 3 -0.4 3 -0.5 3 -0.5 3 -0.4 3 -0.4 3 -0.1 3 0.3 3 -0.1 3 -1.7 3 -0.3 3 0.3 3 0.2 3 0.1 3 0.1 3 0.1 3 0.1 3 -0.1 3 -0.3 3 -0.3 3 -0.3 3 0.3 3 0.5 3 0 3 -0.1 3 -0.3 3 -0.2 3 -0.3 3 -0.2 3 0.1 3 1.1 3 0.7 3 0.1 3 0.1 3 -1.2 3 0.1 3 0.2 3 0.9 3 0 3 0 3 0 3 -0.2 3 -1 3 0 3 0 3 0 3 0 3 -0.1 3 -0.5 3 -0.6 3 -0.2 3 -0.2 3 1 3 0 3 0 3 0 3 -0.1 3 -0.1 3 -0.1 3 -0.1 3 -0.2 3 -0.1 3 -0.1 3 -0.1 3 0 3 -0.1 3 0 3 0 3 0 3 0 3 0 3 0 3 1.1 3 0.1 3 0.2 3 0.8 3 0 3 0 3 -1.2 3 -0.2 3 -0.1 3 -0.1 3 -0.7 3 -0.2 3 0 3 0 3 0 3 0 3 0.1 3 0 3 0.1 3 0.9 3 0.8 3 0.8 3 0.7 3 0.7 3 0.6 3 0.7 3 0.8 3 0.7 3 0.6 3 0.6 3 0.4 3 0.2 3 0.3 3 0.2 3 0.3 3 0.3 3 0.3 3 0.4 3 0.6 3 0.4 3 0 3 0.1 2 0V380H136Z" fill="#ff3200"/>
<path d="M136 340.8l3 0.2 3 0.2 3 0.2 3 0.2 3 0.2 3 0.3 3 0.2 3 0.2 3 0.2 3 0.2 3 0.2 3 0.2 3 0.2 3 0.2 3 0.2 3 0.2 3 0.2 3 0.3 3 0.2 3 0.3 3 0.2 3 0.2 3 0.2 3 0.1 3 0.1 3 0 3 0 3 0 3 0 3 0 3 0 3 0 3 0 3 0 3 0 3 0 3 0 3 0 3 0 3 -0.1 3 0 3 0 3 -0.1 3 -0.1 3 -0.1 3 -0.1 3 -0.1 3 -0.2 3 -0.1 3 -0.2 3 -0.1 3 -0.2 3 -0.2 3 -0.1 3 -0.2 3 -0.2 3 -0.1 3 -0.2 3 -0.1 3 -0.2 3 -0.1 3 -0.2 3 -0.2 3 -0.1 3 -0.2 3 -0.2 3 -0.2 3 -0.2 3 -0.3 3 -0.4 3 -0.4 3 -0.4 3 -0.4 3 -0.5 3 -0.6 3 -0.7 3 -0.6 3 -0.7 3 -0.6 3 -0.6 3 -0.5 3 -0.4 3 -0.3 3 -0.1 3 -0.1 3 -0.1 3 -0.1 3 -0.2 3 -0.4 3 -0.5 3 -0.2 3 0.3 3 0.5 3 0.6 3 0.2 3 0.1 3 -0.3 3 -0.5 3 -0.6 3 -0.5 3 -0.3 3 -0.4 3 -0.1 3 0.1 3 -0.2 3 -1.6 3 -0.2 3 0.3 3 0.1 3 0.1 3 0.2 3 0.2 3 0.1 3 -0.2 3 -0.3 3 -0.3 3 -0.3 3 0.1 3 0.4 3 0 3 -0.1 3 -0.2 3 -0.2 3 -0.2 3 -0.3 3 0.1 3 1.2 3 0.7 3 0.1 3 0 3 -0.8 3 0 3 0.1 3 0.7 3 0 3 -0.1 3 0 3 -0.1 3 -0.7 3 0 3 0 3 0 3 -0.2 3 -0.1 3 -0.4 3 -0.6 3 -0.4 3 0 3 0.7 3 0 3 0.1 3 0.2 3 0 3 -0.1 3 -0.1 3 -0.1 3 -0.4 3 -0.2 3 -0.1 3 -0.1 3 -0.1 3 0 3 0 3 0 3 0 3 0 3 0 3 0 3 1.1 3 0.2 3 0.1 3 0.6 3 0 3 0 3 -1 3 -0.5 3 0 3 -0.1 3 -0.5 3 -0.1 3 0 3 0 3 0 3 -0.1 3 0.1 3 0.4 3 0.2 3 0.9 3 0.8 3 0.9 3 0.8 3 0.7 3 0.6 3 0.7 3 0.7 3 0.6 3 0.6 3 0.5 3 0.3 3 0.3 3 0.2 3 0.2 3 0.3 3 0.3 3 0.4 3 0.4 3 0.5 3 0.4 3 0.1 3 0.3 2 0V380H136Z" fill="#ff2300"/>
<path d="M136 343.2l3 0.2 3 0.2 3 0.2 3 0.3 3 0.2 3 0.2 3 0.2 3 0.2 3 0.2 3 0.3 3 0.2 3 0.2 3 0.2 3 0.2 3 0.2 3 0.2 3 0.2 3 0.3 3 0.2 3 0.3 3 0.2 3 0.2 3 0.2 3 0.2 3 0.1 3 0 3 0 3 0 3 0 3 0 3 0 3 0 3 0 3 0 3 0 3 0 3 -0.1 3 0 3 0 3 0 3 -0.1 3 0 3 0 3 -0.1 3 -0.1 3 0 3 -0.1 3 -0.1 3 -0.1 3 -0.1 3 -0.1 3 -0.2 3 -0.1 3 -0.2 3 -0.2 3 -0.1 3 -0.2 3 -0.2 3 -0.1 3 -0.2 3 -0.2 3 -0.1 3 -0.2 3 -0.2 3 -0.2 3 -0.1 3 -0.2 3 -0.2 3 -0.2 3 -0.3 3 -0.3 3 -0.3 3 -0.3 3 -0.4 3 -0.6 3 -0.8 3 -0.8 3 -0.8 3 -0.9 3 -0.7 3 -0.7 3 -0.5 3 -0.3 3 -0.1 3 -0.1 3 0 3 -0.1 3 -0.1 3 -0.3 3 -0.5 3 -0.3 3 0 3 0.4 3 0.6 3 0.5 3 0.3 3 -0.2 3 -0.6 3 -0.7 3 -0.5 3 -0.3 3 -0.3 3 -0.1 3 -0.1 3 -0.3 3 -1.5 3 -0.1 3 0.2 3 0.1 3 0.1 3 0.2 3 0.2 3 0.2 3 -0.2 3 -0.3 3 -0.3 3 -0.3 3 0 3 0.2 3 -0.1 3 -0.1 3 -0.1 3 -0.2 3 -0.2 3 -0.2 3 0.1 3 1.2 3 0.6 3 0.1 3 0 3 -0.4 3 0 3 0.1 3 0.3 3 0 3 -0.1 3 0 3 -0.1 3 -0.2 3 0 3 0 3 0 3 -0.5 3 -0.3 3 -0.2 3 -0.5 3 -0.5 3 0 3 0.3 3 0.1 3 0.3 3 0.5 3 -0.1 3 -0.1 3 0 3 -0.1 3 -0.7 3 -0.2 3 -0.2 3 -0.1 3 0 3 -0.1 3 0 3 0 3 0.1 3 -0.1 3 0 3 -0.1 3 1.1 3 0.4 3 0 3 0.3 3 0 3 0 3 -0.7 3 -0.6 3 -0.1 3 -0.1 3 -0.3 3 0 3 0 3 0 3 0 3 -0.1 3 0.3 3 0.6 3 0.5 3 0.7 3 0.8 3 1 3 0.8 3 0.7 3 0.6 3 0.6 3 0.6 3 0.6 3 0.5 3 0.4 3 0.3 3 0.3 3 0.2 3 0.3 3 0.3 3 0.3 3 0.4 3 0.4 3 0.4 3 0.4 3 0.3 3 0.5 2 0.1V380H136Z" fill="#ff0f00"/>
<path d="M136 345.6l3 0.3 3 0.2 3 0.2 3 0.3 3 0.2 3 0.2 3 0.2 3 0.3 3 0.2 3 0.2 3 0.2 3 0.2 3 0.2 3 0.2 3 0.2 3 0.2 3 0.3 3 0.2 3 0.3 3 0.2 3 0.2 3 0.3 3 0.1 3 0.2 3 0.1 3 0.1 3 0 3 0 3 0 3 0 3 0 3 0 3 0 3 -0.1 3 0 3 0 3 0 3 0 3 -0.1 3 0 3 0 3 -0.1 3 0 3 0 3 -0.1 3 0 3 -0.1 3 0 3 -0.1 3 0 3 -0.1 3 -0.2 3 -0.1 3 -0.1 3 -0.2 3 -0.2 3 -0.1 3 -0.2 3 -0.2 3 -0.2 3 -0.2 3 -0.1 3 -0.2 3 -0.2 3 -0.2 3 -0.1 3 -0.2 3 -0.2 3 -0.2 3 -0.1 3 -0.3 3 -0.2 3 -0.3 3 -0.4 3 -0.6 3 -0.7 3 -1 3 -0.9 3 -1 3 -0.8 3 -0.8 3 -0.6 3 -0.3 3 -0.1 3 0 3 -0.1 3 -0.1 3 -0.1 3 -0.3 3 -0.4 3 -0.3 3 -0.2 3 0.2 3 0.7 3 0.7 3 0.4 3 -0.1 3 -0.7 3 -0.8 3 -0.5 3 -0.3 3 -0.2 3 -0.2 3 -0.2 3 -0.4 3 -1.3 3 -0.2 3 0.1 3 0.2 3 0.1 3 0.3 3 0.2 3 0.1 3 -0.1 3 -0.3 3 -0.3 3 -0.3 3 -0.1 3 0 3 0 3 -0.1 3 -0.1 3 -0.2 3 -0.2 3 -0.1 3 0 3 1.2 3 0.6 3 0 3 0.1 3 -0.1 3 0 3 0 3 0 3 0 3 0 3 0 3 0 3 0 3 0 3 0 3 0 3 -0.8 3 -0.3 3 0 3 -0.4 3 -0.7 3 0 3 0.1 3 0.1 3 0.4 3 0.6 3 0 3 0 3 0 3 -0.1 3 -0.9 3 -0.2 3 -0.2 3 -0.2 3 0 3 -0.1 3 0 3 0 3 0 3 0 3 0 3 -0.1 3 1.1 3 0.5 3 0 3 0 3 0 3 0 3 -0.4 3 -0.8 3 -0.2 3 -0.1 3 0 3 0 3 0 3 0 3 0 3 -0.1 3 0.4 3 0.9 3 0.6 3 0.7 3 0.8 3 1 3 0.8 3 0.7 3 0.6 3 0.5 3 0.6 3 0.5 3 0.4 3 0.3 3 0.3 3 0.3 3 0.3 3 0.3 3 0.3 3 0.4 3 0.4 3 0.3 3 0.4 3 0.3 3 0.5 3 0.7 2 0.1V380H136Z" fill="#ff0000"/>
<path d="M136 348.2l3 0.3 3 0.2 3 0.2 3 0.3 3 0.2 3 0.2 3 0.3 3 0.2 3 0.2 3 0.2 3 0.2 3 0.2 3 0.2 3 0.2 3 0.2 3 0.2 3 0.3 3 0.2 3 0.2 3 0.2 3 0.2 3 0.2 3 0.2 3 0.2 3 0.1 3 0.1 3 0 3 0 3 0 3 0 3 0 3 0 3 0 3 0 3 0 3 0 3 -0.1 3 0 3 0 3 -0.1 3 0 3 0 3 -0.1 3 0 3 0 3 -0.1 3 0 3 0 3 -0.1 3 0 3 -0.1 3 -0.1 3 -0.1 3 -0.2 3 -0.1 3 -0.2 3 -0.2 3 -0.1 3 -0.2 3 -0.2 3 -0.2 3 -0.2 3 -0.2 3 -0.2 3 -0.2 3 -0.1 3 -0.2 3 -0.2 3 -0.2 3 -0.2 3 -0.2 3 -0.3 3 -0.3 3 -0.4 3 -0.6 3 -0.7 3 -0.9 3 -0.9 3 -0.9 3 -0.9 3 -0.7 3 -0.6 3 -0.3 3 -0.1 3 -0.2 3 -0.1 3 -0.1 3 -0.1 3 -0.3 3 -0.4 3 -0.4 3 -0.3 3 0.2 3 0.6 3 0.8 3 0.5 3 -0.1 3 -0.7 3 -0.8 3 -0.6 3 -0.2 3 -0.2 3 -0.2 3 -0.3 3 -0.5 3 -1.2 3 -0.3 3 0.1 3 0.2 3 0.2 3 0.2 3 0.2 3 0.1 3 -0.1 3 -0.3 3 -0.2 3 -0.2 3 -0.1 3 -0.1 3 -0.1 3 0 3 -0.1 3 -0.3 3 -0.2 3 0 3 0.1 3 1.2 3 0.4 3 0 3 -0.1 3 0.2 3 0 3 0 3 -0.1 3 0.1 3 0.1 3 0 3 0 3 -0.1 3 0 3 0 3 -0.1 3 -0.8 3 -0.3 3 0 3 -0.3 3 -0.8 3 0 3 0.1 3 0.1 3 0.3 3 0.6 3 0 3 0.2 3 0 3 -0.2 3 -0.8 3 -0.2 3 -0.2 3 -0.1 3 -0.2 3 -0.1 3 0 3 -0.1 3 -0.1 3 0.1 3 0.1 3 0.2 3 0.9 3 0.4 3 0 3 -0.1 3 0 3 0 3 -0.2 3 -0.8 3 -0.4 3 -0.1 3 0.1 3 0 3 0 3 -0.1 3 0 3 0.2 3 0.5 3 1 3 0.7 3 0.8 3 0.8 3 0.9 3 0.8 3 0.7 3 0.5 3 0.5 3 0.5 3 0.4 3 0.4 3 0.3 3 0.3 3 0.3 3 0.3 3 0.3 3 0.4 3 0.4 3 0.3 3 0.4 3 0.4 3 0.4 3 0.4 3 0.7 2 0.1V380H136Z" fill="#f51e28"/>
<path d="M136 350.9l3 0.3 3 0.2 3 0.3 3 0.2 3 0.2 3 0.3 3 0.2 3 0.2 3 0.2 3 0.3 3 0.2 3 0.2 3 0.1 3 0.2 3 0.2 3 0.2 3 0.2 3 0.1 3 0.2 3 0.2 3 0.2 3 0.2 3 0.2 3 0.1 3 0.1 3 0.1 3 0.1 3 0 3 0 3 0 3 0 3 0 3 0 3 0 3 0 3 0 3 -0.1 3 0 3 0 3 0 3 -0.1 3 0 3 -0.1 3 0 3 0 3 -0.1 3 0 3 0 3 -0.1 3 -0.1 3 0 3 -0.1 3 -0.2 3 -0.1 3 -0.1 3 -0.2 3 -0.1 3 -0.2 3 -0.2 3 -0.2 3 -0.2 3 -0.1 3 -0.2 3 -0.2 3 -0.2 3 -0.2 3 -0.2 3 -0.2 3 -0.3 3 -0.2 3 -0.3 3 -0.4 3 -0.3 3 -0.5 3 -0.5 3 -0.7 3 -0.7 3 -0.8 3 -0.8 3 -0.8 3 -0.6 3 -0.5 3 -0.4 3 -0.2 3 -0.2 3 -0.2 3 -0.2 3 -0.2 3 -0.4 3 -0.4 3 -0.4 3 -0.3 3 0.2 3 0.6 3 0.8 3 0.5 3 -0.1 3 -0.7 3 -0.8 3 -0.5 3 -0.3 3 -0.3 3 -0.2 3 -0.4 3 -0.5 3 -1 3 -0.5 3 -0.1 3 0.3 3 0.3 3 0.2 3 0 3 0.1 3 -0.1 3 -0.1 3 -0.2 3 -0.1 3 -0.1 3 -0.1 3 0.1 3 0 3 -0.2 3 -0.4 3 -0.2 3 0 3 0.2 3 1.2 3 0.3 3 0 3 -0.4 3 0.4 3 0.1 3 0 3 -0.1 3 0.1 3 0.5 3 -0.1 3 0 3 -0.5 3 -0.1 3 0 3 0 3 -0.9 3 -0.2 3 0 3 -0.2 3 -0.8 3 0 3 0 3 0.1 3 0.2 3 0.4 3 0.1 3 0.6 3 -0.1 3 -0.5 3 -0.5 3 -0.2 3 0 3 -0.1 3 -0.5 3 -0.1 3 0 3 -0.3 3 -0.1 3 0.1 3 0.4 3 0.5 3 0.7 3 0.3 3 -0.1 3 0 3 0 3 0 3 -0.1 3 -0.6 3 -0.8 3 -0.1 3 0.1 3 -0.1 3 0 3 0 3 0 3 0.4 3 0.7 3 1 3 0.8 3 0.9 3 0.9 3 0.8 3 0.7 3 0.5 3 0.5 3 0.5 3 0.4 3 0.4 3 0.4 3 0.3 3 0.3 3 0.3 3 0.3 3 0.4 3 0.3 3 0.4 3 0.4 3 0.4 3 0.4 3 0.4 3 0.5 3 0.6 2 0V380H136Z" fill="#ff373a"/>
<path d="M136 353.6l3 0.3 3 0.2 3 0.3 3 0.2 3 0.3 3 0.2 3 0.3 3 0.2 3 0.2 3 0.2 3 0.2 3 0.2 3 0.2 3 0.1 3 0.2 3 0.1 3 0.2 3 0.1 3 0.2 3 0.2 3 0.1 3 0.2 3 0.1 3 0.1 3 0.2 3 0 3 0.1 3 0.1 3 0 3 0.1 3 0 3 0 3 0 3 -0.1 3 0 3 0 3 0 3 0 3 -0.1 3 0 3 -0.1 3 0 3 0 3 -0.1 3 0 3 -0.1 3 0 3 -0.1 3 0 3 -0.1 3 -0.1 3 -0.1 3 -0.1 3 -0.1 3 -0.1 3 -0.2 3 -0.1 3 -0.2 3 -0.1 3 -0.2 3 -0.2 3 -0.2 3 -0.2 3 -0.2 3 -0.2 3 -0.2 3 -0.2 3 -0.3 3 -0.3 3 -0.3 3 -0.4 3 -0.4 3 -0.4 3 -0.5 3 -0.6 3 -0.6 3 -0.6 3 -0.6 3 -0.6 3 -0.6 3 -0.6 3 -0.5 3 -0.4 3 -0.3 3 -0.2 3 -0.3 3 -0.3 3 -0.3 3 -0.4 3 -0.5 3 -0.4 3 -0.3 3 0.2 3 0.6 3 0.7 3 0.5 3 -0.1 3 -0.6 3 -0.8 3 -0.5 3 -0.4 3 -0.3 3 -0.3 3 -0.3 3 -0.5 3 -1 3 -0.6 3 -0.3 3 0.5 3 0.4 3 0 3 0 3 0 3 0 3 -0.1 3 -0.1 3 0 3 0 3 0 3 0 3 0 3 -0.2 3 -0.6 3 -0.1 3 0.1 3 0.3 3 1 3 0.3 3 0 3 -0.8 3 0.7 3 0.1 3 0 3 0 3 0.1 3 0.8 3 0 3 -0.2 3 -0.9 3 0 3 -0.1 3 0 3 -0.8 3 -0.2 3 0 3 -0.1 3 -0.9 3 0.1 3 0 3 0 3 0.1 3 0.2 3 0.1 3 1 3 -0.2 3 -0.6 3 -0.3 3 -0.1 3 0 3 0 3 -0.8 3 -0.1 3 0 3 -0.4 3 -0.3 3 0.3 3 0.6 3 0.9 3 0.4 3 0.1 3 0 3 0 3 0 3 0 3 0 3 -0.5 3 -1.1 3 0 3 0 3 -0.1 3 0 3 0 3 0 3 0.7 3 0.9 3 0.9 3 0.9 3 1 3 1 3 0.7 3 0.5 3 0.4 3 0.5 3 0.4 3 0.4 3 0.4 3 0.3 3 0.4 3 0.3 3 0.4 3 0.3 3 0.3 3 0.4 3 0.4 3 0.3 3 0.5 3 0.5 3 0.4 3 0.4 3 0.4 2 0.1V380H136Z" fill="#ff4b4e"/>
<path d="M136 356.2l3 0.3 3 0.3 3 0.3 3 0.2 3 0.3 3 0.2 3 0.2 3 0.3 3 0.2 3 0.2 3 0.2 3 0.2 3 0.1 3 0.2 3 0.1 3 0.2 3 0.1 3 0.2 3 0.1 3 0.2 3 0.1 3 0.1 3 0.2 3 0.1 3 0.1 3 0.1 3 0.1 3 0 3 0.1 3 0 3 0 3 0 3 0 3 0 3 0 3 0 3 0 3 0 3 -0.1 3 0 3 0 3 -0.1 3 0 3 -0.1 3 0 3 -0.1 3 0 3 0 3 -0.1 3 -0.1 3 -0.1 3 -0.1 3 -0.1 3 -0.1 3 -0.1 3 -0.1 3 -0.2 3 -0.2 3 -0.1 3 -0.2 3 -0.2 3 -0.2 3 -0.2 3 -0.2 3 -0.2 3 -0.2 3 -0.3 3 -0.3 3 -0.3 3 -0.4 3 -0.4 3 -0.5 3 -0.5 3 -0.5 3 -0.5 3 -0.5 3 -0.5 3 -0.6 3 -0.5 3 -0.5 3 -0.4 3 -0.5 3 -0.4 3 -0.4 3 -0.3 3 -0.4 3 -0.4 3 -0.3 3 -0.5 3 -0.5 3 -0.4 3 -0.2 3 0.1 3 0.6 3 0.7 3 0.4 3 -0.1 3 -0.6 3 -0.7 3 -0.6 3 -0.4 3 -0.3 3 -0.3 3 -0.4 3 -0.5 3 -0.8 3 -0.9 3 -0.4 3 0.6 3 0.4 3 0 3 0 3 0 3 0 3 0 3 0 3 0 3 0 3 0 3 0 3 0 3 -0.2 3 -0.6 3 -0.2 3 0.2 3 0.4 3 0.9 3 0.1 3 0 3 -0.8 3 0.8 3 0.2 3 0 3 0 3 0.2 3 0.9 3 0 3 -0.2 3 -1.1 3 -0.1 3 -0.1 3 -0.1 3 -0.8 3 -0.1 3 0 3 0 3 -0.9 3 0 3 0 3 0 3 0.1 3 0.1 3 0 3 1.3 3 -0.3 3 -0.7 3 -0.1 3 0 3 0 3 -0.1 3 -0.9 3 -0.1 3 0 3 -0.5 3 -0.4 3 0.4 3 0.8 3 1 3 0.3 3 0 3 0 3 0 3 0 3 0 3 0 3 -0.3 3 -1.3 3 0 3 0 3 0 3 0 3 0 3 0 3 0.9 3 1 3 0.9 3 0.9 3 1.1 3 1 3 0.6 3 0.5 3 0.3 3 0.4 3 0.4 3 0.4 3 0.4 3 0.3 3 0.4 3 0.3 3 0.4 3 0.3 3 0.4 3 0.4 3 0.3 3 0.4 3 0.5 3 0.5 3 0.5 3 0.3 3 0.3 2 0V380H136Z" fill="#ff5a5a"/>
<path d="M136 358.9l3 0.3 3 0.3 3 0.2 3 0.3 3 0.2 3 0.3 3 0.2 3 0.2 3 0.3 3 0.2 3 0.2 3 0.2 3 0.1 3 0.2 3 0.2 3 0.1 3 0.2 3 0.1 3 0.2 3 0.2 3 0.1 3 0.2 3 0.1 3 0.2 3 0.1 3 0 3 0.1 3 0.1 3 0 3 0 3 0.1 3 0 3 -0.1 3 0 3 0 3 0 3 0 3 0 3 0 3 -0.1 3 0 3 0 3 -0.1 3 0 3 0 3 -0.1 3 0 3 0 3 -0.1 3 0 3 -0.1 3 -0.1 3 -0.1 3 -0.1 3 -0.2 3 -0.1 3 -0.2 3 -0.1 3 -0.2 3 -0.2 3 -0.2 3 -0.2 3 -0.2 3 -0.2 3 -0.2 3 -0.2 3 -0.3 3 -0.3 3 -0.4 3 -0.4 3 -0.5 3 -0.5 3 -0.5 3 -0.5 3 -0.5 3 -0.5 3 -0.4 3 -0.5 3 -0.5 3 -0.5 3 -0.4 3 -0.5 3 -0.4 3 -0.4 3 -0.5 3 -0.4 3 -0.4 3 -0.4 3 -0.4 3 -0.5 3 -0.5 3 -0.2 3 0.1 3 0.5 3 0.7 3 0.4 3 0 3 -0.6 3 -0.8 3 -0.5 3 -0.4 3 -0.4 3 -0.3 3 -0.4 3 -0.4 3 -0.8 3 -1 3 -0.4 3 0.5 3 0.3 3 0.1 3 0.2 3 0 3 0 3 0 3 0 3 0.1 3 -0.1 3 0 3 -0.3 3 0 3 -0.1 3 -0.5 3 -0.1 3 0.2 3 0.3 3 0.8 3 0.1 3 0 3 -0.7 3 0.8 3 0.2 3 0.2 3 0 3 0.1 3 0.8 3 0.1 3 -0.2 3 -1.1 3 -0.1 3 0 3 -0.2 3 -0.8 3 -0.1 3 0 3 0 3 -0.8 3 -0.1 3 0 3 0 3 0.1 3 0 3 0.1 3 1.1 3 -0.2 3 -0.7 3 0 3 0 3 -0.2 3 -0.1 3 -0.9 3 -0.2 3 0 3 -0.4 3 -0.3 3 0.3 3 0.7 3 1.1 3 0.2 3 0 3 0 3 0 3 0 3 -0.2 3 0 3 -0.2 3 -1.1 3 -0.1 3 0.1 3 0 3 0.1 3 0 3 0.1 3 1 3 1 3 1 3 0.9 3 1.1 3 0.9 3 0.6 3 0.4 3 0.4 3 0.4 3 0.3 3 0.4 3 0.4 3 0.4 3 0.3 3 0.4 3 0.3 3 0.4 3 0.4 3 0.4 3 0.4 3 0.3 3 0.5 3 0.5 3 0.4 3 0.3 3 0.2 2 0V380H136Z" fill="#ff6e6e"/>
<path d="M136 361.6l3 0.3 3 0.2 3 0.3 3 0.3 3 0.2 3 0.3 3 0.2 3 0.2 3 0.2 3 0.3 3 0.2 3 0.2 3 0.2 3 0.1 3 0.2 3 0.2 3 0.2 3 0.2 3 0.2 3 0.2 3 0.2 3 0.2 3 0.2 3 0.1 3 0.1 3 0.1 3 0 3 0 3 0.1 3 0 3 0 3 0 3 0 3 0 3 0 3 0 3 0 3 -0.1 3 0 3 0 3 0 3 0 3 0 3 0 3 -0.1 3 0 3 0 3 0 3 -0.1 3 0 3 -0.1 3 -0.1 3 -0.1 3 -0.1 3 -0.1 3 -0.2 3 -0.1 3 -0.2 3 -0.2 3 -0.2 3 -0.2 3 -0.2 3 -0.2 3 -0.2 3 -0.2 3 -0.3 3 -0.3 3 -0.4 3 -0.4 3 -0.4 3 -0.5 3 -0.4 3 -0.5 3 -0.5 3 -0.5 3 -0.5 3 -0.5 3 -0.4 3 -0.5 3 -0.5 3 -0.5 3 -0.4 3 -0.5 3 -0.5 3 -0.4 3 -0.5 3 -0.4 3 -0.4 3 -0.5 3 -0.4 3 -0.5 3 -0.2 3 0 3 0.4 3 0.7 3 0.5 3 -0.1 3 -0.6 3 -0.7 3 -0.5 3 -0.4 3 -0.4 3 -0.4 3 -0.3 3 -0.3 3 -0.7 3 -1.2 3 -0.5 3 0.3 3 0.3 3 0.1 3 0.6 3 0.1 3 0 3 0 3 0 3 0 3 -0.1 3 -0.1 3 -0.7 3 0.1 3 -0.1 3 -0.2 3 0 3 0.2 3 0.2 3 0.5 3 0.1 3 0.1 3 -0.4 3 0.6 3 0.4 3 0.3 3 0 3 0 3 0.5 3 0.3 3 -0.3 3 -0.8 3 -0.1 3 0 3 -0.2 3 -0.8 3 -0.1 3 0 3 -0.1 3 -0.7 3 -0.3 3 0 3 0.1 3 0.3 3 0 3 0 3 0.6 3 -0.1 3 -0.4 3 0 3 0 3 -0.5 3 -0.3 3 -0.6 3 -0.3 3 0 3 -0.3 3 -0.2 3 0.3 3 0.4 3 0.9 3 0.2 3 0.1 3 0.1 3 0 3 0 3 -0.5 3 0 3 -0.2 3 -0.7 3 -0.3 3 0.3 3 0.1 3 0.2 3 0.1 3 0.3 3 0.9 3 0.9 3 1.1 3 0.9 3 1 3 0.9 3 0.5 3 0.4 3 0.4 3 0.4 3 0.4 3 0.4 3 0.4 3 0.3 3 0.4 3 0.3 3 0.4 3 0.5 3 0.4 3 0.4 3 0.3 3 0.4 3 0.4 3 0.5 3 0.4 3 0.1 3 0 2 0V380H136Z" fill="#ff7a7d"/>
<path d="M136 364.1l3 0.3 3 0.3 3 0.2 3 0.3 3 0.2 3 0.3 3 0.2 3 0.3 3 0.2 3 0.2 3 0.3 3 0.2 3 0.2 3 0.2 3 0.2 3 0.2 3 0.2 3 0.3 3 0.2 3 0.3 3 0.2 3 0.2 3 0.2 3 0.1 3 0.1 3 0 3 0 3 0 3 0 3 0 3 0 3 0 3 0 3 0 3 0 3 0 3 0 3 0 3 0 3 0 3 0 3 0 3 0 3 0 3 0 3 0 3 0 3 0 3 0 3 -0.1 3 0 3 -0.1 3 -0.1 3 -0.2 3 -0.1 3 -0.1 3 -0.2 3 -0.2 3 -0.2 3 -0.2 3 -0.2 3 -0.2 3 -0.2 3 -0.2 3 -0.2 3 -0.3 3 -0.4 3 -0.4 3 -0.4 3 -0.4 3 -0.4 3 -0.5 3 -0.4 3 -0.5 3 -0.5 3 -0.4 3 -0.5 3 -0.5 3 -0.5 3 -0.4 3 -0.5 3 -0.5 3 -0.5 3 -0.5 3 -0.6 3 -0.5 3 -0.5 3 -0.4 3 -0.5 3 -0.4 3 -0.4 3 -0.3 3 -0.1 3 0.4 3 0.7 3 0.6 3 -0.1 3 -0.6 3 -0.7 3 -0.6 3 -0.4 3 -0.4 3 -0.4 3 -0.3 3 -0.3 3 -0.6 3 -1.3 3 -0.5 3 0.2 3 0.1 3 0.2 3 1 3 0.1 3 0 3 0 3 -0.1 3 0 3 -0.1 3 -0.1 3 -1.1 3 0 3 0.1 3 0 3 0.1 3 0.1 3 0.2 3 0.2 3 0.1 3 0.2 3 0 3 0.3 3 0.6 3 0.4 3 0 3 0 3 0.1 3 0.5 3 -0.3 3 -0.5 3 -0.1 3 -0.1 3 -0.2 3 -0.8 3 -0.1 3 -0.1 3 -0.1 3 -0.6 3 -0.5 3 0 3 0.2 3 0.5 3 0 3 0 3 0.2 3 -0.1 3 -0.1 3 -0.1 3 0 3 -0.8 3 -0.4 3 -0.4 3 -0.3 3 -0.1 3 0 3 -0.1 3 0.1 3 0.2 3 0.8 3 0.3 3 0.1 3 0.1 3 0.1 3 0 3 -0.8 3 -0.1 3 -0.1 3 -0.3 3 -0.5 3 0.5 3 0.2 3 0.2 3 0.3 3 0.5 3 0.7 3 0.9 3 1.1 3 1 3 0.9 3 0.7 3 0.6 3 0.4 3 0.4 3 0.4 3 0.4 3 0.4 3 0.4 3 0.4 3 0.4 3 0.3 3 0.4 3 0.5 3 0.4 3 0.4 3 0.3 3 0.4 3 0.4 3 0.5 3 0.3 3 0 3 0 2 0V380H136Z" fill="#ff8c91"/>
<path d="M136 366.3l3 0.3 3 0.2 3 0.3 3 0.2 3 0.3 3 0.3 3 0.2 3 0.3 3 0.3 3 0.2 3 0.3 3 0.3 3 0.2 3 0.2 3 0.3 3 0.2 3 0.3 3 0.2 3 0.3 3 0.2 3 0.2 3 0.1 3 0.2 3 0.1 3 0 3 0 3 0 3 0 3 0 3 0 3 0 3 0 3 0 3 0 3 0 3 0 3 0 3 0 3 0 3 0 3 0 3 0 3 0 3 0 3 0 3 0 3 0 3 0 3 0 3 0 3 -0.1 3 -0.1 3 -0.1 3 -0.1 3 -0.2 3 -0.1 3 -0.2 3 -0.2 3 -0.2 3 -0.2 3 -0.2 3 -0.2 3 -0.2 3 -0.3 3 -0.2 3 -0.3 3 -0.3 3 -0.3 3 -0.4 3 -0.4 3 -0.3 3 -0.4 3 -0.4 3 -0.4 3 -0.5 3 -0.4 3 -0.4 3 -0.5 3 -0.5 3 -0.5 3 -0.5 3 -0.5 3 -0.5 3 -0.6 3 -0.6 3 -0.7 3 -0.7 3 -0.5 3 -0.4 3 -0.4 3 -0.4 3 -0.3 3 -0.1 3 0.3 3 0.7 3 0.6 3 -0.1 3 -0.6 3 -0.7 3 -0.6 3 -0.5 3 -0.4 3 -0.4 3 -0.3 3 -0.3 3 -0.7 3 -1.3 3 -0.4 3 0 3 0.2 3 0.2 3 1.1 3 0.1 3 0 3 0 3 -0.1 3 0 3 -0.1 3 -0.2 3 -1.2 3 0 3 0.1 3 0.1 3 0.2 3 0.1 3 0.2 3 0.1 3 0.1 3 0.1 3 0.2 3 0.2 3 0.9 3 0.2 3 0 3 0 3 0 3 0.5 3 -0.3 3 -0.3 3 0 3 -0.1 3 -0.1 3 -1 3 -0.1 3 -0.1 3 -0.1 3 -0.7 3 -0.6 3 0.1 3 0.2 3 0.8 3 0 3 0 3 0 3 -0.1 3 0 3 -0.1 3 0 3 -1 3 -0.5 3 -0.3 3 -0.2 3 -0.1 3 0 3 0 3 0 3 0.1 3 1.1 3 0.2 3 0.2 3 0 3 0.1 3 0 3 -1 3 -0.1 3 0 3 -0.1 3 -0.7 3 0.5 3 0.4 3 0.4 3 0.4 3 0.7 3 0.7 3 0.9 3 1.1 3 0.9 3 0.8 3 0.7 3 0.5 3 0.5 3 0.4 3 0.4 3 0.4 3 0.4 3 0.4 3 0.3 3 0.5 3 0.4 3 0.4 3 0.3 3 0.4 3 0.4 3 0.3 3 0.4 3 0.4 3 0.6 3 0.3 3 0 3 0 2 0V380H136Z" fill="#ffa0a5"/>
<path d="M136 368 139 368.3 142 368.6 145 368.8 148 369.1 151 369.4 154 369.7 157 370 160 370.3 163 370.6 166 370.9 169 371.2 172 371.6 175 371.9 178 372.2 181 372.5 184 372.7 187 373 190 373.2 193 373.4 196 373.5 199 373.7 202 373.7 205 373.8 208 373.7 211 373.8 214 373.8 217 373.8 220 373.8 223 373.8 226 373.8 229 373.8 232 373.8 235 373.8 238 373.8 241 373.8 244 373.8 247 373.8 250 373.7 253 373.8 256 373.8 259 373.8 262 373.7 265 373.8 268 373.8 271 373.8 274 373.8 277 373.8 280 373.8 283 373.7 286 373.7 289 373.6 292 373.6 295 373.4 298 373.3 301 373.2 304 373 307 372.8 310 372.6 313 372.4 316 372.2 319 372 322 371.8 325 371.5 328 371.3 331 371 334 370.8 337 370.5 340 370.2 343 370 346 369.7 349 369.4 352 369.1 355 368.8 358 368.5 361 368.2 364 367.8 367 367.4 370 367 373 366.5 376 366.1 379 365.6 382 365 385 364.5 388 363.8 391 362.9 394 361.9 397 361.1 400 360.5 403 360 406 359.6 409 359.3 412 359.1 415 359 418 359.3 421 359.9 424 360.4 427 360.4 430 359.8 433 359.1 436 358.3 439 357.8 442 357.4 445 357 448 356.7 451 356.3 454 355.6 457 354.3 460 353.9 463 353.9 466 354.1 469 354.2 472 355.4 475 355.5 478 355.5 481 355.5 484 355.4 487 355.3 490 355.2 493 355.2 496 353.9 499 353.9 502 354 505 354.1 508 354.3 511 354.5 514 354.6 517 354.7 520 354.8 523 354.9 526 355.1 529 355.3 532 356.5 535 356.5 538 356.5 541 356.5 544 356.5 547 356.9 550 356.5 553 356.5 556 356.5 559 356.5 562 356.5 565 355.2 568 355.1 571 355.1 574 355 577 354.1 580 353.5 583 353.6 586 353.8 589 355 592 355 595 354.9 598 354.9 601 354.9 604 354.8 607 354.8 610 354.7 613 353.6 616 353 619 352.8 622 352.7 625 352.7 628 352.7 631 352.7 634 352.7 637 352.9 640 354.4 643 354.6 646 354.6 649 354.6 652 354.6 655 354.6 658 353.6 661 353.5 664 353.5 667 353.4 670 352.4 673 352.9 676 353.7 679 354.2 682 354.8 685 355.5 688 356.5 691 357.4 694 358.3 697 359.1 700 359.9 703 360.6 706 361.2 709 361.7 712 362.2 715 362.6 718 362.9 721 363.2 724 363.5 727 363.8 730 364.4 733 364.9 736 365.2 739 365.4 742 365.7 745 366 748 366.4 751 366.9 754 367.3 757 367.9 760 368.4 763 368.6 766 368.7 768 368.8 V380H136Z" fill="#fff"/>
</g>
<g fill="none" stroke="#000" stroke-linejoin="round" shape-rendering="crispEdges">
<path d="M136 197 138 196.5 140 196 142 195.5 144 195 146 194.5 148 194 150 193.5 152 193.1 154 192.6 156 192.1 158 191.7 160 191.2 162 190.8 164 190.4 166 190 168 189.5 170 189.1 172 188.7 174 188.3 176 187.9 178 187.5 180 187.1 182 186.8 184 186.4 186 186.1 188 185.7 190 185.4 192 185.1 194 184.8 196 184.5 198 184.2 200 183.9 202 183.6 204 183.3 206 183.1 208 182.8 210 182.6 212 182.4 214 182.2 216 182 218 181.8 220 181.6 222 181.4 224 181.2 226 181.1 228 180.9 230 180.8 232 180.7 234 180.6 236 180.5 238 180.4 240 180.4 242 180.3 244 180.3 246 180.2 248 180.2 250 180.1 252 180.1 254 180.1 256 180 258 180 260 180 262 180 264 180 266 180 268 180.1 270 180.2 272 180.3 274 180.4 276 180.5 278 180.6 280 180.7 282 180.9 284 181 286 181.2 288 181.3 290 181.5 292 181.7 294 181.9 296 182.2 298 182.4 300 182.7 302 183 304 183.3 306 183.6 308 183.9 310 184.2 312 184.5 314 184.8 316 185.2 318 185.5 320 185.9 322 186.3 324 186.7 326 187.1 328 187.5 330 187.9 332 188.3 334 188.7 336 189.1 338 189.5 340 189.9 342 190.3 344 190.7 346 191 348 191.4 350 191.8 352 192.2 354 192.6 356 193M395 201.5 397 201.9 399 202.3 401 202.7 403 203.1 405 203.5 407 204 409 204.4 411 204.8 413 205.1 415 205.5 417 205.8 419 206.2 421 206.6 423 206.9 425 207.2 427 207.6 429 207.9 431 208.2 433 208.5 435 208.7 437 209 439 209.2 441 209.3 443 209.5 445 209.6 447 209.8 449 209.9 451 210 453 210.1 455 210.2 457 210.3 459 210.4 461 210.5 463 210.6 465 210.8 467 210.9 469 211 471 211.1 473 211.2 475 211.3 477 211.4 479 211.5 481 211.6 483 211.7 485 211.8 487 211.9 489 212 491 212 493 212.1 495 212.1 497 212.2 499 212.3 501 212.3 503 212.4 505 212.4 507 212.4 509 212.5 511 212.5 513 212.5 515 212.5 517 212.5 519 212.5 521 212.5 523 212.5 525 212.5 527 212.5 529 212.5 531 212.5 533 212.5 535 212.5 537 212.5 539 212.5 541 212.5 543 212.5 545 212.5 547 212.5 549 212.5 551 212.5 553 212.5 555 212.5 557 212.5 559 212.5 561 212.5 563 212.5 565 212.5 567 212.5 569 212.7 571 212.9 573 213.1 575 213.2 577 213.3 579 213.4 581 213.4 583 213.5 585 213.6 587 213.6 589 213.6 591 213.7 593 213.7 595 213.7 597 213.7 599 213.7 601 213.7 603 213.7 605 213.7 607 213.6 609 213.5 611 213.4 613 213.4 615 213.3 617 213.2 619 213.1 621 213.1 623 213 625 213 627 213 629 213 631 213 633 213 635 213 637 213 639 213 641 213 643 213 645 213 647 213 649 213 651 213 653 213 655 213 657 212.9 659 212.9 661 212.9 663 212.8 665 212.8 667 212.7 669 212.7 671 212.6 673 212.6 675 212.5 677 212.4 679 212.3 681 212.2 683 212.1 685 212 687 211.9 689 211.7 691 211.6 693 211.4 695 211.2 697 211.1 699 210.9 701 210.7 703 210.5 705 210.3 707 210 709 209.7 711 209.5 713 209.2 715 208.9 717 208.5 719 208.2 721 207.9 723 207.5 725 207.2 727 206.8 729 206.5 731 206.1 733 205.7 735 205.3 737 204.8 739 204.4 741 204 743 203.5 745 203.1 747 202.6 749 202.2 751 201.8 753 201.3 755 200.8 757 200.3 759 199.9 761 199.5 763 199.1 765 198.9 767 198.8 768 198.8" stroke-width="2" stroke-dasharray="7 3.8"/>
<path d="M136 218.8 138 218.3 140 217.9 142 217.4 144 217 146 216.6 148 216.1 150 215.7 152 215.3 154 214.9 156 214.5 158 214.1 160 213.8 162 213.4 164 213 166 212.7 168 212.3 170 212 172 211.6 174 211.3 176 211 178 210.6 180 210.3 182 210 184 209.7 186 209.3 188 209 190 208.7 192 208.4 194 208 196 207.7 198 207.4 200 207.1 202 206.8 204 206.5 206 206.2 208 205.9 210 205.6 212 205.4 214 205.1 216 204.8 218 204.5 220 204.2 222 204 224 203.7 226 203.4 228 203.2 230 203 232 202.8 234 202.6 236 202.5 238 202.4 240 202.3 242 202.2 244 202.1 246 201.9 248 201.9 250 201.8 252 201.7 254 201.6 256 201.6 258 201.5 260 201.5 262 201.5 264 201.5 266 201.5 268 201.6 270 201.6 272 201.7 274 201.8 276 201.9 278 202 280 202.1 282 202.2 284 202.3 286 202.4 288 202.6 290 202.7 292 202.8 294 203 296 203.2 298 203.4 300 203.6 302 203.8 304 204.1 306 204.3 308 204.5 310 204.8 312 205 314 205.2 316 205.5 318 205.7 320 206 322 206.3 324 206.6 326 206.8 328 207.1 330 207.4 332 207.8 334 208.1 336 208.4 338 208.8 340 209.1 342 209.5 344 209.9 346 210.3 348 210.7 350 211.2 352 211.6 354 212.1 356 212.5 358 213 360 213.5 362 213.9 364 214.3 366 214.6 368 214.9 370 215.2 372 215.4 374 215.6 376 215.9 378 216.1 380 216.3 382 216.5 384 216.6 386 216.8 388 216.9 390 217.1 392 217.2 394 217.3 396 217.4 398 217.4 400 217.5 402 217.5 404 217.6 406 217.6 408 217.7 410 217.7 412 217.7 414 217.8 416 217.8 418 217.8 420 217.9 422 217.9 424 217.9 426 217.9 428 217.9 430 218 432 218 434 218 436 218 438 218 440 218 442 218 444 218 446 218 448 218 450 218 452 218 454 218 456 218 458 218 460 218 462 218 464 218 466 218 468 218 470 218 472 218 474 218 476 218 478 218 480 218 482 218 484 218 486 218 488 218 490 218 492 218 494 218 496 218 498 218 500 218 502 218 504 218 506 218 508 218 510 218 512 218 514 218.1 516 218.1 518 218.1 520 218.1 522 218.1 524 218.1 526 218.1 528 218.2 530 218.2 532 218.2 534 218.2 536 218.3 538 218.3 540 218.3 542 218.3 544 218.4 546 218.5 548 218.8 550 219.1 552 219.3 554 219.3 556 219.3 558 219.3 560 219.3 562 219.3 564 219.3 566 219.3 568 219.3 570 219.3 572 219.3 574 219.3 576 219.3 578 219.3 580 219.3 582 219.3 584 219.3 586 219.3 588 219.3 590 219.3 592 219.3 594 219.3 596 219.3 598 219.3 600 219.3 602 219.3 604 219.3 606 219.3 608 219.3 610 219.3 612 219.3 614 219.3 616 219.3 618 219.3 620 219.3 622 219.3 624 219.3 626 219.3 628 219.3 630 219.3 632 219.3 634 219.3 636 219.3 638 219.3 640 219.3 642 219.3 644 219.3 646 219.3 648 219.3 650 219.3 652 219.3 654 219.3 656 219.3 658 219.3 660 219.3 662 219.3 664 219.3 666 219.3 668 219.3 670 219.3 672 219.3 674 219.3 676 219.3 678 219.3 680 219.3 682 219.2 684 218.9 686 218.7 688 218.4 690 218.3 692 218.3 694 218.3 696 218.3 698 218.3 700 218.3 702 218.3 704 218.3 706 218.3 708 218.3 710 218.3 712 218.3 714 218.3 716 218.3 718 218.3 720 218.3 722 218.3 724 218.3 726 218.3 728 218.3 730 218.3 732 218.3 734 218.3 736 218.3 738 218.2 740 218.2 742 218.2 744 218.2 746 218.2 748 218.1 750 218.1 752 218.1 754 218.1 756 218.1 758 218 760 218 762 218 764 218 766 218 768 218" stroke-width="1" stroke-dasharray="6 4.8"/>
<path d="M136 224.2 138 224.3 140 224.3 142 224.3 144 224.3 146 224.3 148 224.3 150 224.3 152 224.3 154 224.4 156 224.4 158 224.4 160 224.4 162 224.4 164 224.4 166 224.4 168 224.4 170 224.4 172 224.4 174 224.4 176 224.4 178 224.5 180 224.5 182 224.5 184 224.5 186 224.5 188 224.5 190 224.5 192 224.5 194 224.5 196 224.5 198 224.5 200 224.5 202 224.5 204 224.5 206 224.5 208 224.5 210 224.5 212 224.5 214 224.5 216 224.5 218 224.5 220 224.5 222 224.5 224 224.5 226 224.5 228 224.5 230 224.5 232 224.5 234 224.5 236 224.5 238 224.5 240 224.5 242 224.5 244 224.4 246 224.4 248 224.4 250 224.4 252 224.4 254 224.4 256 224.4 258 224.4 260 224.4 262 224.3 264 224.3 266 224.3 268 224.3 270 224.3 272 224.3 274 224.3 276 224.2 278 224.2 280 224.2 282 224.2 284 224.2 286 224.2 288 224.1 290 224.1 292 224.1 294 224.1 296 224.1 298 224 300 224 302 224 304 224 306 224 308 224 310 223.9 312 223.9 314 223.9 316 223.9 318 223.9 320 223.8 322 223.8 324 223.8 326 223.8 328 223.8 330 223.8 332 223.7 334 223.7 336 223.7 338 223.7 340 223.6 342 223.6 344 223.6 346 223.6 348 223.5 350 223.5 352 223.5 354 223.5 356 223.4M396 223 398 223 400 223 402 223 404 223 406 223 408 223 410 223 412 223.1 414 223.1 416 223.1 418 223.1 420 223.1 422 223.2 424 223.2 426 223.2 428 223.2 430 223.3 432 223.3 434 223.3 436 223.4 438 223.4 440 223.4 442 223.5 444 223.5 446 223.5 448 223.6 450 223.6 452 223.6 454 223.6 456 223.7 458 223.7 460 223.7 462 223.7 464 223.7 466 223.8 468 223.8 470 223.8 472 223.8 474 223.8 476 223.8 478 223.8 480 223.9 482 223.9 484 223.9 486 223.9 488 223.9 490 223.9 492 223.9 494 224 496 224 498 224 500 224 502 224 504 224 506 224 508 224 510 224.1 512 224.1 514 224.1 516 224.1 518 224.1 520 224.1 522 224.1 524 224.1 526 224.1 528 224.2 530 224.2 532 224.2 534 224.2 536 224.2 538 224.2 540 224.2 542 224.2 544 224.2 546 224.2 548 224.2 550 224.2 552 224.2 554 224.2 556 224.2 558 224.2 560 224.2 562 224.2 564 224.2 566 224.2 568 224.2 570 224.2 572 224.2 574 224.2 576 224.2 578 224.2 580 224.2 582 224.2 584 224.2 586 224.2 588 224.2 590 224.2 592 224.2 594 224.2 596 224.2 598 224.2 600 224.2 602 224.2 604 224.2 606 224.2 608 224.2 610 224.2 612 224.2 614 224.2 616 224.2 618 224.2 620 224.2 622 224.2 624 224.2 626 224.1 628 224.1 630 224.1 632 224.1 634 224.1 636 224.1 638 224.1 640 224.1 642 224.1 644 224.1 646 224.1 648 224.1 650 224.1 652 224.1 654 224.1 656 224.1 658 224.1 660 224.1 662 224 664 224 666 224 668 224 670 224 672 224 674 224 676 224 678 224 680 224 682 224 684 224 686 224 688 224 690 224 692 224 694 224 696 224 698 224 700 224 702 224 704 224 706 224 708 224 710 224 712 224 714 224 716 224 718 224 720 224 722 224 724 224 726 224 728 224 730 224 732 224 734 224 736 224 738 224 740 224 742 224 744 224 746 224 748 224 750 224 752 224 754 224 756 224 758 224 760 224 762 224 764 224 766 224 768 224" stroke-width="2" stroke-dasharray="7 3.8"/>
<path d="M136 231.2 138 231.2 140 231.2 142 231.2 144 231.2 146 231.2 148 231.2 150 231.2 152 231.2 154 231.2 156 231.2 158 231.2 160 231.2 162 231.2 164 231.2 166 231.2 168 231.2 170 231.2 172 231.2 174 231.2 176 231.2 178 231.2 180 231.2 182 231.2 184 231.2 186 231.2 188 231.2 190 231.2 192 231.2 194 231.2 196 231.2 198 231.2 200 231.2 202 231.2 204 231.2 206 231.2 208 231.2 210 231.2 212 231.2 214 231.2 216 231.2 218 231.2 220 231.2 222 231.2 224 231.2 226 231.2 228 231.2 230 231.2 232 231.2 234 231.2 236 231.2 238 231.2 240 231.2 242 231.2 244 231.2 246 231.2 248 231.2 250 231.2 252 231.2 254 231.2 256 231.2 258 231.2 260 231.2 262 231.2 264 231.2 266 231.2 268 231.2 270 231.2 272 231.2 274 231.2 276 231.2 278 231.2 280 231.2 282 231.2 284 231.2 286 231.2 288 231.2 290 231.2 292 231.2 294 231.2 296 231.2 298 231.2 300 231.2 302 231.2 304 231.2 306 231.2 308 231.2 310 231.2 312 231.2 314 231.2 316 231.2 318 231.2 320 231.2 322 231.2 324 231.2 326 231.2 328 231.2 330 231.2 332 231.2 334 231.2 336 231.2 338 231.2 340 231.2 342 231.2 344 231.2 346 231.2 348 231.2 350 231.2 352 231.2 354 231.2 356 231.2 358 231.2 360 231.2 362 231.2 364 231.1 366 231 368 230.9 370 230.8 372 230.7 374 230.6 376 230.5 378 230.4 380 230.3 382 230.1 384 230 386 229.9 388 229.8 390 229.7 392 229.7 394 229.6 396 229.5 398 229.5 400 229.5 402 229.5 404 229.5 406 229.5 408 229.5 410 229.5 412 229.5 414 229.5 416 229.6 418 229.6 420 229.6 422 229.6 424 229.6 426 229.6 428 229.7 430 229.7 432 229.7 434 229.7 436 229.7 438 229.8 440 229.8 442 229.8 444 229.8 446 229.8 448 229.9 450 229.9 452 229.9 454 229.9 456 229.9 458 229.9 460 230 462 230 464 230 466 230 468 230 470 230 472 230 474 230.1 476 230.1 478 230.1 480 230.1 482 230.1 484 230.1 486 230.1 488 230.1 490 230.2 492 230.2 494 230.2 496 230.2 498 230.2 500 230.2 502 230.2 504 230.3 506 230.3 508 230.3 510 230.3 512 230.3 514 230.3 516 230.3 518 230.3 520 230.4 522 230.4 524 230.4 526 230.4 528 230.4 530 230.4 532 230.4 534 230.4 536 230.4 538 230.4 540 230.4 542 230.5 544 230.5 546 230.5 548 230.5 550 230.5 552 230.5 554 230.5 556 230.5 558 230.5 560 230.5 562 230.5 564 230.5 566 230.5 568 230.5 570 230.5 572 230.5 574 230.5 576 230.5 578 230.5 580 230.5 582 230.5 584 230.5 586 230.5 588 230.5 590 230.5 592 230.5 594 230.4 596 230.4 598 230.4 600 230.4 602 230.4 604 230.4 606 230.4 608 230.4 610 230.4 612 230.4 614 230.4 616 230.3 618 230.3 620 230.3 622 230.3 624 230.3 626 230.3 628 230.3 630 230.3 632 230.3 634 230.2 636 230.2 638 230.2 640 230.2 642 230.2 644 230.2 646 230.2 648 230.2 650 230.2 652 230.1 654 230.1 656 230.1 658 230.1 660 230.1 662 230.1 664 230.1 666 230.1 668 230.1 670 230.1 672 230.1 674 230 676 230 678 230 680 230 682 230 684 230 686 230 688 230 690 230 692 230 694 230 696 230 698 230 700 230 702 230 704 230 706 230 708 230 710 230 712 230 714 230 716 230 718 230 720 230 722 230 724 230 726 230 728 230 730 230 732 230 734 230 736 230 738 230 740 230 742 230 744 230 746 230 748 230 750 230 752 230 754 230 756 230 758 230 760 230 762 230 764 230 766 230 768 230" stroke-width="1" stroke-dasharray="6 4.8"/>
<path d="M136 237 138 237 140 237 142 237 144 237 146 237 148 237 150 237 152 237 154 237 156 237 158 237 160 237 162 237 164 237 166 237 168 237 170 237 172 237 174 237 176 237 178 237 180 237 182 237 184 237 186 237 188 237 190 237 192 237 194 237 196 237 198 237 200 237 202 237 204 237 206 237 208 237 210 237 212 237 214 237 216 237 218 237 220 237 222 237 224 237 226 237 228 237 230 237 232 237 234 237 236 237 238 237 240 237 242 237 244 237 246 237 248 237 250 237 252 237 254 237 256 237 258 237 260 237 262 237 264 237 266 237 268 237 270 237 272 237 274 237 276 237 278 237 280 237 282 237 284 237 286 237 288 237 290 237 292 237 294 237 296 237 298 237 300 237 302 237 304 237 306 237.1 308 237.1 310 237.2 312 237.2 314 237.3 316 237.4 318 237.4 320 237.5 322 237.6 324 237.6 326 237.7 328 237.8 330 237.8 332 237.9 334 237.9 336 238 338 238 340 238 342 238 344 238 346 238 348 238 350 237.9 352 237.9 354 237.9 356 237.8M396 237 398 237 400 237 402 237 404 237 406 237 408 237 410 236.9 412 236.9 414 236.9 416 236.9 418 236.9 420 236.9 422 236.9 424 236.9 426 236.9 428 236.9 430 236.9 432 236.9 434 236.9 436 236.9 438 236.9 440 236.9 442 236.9 444 236.9 446 236.9 448 236.8 450 236.8 452 236.8 454 236.8 456 236.8 458 236.8 460 236.8 462 236.8 464 236.8 466 236.7 468 236.7 470 236.6 472 236.6 474 236.4 476 236.3 478 236.2 480 236.1 482 235.9 484 235.8 486 235.7 488 235.5 490 235.4 492 235.3 494 235.2 496 235.1 498 235.1 500 235 502 235 504 235 506 235 508 235 510 235.1 512 235.1 514 235.2 516 235.2 518 235.3 520 235.3 522 235.4 524 235.5 526 235.6 528 235.6 530 235.7 532 235.8 534 235.9 536 236 538 236 540 236.1 542 236.2 544 236.3 546 236.3 548 236.4 550 236.5 552 236.5 554 236.6 556 236.6 558 236.7 560 236.7 562 236.7 564 236.7 566 236.8 568 236.7 570 236.7 572 236.7 574 236.7 576 236.7 578 236.7 580 236.7 582 236.7 584 236.7 586 236.7 588 236.7 590 236.7 592 236.7 594 236.7 596 236.7 598 236.6 600 236.6 602 236.6 604 236.6 606 236.6 608 236.6 610 236.6 612 236.5 614 236.5 616 236.5 618 236.5 620 236.5 622 236.5 624 236.5 626 236.4 628 236.4 630 236.4 632 236.4 634 236.4 636 236.3 638 236.3 640 236.3 642 236.3 644 236.3 646 236.3 648 236.3 650 236.2 652 236.2 654 236.2 656 236.2 658 236.2 660 236.2 662 236.1 664 236.1 666 236.1 668 236.1 670 236.1 672 236.1 674 236.1 676 236.1 678 236.1 680 236 682 236 684 236 686 236 688 236 690 236 692 236 694 236 696 236 698 236 700 236 702 236 704 236 706 236 708 236 710 236 712 236 714 236 716 236 718 236 720 236 722 236 724 236 726 236 728 236 730 236 732 236 734 236 736 236 738 236 740 236 742 236 744 236 746 236 748 236 750 236 752 236 754 236 756 236 758 236 760 236 762 236 764 236 766 236 768 236" stroke-width="2" stroke-dasharray="7 3.8"/>
<path d="M136 243.5 138 243.5 140 243.5 142 243.5 144 243.5 146 243.5 148 243.5 150 243.5 152 243.5 154 243.5 156 243.5 158 243.5 160 243.5 162 243.5 164 243.5 166 243.5 168 243.5 170 243.5 172 243.5 174 243.5 176 243.5 178 243.5 180 243.5 182 243.5 184 243.5 186 243.5 188 243.5 190 243.5 192 243.5 194 243.5 196 243.5 198 243.5 200 243.5 202 243.5 204 243.5 206 243.5 208 243.5 210 243.5 212 243.5 214 243.5 216 243.5 218 243.5 220 243.5 222 243.5 224 243.5 226 243.5 228 243.5 230 243.5 232 243.5 234 243.5 236 243.5 238 243.5 240 243.6 242 243.6 244 243.6 246 243.6 248 243.6 250 243.6 252 243.6 254 243.6 256 243.6 258 243.6 260 243.6 262 243.6 264 243.6 266 243.6 268 243.6 270 243.6 272 243.6 274 243.7 276 243.8 278 244 280 244.1 282 244.2 284 244.4 286 244.4 288 244.5 290 244.6 292 244.7 294 244.8 296 244.8 298 244.9 300 245 302 245 304 245.1 306 245.1 308 245.2 310 245.2 312 245.2 314 245.2 316 245.2 318 245.2 320 245.2 322 245.2 324 245.2 326 245.2 328 245.2 330 245.2 332 245.2 334 245.2 336 245.2 338 245.2 340 245.2 342 245.2 344 245.2 346 245.2 348 245.2 350 245.1 352 245.1 354 245.1 356 245.1 358 245 360 245 362 245 364 244.9 366 244.9 368 244.8 370 244.8 372 244.8 374 244.7 376 244.7 378 244.6 380 244.6 382 244.6 384 244.5 386 244.5 388 244.5 390 244.5 392 244.4 394 244.4 396 244.4 398 244.4 400 244.4 402 244.4 404 244.4 406 244.4 408 244.4 410 244.4 412 244.4 414 244.4 416 244.2 418 244 420 243.7 422 243.3 424 243 426 242.7 428 242.4 430 242.3 432 242.3 434 242.5 436 242.8 438 243.3 440 243.7 442 244 444 244.1 446 244.2 448 244.3 450 244.3 452 244.4 454 244.4 456 244.4 458 244.4 460 244.4 462 244.4 464 244.4 466 244.3 468 244.2 470 244 472 243.8 474 243.6 476 243.5 478 243.4 480 243.2 482 243.1 484 243 486 242.9 488 242.8 490 242.7 492 242.6 494 242.6 496 242.5 498 242.5 500 242.6 502 242.7 504 242.9 506 243.1 508 243.3 510 243.4 512 243.5 514 243.5 516 243.5 518 243.5 520 243.5 522 243.5 524 243.5 526 243.5 528 243.5 530 243.5 532 243.5 534 244.1 536 244.5 538 244.5 540 244.5 542 244.5 544 244.5 546 244.5 548 244.5 550 244.5 552 244.5 554 244.5 556 244.4 558 244.4 560 244.4 562 244.4 564 244.4 566 244.4 568 244.3 570 244.3 572 244.3 574 244.3 576 244.3 578 244.2 580 244.2 582 244.2 584 244.2 586 244.1 588 244.1 590 244.1 592 244.1 594 244.1 596 244 598 244 600 244 602 244 604 243.9 606 243.9 608 243.9 610 243.9 612 243.9 614 243.8 616 243.8 618 243.8 620 243.8 622 243.8 624 243.8 626 243.8 628 243.8 630 243.7 632 243.7 634 243.7 636 243.7 638 243.7 640 243.7 642 243.7 644 243.7 646 243.7 648 243.6 650 243.6 652 243.6 654 243.6 656 243.6 658 243.6 660 243.6 662 243.6 664 243.6 666 243.6 668 243.6 670 243.5 672 243.5 674 243.5 676 243.5 678 243.5 680 243.5 682 243.5 684 243.5 686 243.5 688 243.5 690 243.8 692 244.5 694 244.5 696 244.5 698 244.5 700 244.5 702 244 704 243.5 706 243.5 708 243.5 710 243.5 712 243.5 714 243.5 716 243.5 718 243.5 720 243.5 722 243.5 724 243.5 726 243.5 728 243.5 730 243.5 732 243.7 734 244.5 736 244.5 738 244.5 740 244.5 742 244.5 744 244.5 746 244.5 748 244.5 750 244.5 752 244.5 754 244.5 756 244.5 758 244.5 760 244.5 762 244.5 764 244.5 766 244.5 768 244.5" stroke-width="1" stroke-dasharray="6 4.8"/>
<path d="M136 250.3 138 250.3 140 250.2 142 250.2 144 250.2 146 250.2 148 250.1 150 250.1 152 250.1 154 250.1 156 250.1 158 250 160 250 162 250 164 250 166 250 168 249.9 170 249.9 172 249.9 174 249.9 176 249.9 178 249.9 180 249.9 182 249.9 184 249.8 186 249.8 188 249.8 190 249.8 192 249.8 194 249.8 196 249.8 198 249.8 200 249.8 202 249.8 204 249.8 206 249.8 208 249.8 210 249.8 212 249.8 214 249.8 216 249.8 218 249.8 220 249.8 222 249.8 224 249.8 226 249.9 228 249.9 230 249.9 232 249.9 234 249.9 236 249.9 238 249.9 240 249.9 242 250 244 250 246 250 248 250 250 250 252 250.1 254 250.1 256 250.1 258 250.1 260 250.1 262 250.2 264 250.2 266 250.2 268 250.2 270 250.3 272 250.3 274 250.3 276 250.3 278 250.4 280 250.4 282 250.4 284 250.4 286 250.5 288 250.5 290 250.5 292 250.6 294 250.6 296 250.6 298 250.7 300 250.7 302 250.8 304 250.8 306 250.9 308 251 310 251.1 312 251.1 314 251.2 316 251.3 318 251.4 320 251.5 322 251.5 324 251.6 326 251.7 328 251.7 330 251.8 332 251.8 334 251.8 336 251.8M382 251 384 251 386 251 388 251 390 251 392 251 394 251 396 251 398 251 400 251 402 251 404 251 406 251 408 251 410 250.9 412 250.9 414 250.8 416 250.8 418 250.7 420 250.6 422 250.3 424 249.9 426 249.5 428 249.1 430 248.8 432 248.8 434 248.9 436 249 438 249.2 440 249.4 442 249.7 444 250.1 446 250.5 448 250.9 450 251 452 250.8 454 250.2 456 249.8 458 249.8 460 249.8 462 249.8 464 249.8 466 249.8 468 249.8 470 249.8 472 249.8 474 249.8 476 249.8 478 249.7 480 249.7 482 249.6 484 249.5 486 249.3 488 249.2 490 249.1 492 249 494 248.9 496 248.8 498 248.8 500 248.8 502 248.9 504 249 506 249.1 508 249.3 510 249.3 512 249.4 514 249.4 516 249.1 518 248.8 520 248.5 522 248.6 524 248.8 526 249.1 528 249.6 530 250.2 532 250.6 534 250.7 536 250.7 538 250.7 540 250.7 542 250.7 544 250.7 546 250.7 548 250.7 550 250.7 552 250.7 554 250.7 556 250.7 558 250.7 560 250.7 562 250.7 564 250.7 566 250.7 568 250.7 570 250.7 572 250.7 574 250.7 576 250.6 578 249.8 580 249.4 582 249.4 584 249.4 586 249.4 588 249.4 590 249.5 592 249.5 594 249.6 596 249.6 598 249.7 600 249.8 602 250.4 604 251 606 251 608 251 610 250.9 612 250.8 614 250 616 249.4 618 249.5 620 249.6 622 249.7 624 249.8 626 249.8 628 249.8 630 249.8 632 249.8 634 249.8 636 249.8 638 249.8 640 249.8 642 249.8 644 249.8 646 249.8 648 249.8 650 249.8 652 249.8 654 249.8 656 249.8 658 249.8 660 249.8 662 249.8 664 249.8 666 249.8 668 249.8 670 249.8 672 249.8 674 249.8 676 249.8 678 249.8 680 249.8 682 249.8 684 249.8 686 249.8 688 249.8 690 249.8 692 249.8 694 249.8 696 249.8 698 249.8 700 249.8 702 249.8 704 249.8 706 249.8 708 249.8 710 249.8 712 249.8 714 249.8 716 249.8 718 249.9 720 251 722 251 724 251 726 251 728 251 730 251 732 251 734 251 736 251 738 251 740 251 742 251 744 251 746 251 748 250.9 750 249.8 752 249.8 754 249.8 756 249.8 758 249.8 760 249.8 762 249.8 764 250 766 250.5 768 250.7" stroke-width="2"/>
<path d="M136 257.2 138 257.2 140 257.2 142 257.2 144 257.2 146 257.2 148 257.2 150 257.2 152 257.2 154 257.2 156 257.2 158 257.2 160 257.2 162 257.2 164 257.3 166 257.3 168 257.3 170 257.3 172 257.3 174 257.3 176 257.3 178 257.3 180 257.3 182 257.4 184 257.4 186 257.4 188 257.4 190 257.4 192 257.4 194 257.5 196 257.5 198 257.5 200 257.5 202 257.6 204 257.6 206 257.6 208 257.8 210 258 212 258.2 214 258.4 216 258.4 218 258.4 220 258.4 222 258.4 224 258.4 226 258.4 228 258.4 230 258.4 232 258.4 234 258.5 236 258.5 238 258.5 240 258.5 242 258.5 244 258.5 246 258.5 248 258.5 250 258.5 252 258.5 254 258.5 256 258.5 258 258.5 260 258.5 262 258.5 264 258.5 266 258.5 268 258.5 270 258.5 272 258.5 274 258.5 276 258.5 278 258.5 280 258.5 282 258.5 284 258.5 286 258.5 288 258.5 290 258.5 292 258.5 294 258.5 296 258.5 298 258.5 300 258.5 302 258.5 304 258.5 306 258.5 308 258.6 310 258.6 312 258.6 314 258.6 316 258.6 318 258.6 320 258.6 322 258.6 324 258.6 326 258.6 328 258.6 330 258.6 332 258.6 334 258.6 336 258.6 338 258.6 340 258.6 342 258.6 344 258.7 346 258.7 348 258.7 350 258.7 352 258.7 354 258.7 356 258.7 358 258.7 360 258.7 362 258.8 364 258.8 366 258.8 368 258.8 370 258.9 372 258.9 374 258.9 376 258.9 378 259 380 259 382 259 384 259 386 259 388 259 390 258.9 392 258.8 394 258.8 396 258.7 398 258.6 400 258.6 402 258.5 404 258.5 406 258.5 408 258.5 410 258.4 412 258.4 414 258.4 416 258.4 418 258.4 420 258.3 422 258.3 424 258.2 426 258.1 428 257.8 430 257.2 432 256.7 434 256.4 436 256.3 438 256.4 440 256.6 442 256.9 444 257.1 446 257.4 448 257.7 450 258 452 258.2 454 258.2 456 258 458 257.7 460 257.5 462 257.3 464 257.4 466 257.6 468 257.9 470 258.1 472 258.2 474 257.9 476 257.5 478 257.3 480 257.2 482 257.1 484 256.9 486 256.9 488 256.8 490 256.7 492 256.6 494 256.6 496 256.6 498 256.6 500 256.6 502 256.6 504 256.7 506 256.8 508 256.8 510 256.9 512 256.9 514 256.9 516 256.6 518 256.4 520 256.3 522 256.5 524 256.9 526 257.4 528 257.8 530 258.1 532 258.2 534 258.2 536 258.2 538 258.2 540 258.2 542 258.2 544 258.2 546 258.2 548 258.2 550 258.2 552 258.2 554 258.2 556 258.2 558 258.2 560 258.2 562 258.2 564 258.2 566 258.2 568 258.2 570 258.2 572 258.2 574 258 576 257.3 578 257.3 580 257.3 582 257.3 584 257.3 586 257.3 588 257.3 590 257.3 592 257.7 594 258.2 596 258.2 598 258.2 600 258.2 602 257.8 604 257.3 606 257.3 608 257.3 610 257.3 612 257.3 614 257.3 616 257.3 618 257.3 620 257.3 622 257.3 624 257.3 626 257.3 628 257.3 630 257.3 632 257.3 634 257.3 636 257.3 638 257.3 640 257.3 642 257.3 644 257.3 646 257.3 648 257.3 650 257.3 652 257.3 654 257.3 656 257.3 658 257.3 660 257.3 662 258.5 664 258.6 666 258.6 668 258.6 670 258.6 672 257.4 674 257.3 676 257.3 678 257.3 680 257.3 682 257.3 684 257.3 686 257.3 688 257.3 690 257.3 692 257.3 694 257.3 696 257.3 698 257.3 700 257.3 702 257.3 704 257.3 706 257.7 708 258.6 710 258.6 712 258.6 714 258.6 716 258.6 718 258.6 720 258.6 722 258.6 724 258.6 726 258.6 728 258.6 730 258.2 732 257.5 734 257.5 736 257.4 738 257.3 740 257.3 742 257.3 744 257.3 746 257.3 748 257.3 750 257.3 752 257.3 754 257.3 756 257.3 758 257.2 760 256.3 762 256.3 764 256.3 766 256.3 768 256.3" stroke-width="1"/>
<path d="M136 263.4 138 263.4 140 263.4 142 263.4 144 263.4 146 263.4 148 263.4 150 263.4 152 263.5 154 263.5 156 263.5 158 263.5 160 263.5 162 263.6 164 263.6 166 263.6 168 263.7 170 263.7 172 263.9 174 264.3 176 264.6 178 264.8 180 264.8 182 264.8 184 264.9 186 264.9 188 264.9 190 264.9 192 264.9 194 264.9 196 264.9 198 264.9 200 264.9 202 264.9 204 264.9 206 264.9 208 264.9 210 264.9 212 264.9 214 265 216 265 218 265 220 265.2 222 265.6 224 265.9 226 266.1 228 266.1 230 266.1 232 266.1 234 266.1 236 266.1 238 266.1 240 266.1 242 266.1 244 266.1 246 266.1 248 266.1 250 266.1 252 266.1 254 266.1 256 266.1 258 266.1 260 266.1 262 266.1 264 266.1 266 266.1 268 266.1 270 266.1 272 266.1 274 266.1 276 266.1 278 266.1 280 266.1 282 266.1 284 266.1 286 266.1 288 266.1 290 266.1 292 266.1 294 266.1 296 266.1 298 266.1 300 266.1 302 266 304 265.9 306 265.7 308 265.5 310 265.3 312 265.2 314 265.2 316 265.1 318 265.1 320 265.1 322 265.1 324 265 326 265 328 265 330 265 332 265 334 265 336 265M382 266.7 384 266.7 386 266.7 388 266.7 390 266.7 392 266.6 394 266.5 396 266.4 398 266.2 400 266.1 402 265.8 404 265.5 406 265.2 408 265.1 410 265.2 412 265.3 414 265.4 416 265.6 418 265.7 420 265.7 422 265.7 424 265.5 426 265.3 428 265 430 264.7 432 264.4 434 263.9 436 263.4 438 263 440 262.8 442 263 444 263.5 446 264.1 448 264.6 450 264.8 452 264.8 454 264.8 456 264.7 458 264.7 460 264.6 462 264.5 464 264.4 466 264.1 468 263.8 470 263.6 472 263.7 474 264 476 264.3 478 264.7 480 264.8 482 264.7 484 264.2 486 263.8 488 263.6 490 263.6 492 263.6 494 263.6 496 263.6 498 263.6 500 263.6 502 263.6 504 263.6 506 263.6 508 263.6 510 263.6 512 263.6 514 263.5 516 263.1 518 262.8 520 263 522 263.3 524 263.8 526 264.2 528 264.5 530 264.6 532 264.6 534 264.7 536 264.7 538 264.8 540 264.8 542 264.9 544 265 546 265.1 548 265.8 550 266 552 265.4 554 264.9 556 264.8 558 264.8 560 264.8 562 264.8 564 264.8 566 264.8 568 264.8 570 264.8 572 264.8 574 264.8 576 264.8 578 264.8 580 264.8 582 264.8 584 264.8 586 264.8 588 264.8 590 264.8 592 264.8 594 264.8 596 264.6 598 263.9 600 263.6 602 263.6 604 263.6 606 263.6 608 263.6 610 263.6 612 263.6 614 263.6 616 263.6 618 263.6 620 263.6 622 263.6 624 263.6 626 263.6 628 263.6 630 263.6 632 263.6 634 263.6 636 263.7 638 263.7 640 263.8 642 264.9 644 265.1 646 265.1 648 265.1 650 265.1 652 265.1 654 265.1 656 265.1 658 265.1 660 265.1 662 265.1 664 264.8 666 263.6 668 263.6 670 263.6 672 263.6 674 263.6 676 263.6 678 263.6 680 263.6 682 263.7 684 263.7 686 263.7 688 263.8 690 263.8 692 264.7 694 265.1 696 265.1 698 265.1 700 265.1 702 265.1 704 265.1 706 265 708 265 710 265 712 265 714 264.9 716 264.9 718 264.7 720 263.6 722 263.6 724 263.6 726 263.6 728 263.6 730 263.6 732 263.6 734 263.6 736 263.6 738 263.6 740 263.6 742 263.6 744 263.6 746 263.6 748 263.6 750 263.6 752 263.7 754 263.7 756 263.7 758 263.8 760 263.8 762 263.8 764 263.8 766 263.8 768 263.8" stroke-width="2"/>
<path d="M136 271.2 138 271.2 140 271.2 142 271.3 144 271.4 146 271.4 148 271.5 150 271.6 152 271.7 154 271.9 156 272.1 158 272.3 160 272.4 162 272.4 164 272.5 166 272.5 168 272.5 170 272.6 172 272.6 174 272.6 176 272.6 178 272.6 180 272.6 182 272.7 184 272.7 186 272.7 188 272.8 190 272.9 192 273.2 194 273.4 196 273.4 198 273.4 200 273.5 202 273.5 204 273.5 206 273.5 208 273.5 210 273.5 212 273.5 214 273.5 216 273.5 218 273.5 220 273.5 222 273.5 224 273.5 226 273.6 228 273.6 230 273.6 232 273.8 234 274.1 236 274.2 238 274.2 240 274.2 242 274.2 244 274.2 246 274.2 248 274.2 250 274.2 252 274.2 254 274.2 256 274.2 258 274.2 260 274.2 262 274.2 264 274.2 266 274.2 268 274.2 270 274.2 272 274.2 274 274.2 276 274.2 278 274.2 280 274.2 282 274.2 284 274.2 286 274.2 288 274.2 290 274.2 292 274.2 294 274.2 296 274.2 298 274.2 300 274.2 302 274.2 304 274.2 306 274.2 308 274.2 310 274.2 312 274.2 314 274.2 316 274.2 318 274.2 320 274.2 322 274.1 324 274.1 326 274 328 274 330 273.9 332 273.8 334 273.7 336 273.6 338 273.5 340 273.4 342 273.3 344 273.2 346 273.2 348 273.1 350 273.1 352 273 354 273 356 273 358 273 360 273 362 273.1 364 273.1 366 273.2 368 273.3 370 273.3 372 273.4 374 273.5 376 273.5 378 273.6 380 273.7 382 273.7 384 273.7 386 273.8 388 273.8 390 273.8 392 273.8 394 273.8 396 273.9 398 273.9 400 273.9 402 273.9 404 273.9 406 273.8 408 273.8 410 273.8 412 273.7 414 273.7 416 273.6 418 273.5 420 273.5 422 273.4 424 273.3 426 273.2 428 272.9 430 272.5 432 272.1 434 271.7 436 271.4 438 271.4 440 271.4 442 271.4 444 271.4 446 271.4 448 271.4 450 271.6 452 272 454 272.3 456 272.4 458 272.2 460 272 462 271.8 464 271.6 466 271.4 468 271.4 470 271.8 472 272.3 474 272.4 476 272.3 478 272.2 480 272.1 482 272 484 271.7 486 271.5 488 271.4 490 271.6 492 272 494 272.3 496 272.4 498 272.1 500 271.7 502 271.3 504 271.1 506 271.1 508 271.2 510 271.3 512 271.3 514 271.4 516 271.5 518 271.6 520 271.7 522 271.8 524 271.9 526 272 528 272.1 530 272.1 532 272.2 534 272.2 536 272.3 538 272.4 540 272.6 542 273.2 544 273.6 546 273.6 548 273.5 550 273.3 552 272.7 554 272.4 556 272.4 558 272.4 560 272.4 562 272.4 564 272.4 566 272.4 568 272.4 570 272.4 572 272.4 574 272.4 576 272.4 578 272.4 580 272.4 582 272.4 584 272.4 586 272.4 588 272.4 590 272.4 592 271.9 594 271.4 596 271.4 598 271.4 600 271.4 602 271.4 604 271.4 606 271.4 608 271.4 610 271.4 612 271.4 614 271.4 616 271.4 618 271.4 620 271.4 622 271.4 624 271.8 626 272.4 628 272.4 630 272.4 632 272.4 634 272.4 636 272.4 638 272.4 640 272.4 642 272.4 644 272.4 646 272.4 648 272.4 650 272.4 652 272.4 654 272.4 656 272.4 658 272.2 660 271.4 662 271.4 664 271.4 666 271.4 668 271.4 670 271.4 672 271.4 674 271.4 676 271.4 678 271.4 680 271.4 682 272.4 684 272.4 686 272.4 688 272.4 690 272.4 692 272.4 694 272.4 696 272.4 698 272.4 700 272.4 702 272.4 704 272.4 706 272.4 708 272.3 710 271.4 712 271.4 714 271.4 716 271.4 718 271.4 720 271.4 722 271.4 724 271.4 726 271.4 728 271.4 730 271.4 732 271.4 734 271.4 736 271.4 738 271.4 740 271.4 742 271.4 744 271.4 746 271.4 748 271.4 750 271.4 752 271.4 754 271.4 756 271.4 758 271.4 760 271.4 762 271.4 764 271.4 766 271.4 768 271.4" stroke-width="1"/>
<path d="M136 278.8 138 278.8 140 278.8 142 278.9 144 278.9 146 279 148 279.1 150 279.2 152 279.2 154 279.4 156 279.6 158 279.8 160 280 162 280.2 164 280.4 166 280.5 168 280.6 170 280.7 172 280.8 174 280.8 176 280.9 178 281 180 281.1 182 281.1 184 281.2 186 281.3 188 281.4 190 281.4 192 281.5 194 281.6 196 281.7 198 281.8 200 281.8 202 281.9 204 282 206 282.1 208 282.2 210 282.3 212 282.3 214 282.4 216 282.5 218 282.6 220 282.7 222 282.8 224 282.9 226 282.9 228 282.9 230 283 232 283 234 283 236 283 238 283.1 240 283.1 242 283.1 244 283.1 246 283.1 248 283.2 250 283.2 252 283.2 254 283.2 256 283.2 258 283.2 260 283.2 262 283.3 264 283.3 266 283.3 268 283.3 270 283.3 272 283.3 274 283.3 276 283.3 278 283.3 280 283.3 282 283.3 284 283.3 286 283.2 288 283.2 290 283.1 292 283.1 294 283 296 282.9 298 282.8 300 282.7 302 282.6 304 282.5 306 282.4 308 282.3 310 282.2 312 282.1 314 282 316 281.9 318 281.8 320 281.7 322 281.6 324 281.5 326 281.5 328 281.4 330 281.3 332 281.3 334 281.3 336 281.2M382 281 384 281 386 281 388 281 390 281.1 392 281.2 394 281.3 396 281.3 398 281.4 400 281.4 402 281.4 404 281.3 406 281.2 408 281.1 410 281 412 280.8 414 280.7 416 280.5 418 280.2 420 280 422 279.8 424 279.6 426 279.5 428 279.4 430 279.4 432 279.3 434 279.3 436 279.2 438 279.1 440 278.7 442 278.2 444 277.7 446 277.7 448 277.9 450 278.4 452 278.9 454 279.4 456 279.8 458 279.9 460 279.8 462 279.6 464 279.3 466 279 468 278.8 470 278.6 472 278.8 474 279.1 476 279.6 478 279.9 480 280.1 482 280 484 279.5 486 279.1 488 278.9 490 278.9 492 278.9 494 278.9 496 278.9 498 278.9 500 278.9 502 278.4 504 277.6 506 277.6 508 277.6 510 277.6 512 277.6 514 277.7 516 277.9 518 278.2 520 278.6 522 278.9 524 279.3 526 279.7 528 279.9 530 279.9 532 279.9 534 279.9 536 279.9 538 279.9 540 279.9 542 279.9 544 279.9 546 279.9 548 279.9 550 279.9 552 279.9 554 279.9 556 279.2 558 278.9 560 278.9 562 278.9 564 278.9 566 278.9 568 278.9 570 278.9 572 278.9 574 278.9 576 278.9 578 278.9 580 278.9 582 278.9 584 278.9 586 278.9 588 278.9 590 278.9 592 278.3 594 277.6 596 277.6 598 277.6 600 277.6 602 277.6 604 277.9 606 278.9 608 278.9 610 278.9 612 278.9 614 278.9 616 278.9 618 278.9 620 278.9 622 278.9 624 278.9 626 278.9 628 278.9 630 278.9 632 278.9 634 278.9 636 278.9 638 278.9 640 278.9 642 278.9 644 278.9 646 278.9 648 278.9 650 278.9 652 278.9 654 278.8 656 277.6 658 277.6 660 277.6 662 277.6 664 277.6 666 277.6 668 277.6 670 278.3 672 279 674 279 676 279.1 678 280 680 280.2 682 280.2 684 280.2 686 280.2 688 280.2 690 279.5 692 278.9 694 278.8 696 278.8 698 278.8 700 278.8 702 278.7 704 278.7 706 278.7 708 277.9 710 277.6 712 277.6 714 277.6 716 277.6 718 277.6 720 277.6 722 277.6 724 277.6 726 277.6 728 277.6 730 277.6 732 277.6 734 277.6 736 277.6 738 277.6 740 277.6 742 277.6 744 277.6 746 277.6 748 277.6 750 277.6 752 277.6 754 277.6 756 277.6 758 277.7 760 279.1 762 279.1 764 279.1 766 279.1 768 279.1" stroke-width="2"/>
<path d="M136 287.4 138 287.6 140 287.9 142 288.1 144 288.4 146 288.6 148 288.8 150 289 152 289.2 154 289.5 156 289.7 158 289.9 160 290 162 290.2 164 290.4 166 290.6 168 290.8 170 290.9 172 291.1 174 291.2 176 291.3 178 291.5 180 291.6 182 291.7 184 291.8 186 292 188 292.1 190 292.2 192 292.3 194 292.4 196 292.5 198 292.6 200 292.7 202 292.8 204 292.9 206 293 208 293 210 293.1 212 293.1 214 293.2 216 293.2 218 293.2 220 293.2 222 293.2 224 293.2 226 293.2 228 293.2 230 293.2 232 293.2 234 293.2 236 293.2 238 293.2 240 293.2 242 293.2 244 293.2 246 293.2 248 293.2 250 293.2 252 293.2 254 293.2 256 293.2 258 293.2 260 293.2 262 293.2 264 293.2 266 293.2 268 293.2 270 293.1 272 293.1 274 293.1 276 293 278 293 280 292.9 282 292.9 284 292.8 286 292.8 288 292.7 290 292.7 292 292.6 294 292.5 296 292.5 298 292.4 300 292.3 302 292.3 304 292.2 306 292.1 308 292.1 310 292 312 291.9 314 291.8 316 291.8 318 291.7 320 291.6 322 291.5 324 291.5 326 291.4 328 291.3 330 291.2 332 291.2 334 291.1 336 291 338 290.9 340 290.8 342 290.7 344 290.6 346 290.5 348 290.4 350 290.3 352 290.2 354 290.1 356 290 358 289.9 360 289.8 362 289.6 364 289.4 366 289.3 368 289.1 370 289 372 288.8 374 288.7 376 288.5 378 288.4 380 288.4 382 288.3 384 288.3 386 288.3 388 288.5 390 288.8 392 289.1 394 289.5 396 289.8 398 290.1 400 290.2 402 290.2 404 290.2 406 290.2 408 290.2 410 290.2 412 289.8 414 288.9 416 288.3 418 288.2 420 288.1 422 288.1 424 288 426 288 428 288 430 287.9 432 287.9 434 287.8 436 287.8 438 287.7 440 287.3 442 286.9 444 286.5 446 286.4 448 286.6 450 286.9 452 287.2 454 287.4 456 287.4 458 287.4 460 287.4 462 287.4 464 287.4 466 287.4 468 287.4 470 287.4 472 287.2 474 286.6 476 286.5 478 287.1 480 287.7 482 287.5 484 287.2 486 286.8 488 286.7 490 287.1 492 287.6 494 287.6 496 287.2 498 286.7 500 286.4 502 286.4 504 286.4 506 286.4 508 286.4 510 286.4 512 286.4 514 286.4 516 286.5 518 286.6 520 286.8 522 287 524 287.1 526 287.4 528 287.7 530 288 532 288.2 534 288.3 536 288.3 538 288.3 540 288.3 542 288.3 544 288.1 546 287.4 548 287.4 550 287.4 552 287.4 554 287.4 556 287.4 558 287.4 560 287.4 562 287.4 564 287.4 566 287.4 568 287.4 570 287.4 572 287.4 574 287.4 576 287.4 578 286.5 580 286.4 582 286.4 584 286.4 586 286.4 588 286.4 590 286.4 592 286.4 594 286.4 596 286.4 598 286.4 600 286.4 602 286.4 604 286.6 606 287.4 608 287.4 610 287.4 612 287.4 614 287.4 616 287.4 618 287.4 620 287.4 622 287.4 624 287.4 626 287.4 628 287.4 630 287.4 632 287.4 634 287.4 636 287.4 638 287.4 640 287.4 642 286.4 644 286.4 646 286.4 648 286.4 650 286.4 652 286.4 654 286.4 656 286 658 285.6 660 286.4 662 286.5 664 286.6 666 287 668 287.4 670 287.4 672 287.4 674 287.4 676 287.4 678 287.4 680 287.4 682 287.4 684 287.4 686 287.4 688 287.3 690 286.4 692 286.4 694 286.4 696 286.4 698 286.4 700 286.4 702 286.4 704 286.4 706 286.4 708 286.4 710 286.4 712 286.4 714 286.4 716 286.4 718 286.4 720 286.4 722 286.4 724 286.4 726 286.4 728 286.4 730 286.4 732 286.4 734 286.4 736 286.4 738 286.4 740 286.4 742 286.4 744 286.4 746 286.4 748 286.4 750 286.4 752 286.4 754 286.4 756 286.4 758 286.4 760 286.8 762 287.4 764 287.4 766 287.4 768 287.4" stroke-width="1"/>
<path d="M136 297.5 138 297.7 140 297.9 142 298.1 144 298.3 146 298.5 148 298.7 150 298.8 152 299 154 299.2 156 299.4 158 299.6 160 299.7 162 299.9 164 300 166 300.2 168 300.4 170 300.5 172 300.7 174 300.8 176 301 178 301.1 180 301.2 182 301.4 184 301.5 186 301.7 188 301.9 190 302 192 302.1 194 302.3 196 302.4 198 302.5 200 302.6 202 302.7 204 302.7 206 302.8 208 302.8 210 302.8 212 302.8 214 302.8 216 302.8 218 302.9 220 302.9 222 302.9 224 302.9 226 302.9 228 302.9 230 302.9 232 302.9 234 303 236 303 238 303 240 303 242 303 244 303 246 303 248 303 250 303 252 303 254 303 256 303 258 303 260 303 262 302.9 264 302.9 266 302.9 268 302.8 270 302.8 272 302.7 274 302.6 276 302.6 278 302.5 280 302.4 282 302.3 284 302.2 286 302.2 288 302.1 290 302 292 301.9 294 301.8 296 301.7 298 301.6 300 301.5 302 301.4 304 301.3 306 301.2 308 301.1 310 301 312 300.9 314 300.7 316 300.6 318 300.5 320 300.3 322 300.2 324 300 326 299.9 328 299.7 330 299.6 332 299.5 334 299.3 336 299.2M382 296 384 296 386 296 388 296.1 390 296.2 392 296.4 394 296.5 396 296.7 398 296.9 400 297.1 402 297.3 404 297.5 406 297.7 408 297.9 410 298 412 297.7 414 297.2 416 296.8 418 296.5 420 296.3 422 296.1 424 295.9 426 295.8 428 295.7 430 295.6 432 295.6 434 295.5 436 295.5 438 295.4 440 295.3 442 295.1 444 294.4 446 293.6 448 293.3 450 293.5 452 294 454 294.5 456 294.8 458 295 460 295 462 295 464 295 466 295 468 295 470 295 472 294.6 474 293.9 476 293.7 478 294.1 480 294.7 482 295.2 484 295 486 294.4 488 293.9 490 293.8 492 293.7 494 293.7 496 293.6 498 293.5 500 293.5 502 293.4 504 293.4 506 293.4 508 293.3 510 293.3 512 293.3 514 293.4 516 293.5 518 293.8 520 294.2 522 294.5 524 294.7 526 294.8 528 294.9 530 295 532 295.2 534 296 536 295.9 538 295 540 295 542 295 544 295 546 295 548 295 550 295 552 295 554 295 556 295 558 295 560 295 562 295 564 295 566 295 568 295 570 294.8 572 293.9 574 293.7 576 293.6 578 293.5 580 293.4 582 293 584 292.8 586 293.3 588 293.7 590 293.7 592 293.8 594 293.8 596 293.8 598 293.8 600 293.9 602 293.9 604 293.9 606 293.9 608 293.9 610 293.9 612 293.9 614 293.9 616 293.9 618 293.9 620 293.9 622 294 624 294 626 294 628 294 630 293.9 632 293.9 634 293.9 636 293.9 638 293.8 640 293.7 642 292.8 644 292.7 646 292.7 648 292.7 650 292.7 652 292.7 654 292.9 656 293.8 658 293.8 660 293.9 662 294.3 664 295 666 295 668 295 670 295 672 295 674 295 676 295 678 294.2 680 293.9 682 293.9 684 293.8 686 293.8 688 293.8 690 293.8 692 293.5 694 292.7 696 292.7 698 292.7 700 292.7 702 292.7 704 292.7 706 292.7 708 292.7 710 292.7 712 292.7 714 292.7 716 292.7 718 292.7 720 292.7 722 292.7 724 292.7 726 292.7 728 292.7 730 292.7 732 292.7 734 293.4 736 294 738 294 740 294 742 294 744 294 746 294.1 748 294.3 750 295.2 752 295.3 754 295.3 756 295.4 758 295.5 760 295.8 762 296.3 764 296.7 766 297 768 297.1" stroke-width="2"/>
<path d="M136 308.2 138 308.3 140 308.4 142 308.5 144 308.7 146 308.8 148 308.9 150 309 152 309.1 154 309.2 156 309.4 158 309.5 160 309.6 162 309.7 164 309.8 166 310 168 310.1 170 310.2 172 310.3 174 310.5 176 310.6 178 310.7 180 310.8 182 310.9 184 311 186 311.1 188 311.2 190 311.3 192 311.4 194 311.5 196 311.6 198 311.8 200 311.9 202 312 204 312.1 206 312.2 208 312.2 210 312.3 212 312.4 214 312.5 216 312.6 218 312.6 220 312.7 222 312.7 224 312.8 226 312.8 228 312.8 230 312.8 232 312.8 234 312.8 236 312.8 238 312.8 240 312.8 242 312.7 244 312.7 246 312.7 248 312.7 250 312.6 252 312.6 254 312.5 256 312.5 258 312.5 260 312.4 262 312.4 264 312.3 266 312.3 268 312.3 270 312.2 272 312.2 274 312.1 276 312.1 278 312 280 312 282 312 284 311.9 286 311.9 288 311.8 290 311.8 292 311.8 294 311.7 296 311.7 298 311.6 300 311.6 302 311.5 304 311.5 306 311.4 308 311.4 310 311.4 312 311.3 314 311.3 316 311.2 318 311.1 320 311.1 322 311 324 311 326 310.9 328 310.8 330 310.8 332 310.7 334 310.6 336 310.5 338 310.4 340 310.3 342 310.3 344 310.2 346 310.1 348 310 350 309.9 352 309.7 354 309.6 356 309.5 358 309.3 360 309 362 308.7 364 308.3 366 307.8 368 307.3 370 306.8 372 306.3 374 305.8 376 305.3 378 304.9 380 304.6 382 304.4 384 304.3 386 304.3 388 304.3 390 304.3 392 304.4 394 304.5 396 304.6 398 304.7 400 304.8 402 304.9 404 305.2 406 305.4 408 305.7 410 305.9 412 306 414 306 416 305.9 418 305.8 420 305.7 422 305.4 424 305.1 426 304.8 428 304.5 430 304.3 432 304.1 434 304 436 303.9 438 303.7 440 303.6 442 303.4 444 303.1 446 302.5 448 301.7 450 301.3 452 301.3 454 301.5 456 301.7 458 302 460 302.2 462 302.4 464 302.7 466 302.9 468 303.1 470 303.1 472 303.1 474 303 476 302.8 478 302.7 480 302.6 482 302.5 484 302.5 486 302.4 488 302.4 490 302.4 492 302.4 494 302.4 496 302.3 498 302.3 500 302.3 502 302.2 504 302 506 301.8 508 301.6 510 301.4 512 301.3 514 301.3 516 301.5 518 301.9 520 302.4 522 302.8 524 303.1 526 303.1 528 303.1 530 303.1 532 303.1 534 303.1 536 303.1 538 303.1 540 303.1 542 303.1 544 303.1 546 303.1 548 303.1 550 303.1 552 302.6 554 302.3 556 302.4 558 302.6 560 302.7 562 302.8 564 302.7 566 302.7 568 302.6 570 302.5 572 302.4 574 302 576 301.3 578 301.3 580 301.3 582 301.3 584 301.4 586 301.5 588 302.5 590 302.5 592 302.5 594 302.5 596 302.5 598 302.5 600 302.5 602 302.5 604 302.5 606 302.5 608 302.5 610 302.5 612 302.5 614 302.5 616 302.5 618 302.5 620 302.5 622 302.5 624 302.5 626 302.5 628 302.5 630 302.4 632 302.3 634 301.5 636 301.3 638 301.3 640 301.3 642 301.3 644 301.3 646 301.3 648 301.3 650 301.3 652 301.5 654 302.3 656 302.4 658 302.4 660 302.5 662 303.5 664 303.5 666 303.5 668 303.3 670 302.3 672 302.3 674 302.3 676 302.3 678 302.3 680 302.3 682 301.3 684 301.3 686 301.3 688 301.3 690 301.3 692 301.3 694 301.3 696 301.3 698 301.3 700 301.3 702 301.3 704 301.3 706 301.3 708 301.3 710 301.3 712 301.3 714 301.3 716 301.3 718 301.3 720 301.3 722 301.3 724 301.3 726 301.3 728 301.9 730 302.3 732 302.4 734 302.4 736 302.5 738 302.7 740 303 742 303.4 744 303.9 746 304.3 748 304.7 750 305.1 752 305.4 754 305.8 756 306.2 758 306.5 760 306.9 762 307.2 764 307.5 766 307.7 768 307.8" stroke-width="1"/>
<path d="M136 316.2 138 316.4 140 316.6 142 316.8 144 317 146 317.1 148 317.3 150 317.5 152 317.6 154 317.8 156 318 158 318.2 160 318.3 162 318.5 164 318.7 166 318.8 168 319 170 319.2 172 319.3 174 319.5 176 319.7 178 319.8 180 320 182 320.2 184 320.4 186 320.6 188 320.8 190 321 192 321.2 194 321.4 196 321.6 198 321.7 200 321.9 202 321.9 204 322 206 322 208 322 210 322 212 322 214 322 216 322 218 322 220 322 222 322 224 322 226 322 228 322 230 322 232 322 234 322 236 322 238 322 240 322 242 322 244 322 246 322 248 322 250 322 252 322 254 322 256 322 258 322 260 322 262 321.9 264 321.9 266 321.8 268 321.8 270 321.7 272 321.7 274 321.6 276 321.5 278 321.4 280 321.3 282 321.2 284 321.1 286 321 288 320.9 290 320.8 292 320.7 294 320.6 296 320.5 298 320.4 300 320.3 302 320.2 304 320.1 306 319.9 308 319.8 310 319.7 312 319.6 314 319.5 316 319.4 318 319.2 320 319.1 322 319 324 318.8 326 318.7 328 318.5 330 318.4 332 318.2 334 318.1 336 317.9M382 312.7 384 312.6 386 312.4 388 312.3 390 312.2 392 312.1 394 312 396 312 398 311.9 400 311.9 402 312 404 312.2 406 312.5 408 312.8 410 313 412 313.2 414 313.2 416 313.2 418 313.2 420 313.2 422 313.2 424 313.1 426 312.8 428 312.5 430 312.1 432 311.8 434 311.6 436 311.5 438 311.3 440 311.1 442 310.9 444 310.7 446 310.2 448 309.7 450 309.1 452 308.8 454 308.9 456 309.2 458 309.6 460 310 462 310.3 464 310.3 466 310.2 468 310.2 470 310.1 472 310.1 474 310 476 310.1 478 310.4 480 310.9 482 311 484 310.9 486 310.8 488 310.5 490 310.2 492 310 494 309.8 496 309.6 498 309.5 500 309.4 502 309.2 504 309.1 506 309 508 308.9 510 308.8 512 308.8 514 308.8 516 309.3 518 309.9 520 310.5 522 311 524 311 526 311 528 311 530 311 532 311 534 311 536 311 538 311 540 311 542 311 544 311 546 311 548 311 550 311 552 311 554 311 556 311 558 311 560 310.9 562 309.8 564 309.8 566 309.8 568 309.8 570 309.8 572 309.8 574 309.6 576 308.8 578 308.8 580 308.8 582 308.8 584 308.8 586 309.6 588 310 590 310 592 310 594 310 596 310 598 310 600 310 602 310 604 310 606 310 608 310 610 310 612 310 614 309.9 616 309.9 618 309.9 620 309.9 622 309.8 624 309.8 626 309.8 628 309.2 630 308.8 632 308.8 634 308.8 636 308.8 638 308.8 640 308.8 642 308.8 644 308.8 646 308.8 648 308.8 650 309.4 652 309.8 654 309.8 656 309.8 658 309.8 660 309.8 662 309.8 664 309.8 666 309.8 668 309.8 670 309.8 672 309.8 674 309.8 676 309.8 678 309 680 308.8 682 308.8 684 308.8 686 308.8 688 308.8 690 308.8 692 308.8 694 308.8 696 308.8 698 308.8 700 308.8 702 308.8 704 308.8 706 308.8 708 308.8 710 308.8 712 308.8 714 308.8 716 308.8 718 308.8 720 309.5 722 310.2 724 310.6 726 311 728 311.4 730 311.8 732 312.2 734 312.5 736 312.9 738 313.2 740 313.6 742 313.9 744 314.3 746 314.8 748 315.3 750 315.7 752 315.9 754 316.1 756 316.3 758 316.3 760 316.3 762 316.2 764 316.1 766 316.1 768 316.1" stroke-width="2"/>
<path d="M136 326.2 138 326.4 140 326.6 142 326.8 144 327 146 327.1 148 327.3 150 327.5 152 327.6 154 327.8 156 328 158 328.2 160 328.3 162 328.5 164 328.7 166 328.8 168 329 170 329.2 172 329.3 174 329.5 176 329.7 178 329.8 180 330 182 330.2 184 330.4 186 330.6 188 330.8 190 331 192 331.2 194 331.4 196 331.6 198 331.7 200 331.9 202 331.9 204 332 206 332 208 332 210 332 212 332 214 332 216 332 218 332 220 332 222 332 224 332 226 332 228 332 230 332 232 332 234 332 236 332 238 332 240 332 242 332 244 332 246 332 248 332 250 332 252 332 254 332 256 332 258 332 260 332 262 331.9 264 331.9 266 331.8 268 331.8 270 331.7 272 331.6 274 331.6 276 331.5 278 331.4 280 331.3 282 331.2 284 331.1 286 331 288 330.9 290 330.8 292 330.7 294 330.6 296 330.5 298 330.4 300 330.2 302 330.1 304 330 306 330 308 329.9 310 329.8 312 329.7 314 329.6 316 329.5 318 329.4 320 329.3 322 329.2 324 329.1 326 329 328 328.9 330 328.8 332 328.7 334 328.6 336 328.5 338 328.4 340 328.3 342 328.1 344 328 346 327.8 348 327.7 350 327.5 352 327.4 354 327.2 356 327 358 326.8 360 326.4 362 326 364 325.5 366 325 368 324.5 370 323.9 372 323.4 374 322.9 376 322.4 378 322 380 321.6 382 321.4 384 321.3 386 321.3 388 321.3 390 321.3 392 321.3 394 321.3 396 321.3 398 321.3 400 321.3 402 321.4 404 321.6 406 321.8 408 322 410 322.2 412 322.3 414 322.3 416 322.3 418 322.3 420 322.3 422 322.3 424 322.3 426 322.3 428 322.1 430 321.7 432 321.3 434 320.8 436 320.3 438 320 440 319.8 442 319.6 444 319.3 446 319.2 448 319 450 318.8 452 318.7 454 318.6 456 318.4 458 318.3 460 318.2 462 318.2 464 318.6 466 319.1 468 319 470 318.9 472 318.8 474 318.7 476 318.6 478 318.6 480 318.6 482 318.7 484 318.7 486 318.8 488 318.8 490 318.8 492 318.7 494 318.6 496 318.4 498 318.3 500 318.2 502 318.1 504 318 506 318 508 317.9 510 317.9 512 317.8 514 317.9 516 318.3 518 318.7 520 319.1 522 319.1 524 319.1 526 319.1 528 319.1 530 319.1 532 319.1 534 319.1 536 319.1 538 319.1 540 319.1 542 319.1 544 319.1 546 319.1 548 319.1 550 319.1 552 319.1 554 319.1 556 319.1 558 319.1 560 319.1 562 319.1 564 318.9 566 318.2 568 318.2 570 318.2 572 318.2 574 318 576 317.3 578 317.3 580 317.3 582 317.3 584 317.5 586 318.2 588 318.2 590 318.2 592 318.2 594 318.2 596 318.1 598 318.1 600 318.1 602 318.1 604 318 606 318 608 317.9 610 317.9 612 317.9 614 317.8 616 317.8 618 317.7 620 317.7 622 317.7 624 317.6 626 317.6 628 317.5 630 317.5 632 317.5 634 317.4 636 316.3 638 316.4 640 316.6 642 317.6 644 317.7 646 317.7 648 318.4 650 318.8 652 318.8 654 318.8 656 318.8 658 318.8 660 318.8 662 318.8 664 318.8 666 318.8 668 318.8 670 318.8 672 317.7 674 317.6 676 317.6 678 317.6 680 317.6 682 317.6 684 317.6 686 317.6 688 317.6 690 317.6 692 317.6 694 317.6 696 317.6 698 317.6 700 317.6 702 317.6 704 317.6 706 317.6 708 317.7 710 318 712 318.4 714 318.9 716 319.2 718 319.6 720 320 722 320.5 724 320.9 726 321.3 728 321.8 730 322.2 732 322.6 734 323 736 323.4 738 323.7 740 324.1 742 324.4 744 324.7 746 325 748 325.3 750 325.5 752 325.7 754 326 756 326.2 758 326.4 760 326.6 762 326.9 764 327.2 766 327.3 768 327.4" stroke-width="1"/>
<path d="M136 337 138 337.1 140 337.3 142 337.4 144 337.6 146 337.7 148 337.8 150 338 152 338.1 154 338.3 156 338.4 158 338.5 160 338.7 162 338.8 164 338.9 166 339.1 168 339.2 170 339.3 172 339.5 174 339.6 176 339.7 178 339.9 180 340 182 340.1 184 340.3 186 340.4 188 340.6 190 340.8 192 340.9 194 341.1 196 341.3 198 341.4 200 341.6 202 341.7 204 341.8 206 341.9 208 341.9 210 342 212 342 214 342 216 342 218 342 220 342 222 342 224 342 226 342 228 342 230 342 232 342 234 342 236 342 238 342 240 342 242 342 244 342 246 342 248 342 250 342 252 342 254 342 256 342 258 342 260 342 262 341.9 264 341.9 266 341.8 268 341.7 270 341.6 272 341.5 274 341.4 276 341.3 278 341.2 280 341.1 282 340.9 284 340.8 286 340.7 288 340.5 290 340.4 292 340.3 294 340.1 296 340 298 339.9 300 339.8 302 339.7 304 339.6 306 339.5 308 339.4 310 339.3 312 339.2 314 339.1 316 339 318 338.9 320 338.8 322 338.7 324 338.6 326 338.5 328 338.4 330 338.3 332 338.2 334 338.1 336 337.9M382 331 384 330.8 386 330.7 388 330.6 390 330.5 392 330.5 394 330.4 396 330.3 398 330.2 400 330.1 402 329.9 404 329.5 406 329.2 408 329.1 410 329.3 412 329.7 414 330.1 416 330.5 418 330.7 420 330.7 422 330.6 424 330.5 426 330.3 428 330.1 430 329.8 432 329.5 434 329.2 436 328.8 438 328.6 440 328.2 442 328 444 327.9 446 328 448 328.1 450 328.2 452 327.6 454 326.4 456 326.1 458 326.2 460 326.4 462 326.6 464 326.7 466 326.7 468 326.8 470 326.9 472 326.9 474 327 476 327 478 326.9 480 326.7 482 326.5 484 326.3 486 326.1 488 326.1 490 326.3 492 326.7 494 327 496 326.9 498 326.8 500 326.7 502 326.5 504 326.3 506 326.1 508 326 510 325.8 512 325.7 514 325.8 516 326.6 518 327.4 520 327.6 522 327.7 524 327.8 526 327.9 528 327.3 530 326.6 532 326.7 534 326.8 536 327.1 538 327.9 540 327.9 542 327.9 544 327.9 546 327.9 548 327.9 550 327.7 552 326.6 554 326.6 556 326.6 558 326.6 560 326.6 562 326.6 564 326.6 566 326.6 568 326.6 570 326.5 572 325.7 574 325.5 576 325.3 578 325.2 580 325.1 582 325.6 584 326.1 586 326.1 588 326.1 590 326 592 326 594 325.9 596 325.9 598 325.8 600 325.8 602 325.7 604 325.6 606 325.5 608 325.5 610 325.4 612 325.3 614 325.3 616 325.2 618 325.2 620 325.1 622 325.1 624 325.1 626 325.1 628 325.1 630 325.1 632 325.1 634 325.1 636 325.1 638 325.1 640 325.1 642 326 644 326.2 646 326.2 648 326.3 650 327 652 327.4 654 327.4 656 327.4 658 327.4 660 326.7 662 326 664 325.9 666 325.9 668 325.9 670 325.8 672 325.5 674 324.8 676 324.8 678 324.8 680 324.8 682 324.8 684 324.8 686 324.8 688 324.8 690 324.8 692 324.8 694 324.8 696 324.8 698 325.1 700 325.7 702 326.3 704 326.7 706 327.2 708 327.7 710 328.1 712 328.5 714 329 716 329.4 718 329.9 720 330.4 722 330.9 724 331.4 726 331.9 728 332.3 730 332.7 732 332.9 734 333.2 736 333.3 738 333.5 740 333.6 742 333.8 744 334 746 334.2 748 334.4 750 334.6 752 334.8 754 335.1 756 335.5 758 335.9 760 336.1 762 336.1 764 336.1 766 336.1 768 336.1" stroke-width="2"/>
<path d="M136 346.2 138 346.4 140 346.6 142 346.7 144 346.9 146 347 148 347.2 150 347.4 152 347.5 154 347.7 156 347.8 158 348 160 348.1 162 348.2 164 348.4 166 348.5 168 348.7 170 348.8 172 349 174 349.1 176 349.2 178 349.4 180 349.5 182 349.6 184 349.8 186 349.9 188 350.1 190 350.3 192 350.4 194 350.6 196 350.7 198 350.9 200 351 202 351.2 204 351.3 206 351.4 208 351.5 210 351.6 212 351.7 214 351.7 216 351.7 218 351.7 220 351.7 222 351.7 224 351.7 226 351.7 228 351.7 230 351.7 232 351.7 234 351.7 236 351.7 238 351.7 240 351.7 242 351.7 244 351.6 246 351.6 248 351.6 250 351.6 252 351.6 254 351.6 256 351.5 258 351.5 260 351.5 262 351.5 264 351.5 266 351.4 268 351.4 270 351.4 272 351.4 274 351.3 276 351.3 278 351.3 280 351.2 282 351.2 284 351.2 286 351.1 288 351.1 290 351 292 350.9 294 350.8 296 350.7 298 350.6 300 350.5 302 350.4 304 350.3 306 350.2 308 350.1 310 350 312 349.9 314 349.7 316 349.6 318 349.5 320 349.4 322 349.2 324 349.1 326 349 328 348.9 330 348.8 332 348.6 334 348.5 336 348.4 338 348.3 340 348.2 342 348.1 344 348 346 347.8 348 347.7 350 347.5 352 347.4 354 347.2 356 347 358 346.7 360 346.4 362 345.9 364 345.3 366 344.7 368 344.1 370 343.5 372 342.8 374 342.2 376 341.6 378 341.1 380 340.7 382 340.3 384 340.1 386 340 388 339.9 390 339.8 392 339.8 394 339.7 396 339.7 398 339.6 400 339.5 402 339.4 404 339.1 406 338.9 408 338.6 410 338.4 412 338.3 414 338.3 416 338.7 418 339.1 420 339.6 422 340.1 424 340.4 426 340.4 428 340 430 339.5 432 338.9 434 338.5 436 338.2 438 338 440 337.8 442 337.7 444 337.6 446 337.5 448 337.3 450 337 452 336.4 454 335.6 456 335.4 458 335.4 460 335.5 462 335.6 464 335.7 466 335.8 468 335.9 470 336.1 472 336.3 474 336.4 476 336.4 478 336.3 480 336.1 482 335.9 484 335.7 486 335.5 488 335.4 490 335.3 492 335.3 494 335.3 496 335.2 498 335.2 500 335.1 502 335.1 504 335 506 334.8 508 334.7 510 334.6 512 334.5 514 334.6 516 335.4 518 336.2 520 336.4 522 336.4 524 336.4 526 336.4 528 336.4 530 336.4 532 336.4 534 336.4 536 336.4 538 336.4 540 336.4 542 336.4 544 336.4 546 336.4 548 336.4 550 336.4 552 336.4 554 336.4 556 336.4 558 336.4 560 336.4 562 336.4 564 336.2 566 335.4 568 335.3 570 335.2 572 335.2 574 334.9 576 334.1 578 334.1 580 334.2 582 334.2 584 334.3 586 334.4 588 334.5 590 335.2 592 335.4 594 335.4 596 335.4 598 335.4 600 335.4 602 335.4 604 335.2 606 334.5 608 334.3 610 334.2 612 334 614 333.9 616 333.8 618 333.7 620 333.7 622 333.7 624 333.6 626 333.6 628 333.6 630 333.6 632 333.6 634 333.6 636 333.6 638 333.6 640 333.6 642 334.2 644 335 646 335.1 648 335.1 650 335.1 652 335.1 654 335.1 656 335.1 658 335.1 660 335.1 662 334.2 664 334 666 333.8 668 333.7 670 333.6 672 333.6 674 333.6 676 333.6 678 333.6 680 333.6 682 333.6 684 333.6 686 333.6 688 333.6 690 333.8 692 334.3 694 334.9 696 335.4 698 335.8 700 336.3 702 336.8 704 337.4 706 338.1 708 338.7 710 339.2 712 339.6 714 340 716 340.3 718 340.7 720 341.1 722 341.4 724 341.7 726 342 728 342.2 730 342.4 732 342.6 734 342.8 736 343 738 343.2 740 343.4 742 343.6 744 343.8 746 344.1 748 344.3 750 344.6 752 344.8 754 345.1 756 345.3 758 345.5 760 345.8 762 346.1 764 346.4 766 346.9 768 347.1" stroke-width="1"/>
<path d="M136 356.2 138 356.4 140 356.6 142 356.8 144 357 146 357.1 148 357.3 150 357.5 152 357.6 154 357.8 156 358 158 358.1 160 358.3 162 358.4 164 358.6 166 358.7 168 358.8 170 358.9 172 359.1 174 359.2 176 359.3 178 359.4 180 359.5 182 359.6 184 359.7 186 359.8 188 359.9 190 360 192 360.1 194 360.2 196 360.3 198 360.4 200 360.5 202 360.5 204 360.6 206 360.7 208 360.8 210 360.9 212 360.9 214 361 216 361.1 218 361.1 220 361.1 222 361.2 224 361.2 226 361.2 228 361.2 230 361.2 232 361.2 234 361.2 236 361.2 238 361.2 240 361.2 242 361.2 244 361.2 246 361.2 248 361.2 250 361.2 252 361.1 254 361.1 256 361.1 258 361.1 260 361 262 361 264 361 266 361 268 360.9 270 360.9 272 360.9 274 360.8 276 360.8 278 360.8 280 360.8 282 360.7 284 360.7 286 360.6 288 360.6 290 360.5 292 360.4 294 360.4 296 360.3 298 360.2 300 360.1 302 360.1 304 360 306 359.9 308 359.8 310 359.6 312 359.5 314 359.4 316 359.3 318 359.2 320 359.1 322 358.9 324 358.8 326 358.7 328 358.5 330 358.4 332 358.2 334 358.1 336 357.9M382 350.9 384 350.6 386 350.4 388 350.1 390 349.9 392 349.6 394 349.4 396 349.2 398 348.9 400 348.7 402 348.4 404 348.1 406 347.7 408 347.4 410 347.2 412 347.1 414 347.1 416 347.4 418 347.8 420 348.3 422 348.6 424 348.9 426 348.9 428 348.6 430 348.2 432 347.7 434 347.3 436 346.9 438 346.7 440 346.4 442 346.2 444 346 446 345.8 448 345.5 450 345.2 452 344.8 454 344.2 456 343.6 458 343.1 460 342.9 462 343.2 464 343.8 466 343.9 468 343.9 470 343.9 472 343.9 474 343.9 476 343.9 478 343.9 480 343.9 482 343.9 484 343.9 486 343.9 488 343.9 490 343.9 492 343.9 494 343.9 496 343.9 498 343.9 500 343.9 502 343.7 504 343.3 506 342.9 508 342.9 510 343 512 343.2 514 343.5 516 344.1 518 344.5 520 344.5 522 344.5 524 344.5 526 343.7 528 344.3 530 344.6 532 344.7 534 344.7 536 344.7 538 344.7 540 344.8 542 345 544 345.8 546 345.8 548 345.8 550 345.6 552 344.5 554 344.4 556 344.4 558 344.3 560 344.3 562 344.2 564 343.9 566 343.3 568 343.3 570 343.3 572 343.3 574 343.3 576 342.7 578 342.4 580 342.4 582 342.4 584 342.4 586 342.4 588 342.5 590 342.5 592 342.6 594 342.6 596 342.7 598 343.9 600 343.8 602 343.3 604 342.9 606 342.8 608 342.8 610 342.8 612 342.8 614 342.8 616 342.7 618 342.4 620 341.7 622 341.7 624 341.7 626 341.7 628 341.2 630 340.8 632 340.9 634 341.2 636 341.7 638 342.2 640 343 642 343.3 644 343.3 646 343.3 648 343.3 650 343.3 652 343.3 654 343.3 656 343.3 658 343.3 660 343.3 662 343.3 664 343 666 341.7 668 341.7 670 341.7 672 341.7 674 341.7 676 341.7 678 341.7 680 341.7 682 341.7 684 341.7 686 341.8 688 342.6 690 343.3 692 343.9 694 344.5 696 345.1 698 345.8 700 346.5 702 347.2 704 347.7 706 348.1 708 348.4 710 348.7 712 348.9 714 349.2 716 349.5 718 349.7 720 350 722 350.2 724 350.5 726 350.7 728 350.9 730 351.2 732 351.4 734 351.7 736 351.9 738 352.1 740 352.4 742 352.6 744 352.9 746 353.1 748 353.3 750 353.6 752 353.8 754 354.2 756 354.5 758 354.9 760 355.2 762 355.4 764 355.7 766 355.8 768 355.8" stroke-width="2"/>
<path d="M136 365.8 138 366 140 366.1 142 366.3 144 366.5 146 366.7 148 366.8 150 367 152 367.2 154 367.3 156 367.5 158 367.7 160 367.9 162 368 164 368.2 166 368.4 168 368.6 170 368.7 172 368.9 174 369 176 369.2 178 369.4 180 369.5 182 369.6 184 369.8 186 370 188 370.1 190 370.3 192 370.5 194 370.6 196 370.8 198 370.9 200 371.1 202 371.2 204 371.3 206 371.4 208 371.4 210 371.5 212 371.5 214 371.5 216 371.5 218 371.5 220 371.5 222 371.5 224 371.5 226 371.5 228 371.5 230 371.5 232 371.5 234 371.5 236 371.5 238 371.5 240 371.5 242 371.5 244 371.5 246 371.5 248 371.5 250 371.5 252 371.5 254 371.5 256 371.5 258 371.5 260 371.5 262 371.5 264 371.5 266 371.5 268 371.5 270 371.5 272 371.5 274 371.5 276 371.5 278 371.5 280 371.5 282 371.5 284 371.5 286 371.4 288 371.4 290 371.4 292 371.3 294 371.2 296 371.2 298 371.1 300 371 302 370.9 304 370.8 306 370.7 308 370.5 310 370.4 312 370.3 314 370.2 316 370 318 369.9 320 369.7 322 369.6 324 369.4 326 369.3 328 369.1 330 369 332 368.8 334 368.6 336 368.4 338 368.2 340 367.9 342 367.7 344 367.4 346 367.2 348 366.9 350 366.6 352 366.4 354 366.1 356 365.8 358 365.5 360 365.3 362 365 364 364.7 366 364.4 368 364 370 363.7 372 363.4 374 363.1 376 362.8 378 362.4 380 362.1 382 361.8 384 361.4 386 361.1 388 360.7 390 360.3 392 359.8 394 359.4 396 359 398 358.7 400 358.3 402 358.1 404 357.8 406 357.5 408 357.2 410 357 412 356.8 414 356.7 416 356.8 418 357.1 420 357.5 422 358 424 358.3 426 358.3 428 358.1 430 357.6 432 357.1 434 356.7 436 356.3 438 356 440 355.7 442 355.5 444 355.2 446 355 448 354.8 450 354.6 452 354.3 454 353.8 456 352.9 458 352.2 460 352.1 462 352.1 464 352.2 466 352.3 468 352.4 470 352.7 472 353.6 474 353.7 476 353.7 478 353.7 480 353.7 482 353.6 484 353.6 486 353.6 488 353.5 490 353.4 492 353.4 494 352.8 496 352.1 498 352.1 500 352.1 502 352.2 504 352.3 506 352.4 508 352.5 510 352.6 512 352.7 514 352.7 516 352.8 518 352.9 520 353 522 353 524 353.1 526 353.3 528 353.4 530 353.6 532 354.3 534 354.6 536 354.6 538 354.6 540 354.6 542 354.6 544 354.6 546 354.6 548 355.5 550 354.7 552 354.5 554 354.4 556 354.4 558 354.4 560 354.3 562 354.2 564 353.3 566 353.2 568 353.1 570 353.1 572 353.1 574 353 576 352.6 578 351.9 580 351.7 582 351.7 584 351.8 586 352 588 352.6 590 352.7 592 352.7 594 352.7 596 352.7 598 352.7 600 352.6 602 352.6 604 352.6 606 352.6 608 352.5 610 352.5 612 352.1 614 351.3 616 351.1 618 350.8 620 350.7 622 350.5 624 350.5 626 350.4 628 350.4 630 350.4 632 350.4 634 350.4 636 350.4 638 350.8 640 351.5 642 351.7 644 351.8 646 351.9 648 352 650 352 652 352 654 352.1 656 352.1 658 351.1 660 351 662 351 664 351 666 350.9 668 350.7 670 350.2 672 350.5 674 350.9 676 351.1 678 351.3 680 351.5 682 351.8 684 352.2 686 352.6 688 353.1 690 353.7 692 354.4 694 355.1 696 355.8 698 356.3 700 356.9 702 357.3 704 357.8 706 358.1 708 358.4 710 358.7 712 359 714 359.2 716 359.5 718 359.8 720 360 722 360.3 724 360.5 726 360.8 728 361.1 730 361.3 732 361.6 734 361.9 736 362.1 738 362.4 740 362.6 742 362.9 744 363.2 746 363.4 748 363.6 750 363.9 752 364.1 754 364.4 756 364.8 758 365.1 760 365.2 762 365.2 764 365.2 766 365.2 768 365.2" stroke-width="1"/>
</g>
<g fill="none" stroke="#000" stroke-width="2" stroke-linecap="square" stroke-linejoin="round" shape-rendering="crispEdges">
<path d="M357.3 188.7L358.5 188.4L360.5 187.1L358 198.8M365.3 196.3L364.9 197.9L365.2 199.2L365.6 199.8L367.1 200.8L369.3 201.2L371 201L371.7 200.6L372.4 199.6L372.8 197.9L372.5 196.7L371.7 195.3L370.2 194.4L368.2 193.4L367.2 192.6L366.9 191.4L367.1 190.3L367.9 189.3L369.7 189.1L371.8 189.5L373.3 190.4L373.6 191.7L373.4 192.8L372.6 193.8L371.4 194.1L369.1 194.2L367.4 194.4L366.1 195.3L365.3 196.3M375.8 202.1L376.5 201.6L376.9 202.3L376.3 202.7L375.8 202.1M382 197L381.6 198.7L381.6 201.6L382.3 203.5L383.8 204.4L384.9 204.6L386.6 204.4L388 203L389.2 200.3L389.5 198.6L389.6 195.7L388.9 193.8L387.4 192.9L386.3 192.7L384.6 192.9L383.1 194.3L382 197"/>
<path d="M360 218.9L361.1 218.3L362.7 216.6L362.9 228.6M377.2 228.4L369.5 228.5L374.9 222.8L376 221L376.5 219.9L376.5 218.7L375.9 217.6L375.4 217L374.3 216.5L372.1 216.5L371 217.1L370.4 217.7L369.9 218.8L369.9 219.4M381 227.8L381.5 227.2L382.1 227.8L381.6 228.4L381 227.8M385.9 221.5L385.9 223.2L386.5 226L387.6 227.7L389.3 228.3L390.4 228.3L392 227.7L393.1 226L393.6 223.1L393.6 221.4L393 218.6L391.9 216.9L390.2 216.3L389.1 216.3L387.5 216.9L386.4 218.6L385.9 221.5"/>
<path d="M359 239.1L358.9 236.2L359.4 233.4L360.5 231.6L362.1 231L363.2 231L364.9 231.5L365.4 232.7M359 239.1L359.5 237.3L360.6 236.2L362.2 235.6L362.8 235.6L364.4 236.1L365.5 237.2L366.1 238.9L366.1 239.5L365.6 241.2L364.6 242.4L362.9 243L362.4 243L360.7 242.5L359.6 241.3L359 239.1M370.1 242.3L370.6 241.7L371.2 242.2L370.6 242.8L370.1 242.3M374.9 235.9L374.9 237.6L375.5 240.4L376.7 242.1L378.3 242.6L379.4 242.6L381.1 242L382.1 240.3L382.6 237.4L382.6 235.7L382 232.9L380.8 231.2L379.2 230.7L378.1 230.7L376.4 231.3L375.4 233L374.9 235.9M385.9 235.6L385.9 237.3L386.5 240.2L387.6 241.9L389.3 242.4L390.4 242.4L392 241.8L393.1 240L393.6 237.2L393.6 235.5L393 232.6L391.8 230.9L390.2 230.4L389.1 230.4L387.4 231L386.4 232.8L385.9 235.6"/>
<path d="M341.4 250.2L341.4 251.9L342 254.8L343.2 256.5L344.8 257L345.9 257L347.6 256.4L348.6 254.6L349.1 251.8L349.1 250.1L348.5 247.2L347.3 245.6L345.7 245L344.6 245L342.9 245.6L341.9 247.4L341.4 250.2M353.1 256.3L353.6 255.7L354.2 256.2L353.6 256.8L353.1 256.3M357.9 249.9L357.9 251.6L358.5 254.4L359.6 256.1L361.3 256.7L362.4 256.6L364 256L365.1 254.3L365.6 251.4L365.6 249.7L365 246.9L363.8 245.2L362.2 244.7L361.1 244.7L359.4 245.3L358.4 247L357.9 249.9M368.9 249.7L368.9 251.4L369.5 254.2L370.6 255.9L372.3 256.4L373.4 256.4L375 255.8L376.1 254.1L376.6 251.2L376.6 249.5L376 246.7L374.8 245L373.2 244.4L372.1 244.5L370.4 245.1L369.4 246.8L368.9 249.7"/>
<path d="M341.9 266.3L342 263.5L342.7 260.7L343.9 259L345.6 258.5L346.7 258.6L348.3 259.2L348.8 260.4M341.9 266.3L342.5 264.6L343.7 263.6L345.4 263.1L345.9 263.1L347.5 263.7L348.6 264.9L349.1 266.7L349 267.2L348.4 268.9L347.2 270L345.6 270.5L345 270.5L343.4 269.8L342.4 268.6L341.9 266.3M352.7 270.3L353.3 269.7L353.8 270.3L353.3 270.8L352.7 270.3M358 264.2L357.9 265.9L358.3 268.8L359.3 270.6L361 271.2L362.1 271.3L363.7 270.8L364.9 269.1L365.6 266.3L365.7 264.6L365.2 261.7L364.2 259.9L362.6 259.3L361.5 259.2L359.8 259.7L358.7 261.4L358 264.2M369 264.7L368.9 266.4L369.3 269.3L370.3 271.1L371.9 271.7L373 271.8L374.7 271.3L375.9 269.6L376.6 266.8L376.7 265.1L376.2 262.2L375.2 260.4L373.6 259.8L372.5 259.8L370.8 260.2L369.6 261.9L369 264.7"/>
<path d="M343 276.8L344.1 276.2L345.8 274.5L345.8 286.4M360.1 286.4L352.4 286.4L357.9 280.7L359 279L359.5 277.8L359.5 276.7L359 275.5L358.4 275L357.3 274.4L355.1 274.4L354 275L353.5 275.6L352.9 276.7L352.9 277.3M364 285.8L364.5 285.2L365.1 285.8L364.5 286.3L364 285.8M368.9 279.5L368.9 281.2L369.5 284L370.6 285.7L372.2 286.3L373.3 286.3L375 285.7L376.1 284L376.6 281.1L376.6 279.4L376 276.6L374.9 274.9L373.3 274.3L372.2 274.3L370.5 274.9L369.4 276.6L368.9 279.5"/>
<path d="M342.8 294.1L343.8 293.5L345.3 291.6L346.2 303.6M352.5 299.1L352.6 300.8L353.3 301.9L353.9 302.4L355.6 302.9L357.8 302.7L359.4 302L359.9 301.4L360.3 300.2L360.2 298.5L359.6 297.4L358.4 296.4L356.7 295.9L354.5 295.5L353.3 295L352.7 293.9L352.6 292.8L353 291.6L354.7 290.9L356.8 290.8L358.5 291.2L359.2 292.3L359.3 293.4L358.8 294.6L357.7 295.3L355.6 296L354 296.7L353 297.9L352.5 299.1M364.3 301.6L364.8 301L365.4 301.5L364.9 302.1L364.3 301.6M368.8 295L368.9 296.7L369.6 299.5L370.9 301.1L372.6 301.6L373.7 301.5L375.3 300.8L376.2 299L376.6 296.1L376.4 294.4L375.7 291.6L374.4 290L372.7 289.5L371.7 289.6L370 290.3L369.1 292.1L368.8 295"/>
<path d="M349.8 321.7L342.2 322.6L346.9 316.3L347.8 314.4L348.2 313.3L348.1 312.1L347.4 311.1L346.8 310.6L345.6 310.1L343.4 310.4L342.4 311.1L341.9 311.7L341.5 312.9L341.6 313.5M360.8 316.3L352.6 317.3L357.1 308.7L358.6 320.6M364.5 319.3L365 318.6L365.6 319.1L365.1 319.8L364.5 319.3M368.6 312.4L368.8 314.1L369.7 316.9L371 318.5L372.8 318.8L373.8 318.7L375.4 317.9L376.3 316.1L376.5 313.2L376.3 311.5L375.4 308.7L374.1 307.2L372.4 306.8L371.3 306.9L369.7 307.7L368.8 309.5L368.6 312.4"/>
<path d="M342.2 340.4L342.9 341.4L343.5 341.9L345.2 342.2L346.9 341.9L348.4 341.1L349.3 339.8L349.6 338L349.4 336.9L348.5 335.3L347.9 334.8L346.7 334.4L345.1 334.7L347.6 329.7L341.6 330.7M352.2 334.1L352.5 335.7L353.5 338.5L354.9 340L356.6 340.3L357.7 340.1L359.3 339.2L360 337.4L360.1 334.5L359.8 332.8L358.8 330.1L357.4 328.6L355.7 328.3L354.6 328.5L353.1 329.3L352.3 331.2L352.2 334.1M364.7 338.3L365.1 337.6L365.8 338.1L365.3 338.8L364.7 338.3M368.5 331.3L368.8 333L369.8 335.7L371.2 337.2L372.9 337.5L374 337.3L375.5 336.5L376.3 334.6L376.4 331.7L376.1 330L375.1 327.3L373.7 325.8L372 325.5L370.9 325.7L369.4 326.5L368.6 328.4L368.5 331.3"/>
<path d="M342.1 360.6L342.8 361.6L343.5 362.1L345.2 362.4L346.8 362.1L348.4 361.3L349.3 360L349.5 358.2L349.3 357.1L348.5 355.5L347.9 355L346.7 354.6L345.1 354.9L347.6 349.9L341.6 350.8M353.2 357L352.8 354.2L352.9 351.3L353.7 349.4L355.2 348.6L356.3 348.4L358 348.7L358.7 349.8M353.2 357L353.5 355.3L354.4 353.9L355.9 353.1L356.5 353L358.2 353.3L359.5 354.3L360.3 355.9L360.4 356.4L360.1 358.2L359.2 359.5L357.7 360.3L357.1 360.4L355.4 360.1L354.1 359.2L353.2 357M364.6 358.6L365.1 358L365.7 358.4L365.3 359.1L364.6 358.6M368.5 351.6L368.8 353.3L369.8 356.1L371.2 357.6L372.9 357.9L374 357.7L375.5 356.8L376.3 355L376.4 352.1L376.1 350.4L375.1 347.7L373.8 346.2L372 345.9L370.9 346L369.4 346.9L368.6 348.7L368.5 351.6"/>
</g>
<g shape-rendering="crispEdges">
<rect x="136" y="157" width="632" height="316" fill="none" stroke="#000" stroke-width="2"/>
<path d="M160 158h1v4h-1zM160 469h1v3h-1zM184 158h2v9h-2zM184 463h2v9h-2zM211 158h1v4h-1zM211 469h1v3h-1zM235 158h2v9h-2zM235 463h2v9h-2zM261 158h1v4h-1zM261 469h1v3h-1zM286 158h2v9h-2zM286 463h2v9h-2zM312 158h1v4h-1zM312 469h1v3h-1zM337 158h2v9h-2zM337 463h2v9h-2zM363 158h1v4h-1zM363 469h1v3h-1zM388 158h2v9h-2zM388 463h2v9h-2zM414 158h1v4h-1zM414 469h1v3h-1zM438 158h2v9h-2zM438 463h2v9h-2zM465 158h1v4h-1zM465 469h1v3h-1zM489 158h2v9h-2zM489 463h2v9h-2zM515 158h1v4h-1zM515 469h1v3h-1zM540 158h2v9h-2zM540 463h2v9h-2zM566 158h1v4h-1zM566 469h1v3h-1zM591 158h2v9h-2zM591 463h2v9h-2zM617 158h1v4h-1zM617 469h1v3h-1zM642 158h2v9h-2zM642 463h2v9h-2zM668 158h1v4h-1zM668 469h1v3h-1zM692 158h2v9h-2zM692 463h2v9h-2zM719 158h1v4h-1zM719 469h1v3h-1zM743 158h2v9h-2zM743 463h2v9h-2zM137 459h4v1h-4zM764 459h3v1h-3zM137 443h4v1h-4zM764 443h3v1h-3zM137 427h4v1h-4zM764 427h3v1h-3zM137 411h4v1h-4zM764 411h3v1h-3zM137 394h9v2h-9zM758 394h9v2h-9zM137 379h4v1h-4zM764 379h3v1h-3zM137 363h4v1h-4zM764 363h3v1h-3zM137 347h4v1h-4zM764 347h3v1h-3zM137 331h4v1h-4zM764 331h3v1h-3zM137 314h9v2h-9zM758 314h9v2h-9zM137 299h4v1h-4zM764 299h3v1h-3zM137 283h4v1h-4zM764 283h3v1h-3zM137 267h4v1h-4zM764 267h3v1h-3zM137 251h4v1h-4zM764 251h3v1h-3zM137 234h9v2h-9zM758 234h9v2h-9zM137 219h4v1h-4zM764 219h3v1h-3zM137 203h4v1h-4zM764 203h3v1h-3zM137 187h4v1h-4zM764 187h3v1h-3zM137 171h4v1h-4zM764 171h3v1h-3z" fill="#000"/>
</g>
<g fill="none" stroke="#000" stroke-linecap="square" stroke-linejoin="round" shape-rendering="crispEdges">
<path d="M196.3 102L194.4 100.2L192.6 99.3L189.8 99.3L188 100.2L186.1 102L185.2 104.8L185.2 106.7L186.1 109.4L188 111.3L189.8 112.2L192.6 112.2L194.4 111.3L196.3 109.4M196.3 92.8L196.3 112.2M203.7 99.3L203.7 112.2M202.7 92.8L203.7 91.9L204.6 92.8L203.7 93.7L202.7 92.8M210.1 109.4L211 111.3L213.8 112.2L216.6 112.2L219.4 111.3L220.3 109.4L220.3 108.5L219.4 106.7L217.5 105.7L212.9 104.8L211 103.9L210.1 102L211 100.2L213.8 99.3L216.6 99.3L219.4 100.2L220.3 102M224.9 99.3L231.3 99.3M227.7 92.8L227.7 108.5L228.6 111.3L230.4 112.2L232.3 112.2M237.8 99.3L237.8 108.5L238.7 111.3L240.6 112.2L243.3 112.2L245.2 111.3L248 108.5M248 99.3L248 112.2M255.3 99.3L255.3 112.2M255.3 104.8L256.3 102L258.1 100.2L260 99.3L262.7 99.3M267.3 92.8L267.3 112.2M267.3 102L269.2 100.2L271 99.3L273.8 99.3L275.7 100.2L277.5 102L278.4 104.8L278.4 106.7L277.5 109.4L275.7 111.3L273.8 112.2L271 112.2L269.2 111.3L267.3 109.4M284.9 99.3L284.9 108.5L285.8 111.3L287.7 112.2L290.4 112.2L292.3 111.3L295 108.5M295 99.3L295 112.2M302.4 99.3L302.4 112.2M302.4 103L305.2 100.2L307 99.3L309.8 99.3L311.7 100.2L312.6 103L312.6 112.2M330.1 102L328.3 100.2L326.4 99.3L323.6 99.3L321.8 100.2L320 102L319 104.8L319 106.7L320 109.4L321.8 111.3L323.6 112.2L326.4 112.2L328.3 111.3L330.1 109.4M335.6 104.8L335.6 106.7L336.6 109.4L338.4 111.3L340.3 112.2L343 112.2L344.9 111.3L346.7 109.4M335.6 104.8L336.6 102L338.4 100.2L340.3 99.3L343 99.3L344.9 100.2L345.8 101.1L346.7 103L346.7 104.8L335.6 104.8M367 104.8L367 106.7L368 109.4L369.8 111.3L371.6 112.2L374.4 112.2L376.3 111.3L378.1 109.4L379 106.7L379 104.8L378.1 102L376.3 100.2L374.4 99.3L371.6 99.3L369.8 100.2L368 102L367 104.8M383.6 99.3L390.1 99.3M386.4 112.2L386.4 96.5L387.3 93.7L389.2 92.8L391 92.8M411.3 99.3L411.3 118.7M411.3 102L413.2 100.2L415 99.3L417.8 99.3L419.6 100.2L421.5 102L422.4 104.8L422.4 106.7L421.5 109.4L419.6 111.3L417.8 112.2L415 112.2L413.2 111.3L411.3 109.4M427.9 104.8L427.9 106.7L428.9 109.4L430.7 111.3L432.6 112.2L435.3 112.2L437.2 111.3L439 109.4L439.9 106.7L439.9 104.8L439 102L437.2 100.2L435.3 99.3L432.6 99.3L430.7 100.2L428.9 102L427.9 104.8M444.6 99.3L451 99.3M447.3 92.8L447.3 108.5L448.3 111.3L450.1 112.2L451.9 112.2M456.6 104.8L456.6 106.7L457.5 109.4L459.3 111.3L461.2 112.2L463.9 112.2L465.8 111.3L467.6 109.4M456.6 104.8L457.5 102L459.3 100.2L461.2 99.3L463.9 99.3L465.8 100.2L466.7 101.1L467.6 103L467.6 104.8L456.6 104.8M474.1 99.3L474.1 112.2M474.1 103L476.9 100.2L478.7 99.3L481.5 99.3L483.3 100.2L484.3 103L484.3 112.2M489.8 99.3L496.3 99.3M492.6 92.8L492.6 108.5L493.5 111.3L495.3 112.2L497.2 112.2M502.7 99.3L502.7 112.2M501.8 92.8L502.7 91.9L503.6 92.8L502.7 93.7L501.8 92.8M520.2 102L518.4 100.2L516.6 99.3L513.8 99.3L511.9 100.2L510.1 102L509.2 104.8L509.2 106.7L510.1 109.4L511.9 111.3L513.8 112.2L516.6 112.2L518.4 111.3L520.2 109.4M520.2 99.3L520.2 112.2M527.6 92.8L527.6 112.2M547.9 99.3L554.4 99.3M550.7 92.8L550.7 108.5L551.6 111.3L553.5 112.2L555.3 112.2M559.9 104.8L559.9 106.7L560.9 109.4L562.7 111.3L564.6 112.2L567.3 112.2L569.2 111.3L571 109.4M559.9 104.8L560.9 102L562.7 100.2L564.6 99.3L567.3 99.3L569.2 100.2L570.1 101.1L571 103L571 104.8L559.9 104.8M577.5 99.3L577.5 112.2M577.5 103L580.2 100.2L582.1 99.3L584.9 99.3L586.7 100.2L587.6 103L587.6 112.2M587.6 103L590.4 100.2L592.2 99.3L595 99.3L596.9 100.2L597.8 103L597.8 112.2M605.2 99.3L605.2 118.7M605.2 102L607 100.2L608.9 99.3L611.6 99.3L613.5 100.2L615.3 102L616.2 104.8L616.2 106.7L615.3 109.4L613.5 111.3L611.6 112.2L608.9 112.2L607 111.3L605.2 109.4M621.8 104.8L621.8 106.7L622.7 109.4L624.5 111.3L626.4 112.2L629.2 112.2L631 111.3L632.9 109.4M621.8 104.8L622.7 102L624.5 100.2L626.4 99.3L629.2 99.3L631 100.2L631.9 101.1L632.9 103L632.9 104.8L621.8 104.8M639.3 99.3L639.3 112.2M639.3 104.8L640.2 102L642.1 100.2L643.9 99.3L646.7 99.3M661.5 102L659.6 100.2L657.8 99.3L655 99.3L653.2 100.2L651.3 102L650.4 104.8L650.4 106.7L651.3 109.4L653.2 111.3L655 112.2L657.8 112.2L659.6 111.3L661.5 109.4M661.5 99.3L661.5 112.2M667 99.3L673.5 99.3M669.8 92.8L669.8 108.5L670.7 111.3L672.5 112.2L674.4 112.2M679.9 99.3L679.9 108.5L680.9 111.3L682.7 112.2L685.5 112.2L687.3 111.3L690.1 108.5M690.1 99.3L690.1 112.2M697.5 99.3L697.5 112.2M697.5 104.8L698.4 102L700.2 100.2L702.1 99.3L704.8 99.3M708.5 104.8L708.5 106.7L709.5 109.4L711.3 111.3L713.2 112.2L715.9 112.2L717.8 111.3L719.6 109.4M708.5 104.8L709.5 102L711.3 100.2L713.2 99.3L715.9 99.3L717.8 100.2L718.7 101.1L719.6 103L719.6 104.8L708.5 104.8" stroke-width="1.75"/>
<path d="M376.8 529.8L387.2 546.1M376.8 546.1L387.2 529.8M392.3 539.7L405.7 539.7M419.7 537.6L418.2 536L416.8 535.2L414.5 535.2L413.1 536L411.6 537.6L410.8 539.9L410.8 541.5L411.6 543.8L413.1 545.3L414.5 546.1L416.8 546.1L418.2 545.3L419.7 543.8M424.2 539.9L424.2 541.5L424.9 543.8L426.4 545.3L427.9 546.1L430.1 546.1L431.6 545.3L433 543.8L433.8 541.5L433.8 539.9L433 537.6L431.6 536L430.1 535.2L427.9 535.2L426.4 536L424.9 537.6L424.2 539.9M438.2 539.9L438.2 541.5L439 543.8L440.4 545.3L441.9 546.1L444.1 546.1L445.6 545.3L447.1 543.8L447.8 541.5L447.8 539.9L447.1 537.6L445.6 536L444.1 535.2L441.9 535.2L440.4 536L439 537.6L438.2 539.9M453 535.2L453 546.1M453 539.9L453.8 537.6L455.2 536L456.7 535.2L458.9 535.2M470.8 537.6L469.3 536L467.8 535.2L465.6 535.2L464.1 536L462.6 537.6L461.9 539.9L461.9 541.5L462.6 543.8L464.1 545.3L465.6 546.1L467.8 546.1L469.3 545.3L470.8 543.8M470.8 529.8L470.8 546.1M476.7 535.2L476.7 546.1M476 529.8L476.7 529.1L477.4 529.8L476.7 530.6L476 529.8M482.6 535.2L482.6 546.1M482.6 538.4L484.8 536L486.3 535.2L488.5 535.2L490 536L490.8 538.4L490.8 546.1M504.8 537.6L503.3 536L501.9 535.2L499.6 535.2L498.2 536L496.7 537.6L495.9 539.9L495.9 541.5L496.7 543.8L498.2 545.3L499.6 546.1L501.9 546.1L503.3 545.3L504.8 543.8M504.8 535.2L504.8 546.1M509.3 535.2L514.4 535.2M511.5 529.8L511.5 543L512.2 545.3L513.7 546.1L515.2 546.1M518.9 539.9L518.9 541.5L519.6 543.8L521.1 545.3L522.6 546.1L524.8 546.1L526.3 545.3L527.8 543.8M518.9 539.9L519.6 537.6L521.1 536L522.6 535.2L524.8 535.2L526.3 536L527 536.8L527.8 538.4L527.8 539.9L518.9 539.9" stroke-width="1.75"/>
<path d="M73.6 390.3L73.6 380L89.9 390.3L89.9 380M82.9 374.9L82.9 361.7M81.4 347.7L79.8 349.2L79.1 350.7L79.1 352.9L79.8 354.3L81.4 355.8L83.7 356.5L85.2 356.5L87.6 355.8L89.1 354.3L89.9 352.9L89.9 350.7L89.1 349.2L87.6 347.7M83.7 343.3L85.2 343.3L87.6 342.6L89.1 341.1L89.9 339.7L89.9 337.5L89.1 336L87.6 334.5L85.2 333.8L83.7 333.8L81.4 334.5L79.8 336L79.1 337.5L79.1 339.7L79.8 341.1L81.4 342.6L83.7 343.3M83.7 329.4L85.2 329.4L87.6 328.6L89.1 327.2L89.9 325.7L89.9 323.5L89.1 322L87.6 320.6L85.2 319.8L83.7 319.8L81.4 320.6L79.8 322L79.1 323.5L79.1 325.7L79.8 327.2L81.4 328.6L83.7 329.4M79.1 314.7L89.9 314.7M83.7 314.7L81.4 314L79.8 312.5L79.1 311L79.1 308.8M81.4 297.1L79.8 298.6L79.1 300L79.1 302.2L79.8 303.7L81.4 305.2L83.7 305.9L85.2 305.9L87.6 305.2L89.1 303.7L89.9 302.2L89.9 300L89.1 298.6L87.6 297.1M73.6 297.1L89.9 297.1M79.1 291.2L89.9 291.2M73.6 291.9L72.9 291.2L73.6 290.5L74.4 291.2L73.6 291.9M79.1 285.3L89.9 285.3M82.2 285.3L79.8 283.1L79.1 281.7L79.1 279.5L79.8 278L82.2 277.3L89.9 277.3M81.4 263.3L79.8 264.8L79.1 266.3L79.1 268.5L79.8 269.9L81.4 271.4L83.7 272.1L85.3 272.1L87.6 271.4L89.1 269.9L89.9 268.5L89.9 266.3L89.1 264.8L87.6 263.3M79.1 263.3L89.9 263.3M79.1 258.9L79.1 253.8M73.6 256.7L86.8 256.7L89.1 256L89.9 254.5L89.9 253M83.7 249.4L85.3 249.4L87.6 248.6L89.1 247.2L89.9 245.7L89.9 243.5L89.1 242L87.6 240.6M83.7 249.4L81.4 248.6L79.8 247.2L79.1 245.7L79.1 243.5L79.8 242L80.6 241.3L82.2 240.6L83.7 240.6L83.7 249.4" stroke-width="2"/>
<path d="M189.9 490.4L181.7 490.4L187.2 483.3L187.2 494" stroke-width="2"/>
<path d="M232.8 490.4L232.8 492L233.3 493L233.8 493.5L235.5 494L237.7 494L239.3 493.5L239.9 493L240.4 492L240.4 490.4L239.9 489.4L238.8 488.4L237.2 487.9L234.9 487.4L233.8 486.9L233.3 485.8L233.3 484.8L233.8 483.8L235.5 483.3L237.7 483.3L239.3 483.8L239.9 484.8L239.9 485.8L239.3 486.9L238.2 487.4L236 487.9L234.4 488.4L233.3 489.4L232.8 490.4" stroke-width="2"/>
<path d="M278.9 485.3L280 484.8L281.6 483.3L281.6 494M295.9 494L288.2 494L293.7 488.9L294.8 487.4L295.4 486.4L295.4 485.3L294.8 484.3L294.3 483.8L293.2 483.3L291 483.3L289.9 483.8L289.3 484.3L288.8 485.3L288.8 485.8" stroke-width="2"/>
<path d="M329.7 485.3L330.8 484.8L332.4 483.3L332.4 494M339.6 490.4L339.6 487.9L340.1 485.3L341.2 483.8L342.9 483.3L344 483.3L345.6 483.8L346.2 484.8M339.6 490.4L340.1 488.9L341.2 487.9L342.9 487.4L343.4 487.4L345.1 487.9L346.2 488.9L346.7 490.4L346.7 490.9L346.2 492.5L345.1 493.5L343.4 494L342.9 494L341.2 493.5L340.1 492.5L339.6 490.4" stroke-width="2"/>
<path d="M387.4 494L379.6 494L385.1 488.9L386.2 487.4L386.8 486.4L386.8 485.3L386.2 484.3L385.7 483.8L384.6 483.3L382.4 483.3L381.3 483.8L380.8 484.3L380.2 485.3L380.2 485.8M390.6 487.9L390.6 489.4L391.2 492L392.3 493.5L393.9 494L395.1 494L396.7 493.5L397.8 492L398.4 489.4L398.4 487.9L397.8 485.3L396.7 483.8L395.1 483.3L393.9 483.3L392.3 483.8L391.2 485.3L390.6 487.9" stroke-width="2"/>
<path d="M437.9 494L430.2 494L435.7 488.9L436.8 487.4L437.3 486.4L437.3 485.3L436.8 484.3L436.2 483.8L435.1 483.3L432.9 483.3L431.8 483.8L431.3 484.3L430.7 485.3L430.7 485.8M449.4 490.4L441.2 490.4L446.7 483.3L446.7 494" stroke-width="2"/>
<path d="M488.9 494L481.2 494L486.7 488.9L487.8 487.4L488.4 486.4L488.4 485.3L487.8 484.3L487.3 483.8L486.2 483.3L484 483.3L482.9 483.8L482.3 484.3L481.8 485.3L481.8 485.8M492.2 490.4L492.2 492L492.8 493L493.3 493.5L495 494L497.2 494L498.8 493.5L499.4 493L499.9 492L499.9 490.4L499.4 489.4L498.3 488.4L496.6 487.9L494.4 487.4L493.3 486.9L492.8 485.8L492.8 484.8L493.3 483.8L495 483.3L497.2 483.3L498.8 483.8L499.4 484.8L499.4 485.8L498.8 486.9L497.7 487.4L495.5 487.9L493.9 488.4L492.8 489.4L492.2 490.4" stroke-width="2"/>
<path d="M532 492L532.6 493L533.1 493.5L534.8 494L536.4 494L538.1 493.5L539.2 492.5L539.7 490.9L539.7 489.9L539.2 488.4L538.6 487.9L537.5 487.4L535.9 487.4L539.2 483.3L533.1 483.3M550.7 494L543 494L548.5 488.9L549.6 487.4L550.2 486.4L550.2 485.3L549.6 484.3L549.1 483.8L548 483.3L545.8 483.3L544.7 483.8L544.1 484.3L543.6 485.3L543.6 485.8" stroke-width="2"/>
<path d="M582.8 492L583.4 493L583.9 493.5L585.6 494L587.2 494L588.9 493.5L590 492.5L590.5 490.9L590.5 489.9L590 488.4L589.4 487.9L588.3 487.4L586.7 487.4L590 483.3L583.9 483.3M594.4 490.4L594.4 487.9L594.9 485.3L596 483.8L597.7 483.3L598.8 483.3L600.4 483.8L601 484.8M594.4 490.4L594.9 488.9L596 487.9L597.7 487.4L598.2 487.4L599.9 487.9L601 488.9L601.5 490.4L601.5 490.9L601 492.5L599.9 493.5L598.2 494L597.7 494L596 493.5L594.9 492.5L594.4 490.4" stroke-width="2"/>
<path d="M641.9 490.4L633.6 490.4L639.1 483.3L639.1 494M644.6 487.9L644.6 489.4L645.2 492L646.3 493.5L648 494L649 494L650.7 493.5L651.8 492L652.4 489.4L652.4 487.9L651.8 485.3L650.7 483.8L649 483.3L648 483.3L646.3 483.8L645.2 485.3L644.6 487.9" stroke-width="2"/>
<path d="M692.4 490.4L684.2 490.4L689.7 483.3L689.7 494M703.4 490.4L695.2 490.4L700.7 483.3L700.7 494" stroke-width="2"/>
<path d="M743.5 490.4L735.2 490.4L740.7 483.3L740.7 494M746.2 490.4L746.2 492L746.8 493L747.3 493.5L749 494L751.2 494L752.8 493.5L753.4 493L753.9 492L753.9 490.4L753.4 489.4L752.3 488.4L750.6 487.9L748.4 487.4L747.3 486.9L746.8 485.8L746.8 484.8L747.3 483.8L749 483.3L751.2 483.3L752.8 483.8L753.4 484.8L753.4 485.8L752.8 486.9L751.7 487.4L749.5 487.9L747.9 488.4L746.8 489.4L746.2 490.4" stroke-width="2"/>
<path d="M117.3 397.8L117.9 398.9L118.4 399.4L120.1 400L121.7 400L123.4 399.4L124.5 398.4L125 396.7L125 395.6L124.5 393.9L123.4 392.9L121.7 392.3L120.1 392.3L118.4 392.9L117.9 393.4L118.4 388.4L123.9 388.4" stroke-width="2"/>
<path d="M108 310.6L109.1 310.1L110.7 308.4L110.7 320M117.3 313.4L117.3 315.1L117.9 317.8L119 319.4L120.6 320L121.7 320L123.4 319.4L124.5 317.8L125 315.1L125 313.4L124.5 310.6L123.4 309L121.7 308.4L120.6 308.4L119 309L117.9 310.6L117.3 313.4" stroke-width="2"/>
<path d="M108 230.7L109.1 230.1L110.7 228.4L110.7 240M117.3 237.8L117.9 238.9L118.4 239.4L120.1 240L121.7 240L123.4 239.4L124.5 238.3L125 236.7L125 235.6L124.5 233.9L123.4 232.8L121.7 232.3L120.1 232.3L118.4 232.8L117.9 233.4L118.4 228.4L123.9 228.4" stroke-width="2"/>
<path d="M52.5 493.9L51.4 494.8L50.2 496L49.1 497.8L48.6 499.9L48.6 501.6L49.1 503.8L50.2 505.5L51.4 506.8L52.5 507.6M56.9 503.8L64.3 496.6M56.9 496.6L64.3 503.8M69.5 496.6L70.6 496.1L72.2 494.4L72.2 506M78.8 499.4L78.8 501.1L79.4 503.8L80.5 505.4L82.2 506L83.2 506L84.9 505.4L86 503.8L86.6 501.1L86.6 499.4L86 496.6L84.9 495L83.2 494.4L82.2 494.4L80.5 495L79.4 496.6L78.8 499.4M89.8 499.4L89.8 501.1L90.4 503.8L91.5 505.4L93.2 506L94.2 506L95.9 505.4L97 503.8L97.6 501.1L97.6 499.4L97 496.6L95.9 495L94.2 494.4L93.2 494.4L91.5 495L90.4 496.6L89.8 499.4M100.8 499.4L100.8 501.1L101.4 503.8L102.5 505.4L104.2 506L105.2 506L106.9 505.4L108 503.8L108.6 501.1L108.6 499.4L108 496.6L106.9 495L105.2 494.4L104.2 494.4L102.5 495L101.4 496.6L100.8 499.4M121.2 498.3L121.2 506M121.2 500.5L122.8 498.9L124 498.3L125.6 498.3L126.7 498.9L127.2 500.5L127.2 506M127.2 500.5L128.9 498.9L130 498.3L131.7 498.3L132.8 498.9L133.3 500.5L133.3 506M137.2 493.9L138.2 494.8L139.3 496L140.5 497.8L141 499.9L141 501.6L140.5 503.8L139.3 505.5L138.2 506.8L137.2 507.6" stroke-width="2"/>
<path d="M689.8 505.4L688.8 506.3L687.6 507.5L686.5 509.3L686 511.4L686 513.1L686.5 515.3L687.6 517L688.8 518.3L689.8 519.1M694.2 515.3L701.7 508.1M694.2 508.1L701.7 515.3M706.9 508.1L708 507.6L709.6 505.9L709.6 517.5M716.2 510.9L716.2 512.5L716.8 515.3L717.9 517L719.5 517.5L720.6 517.5L722.3 517L723.4 515.3L723.9 512.5L723.9 510.9L723.4 508.1L722.3 506.5L720.6 505.9L719.5 505.9L717.9 506.5L716.8 508.1L716.2 510.9M727.2 510.9L727.2 512.5L727.8 515.3L728.9 517L730.5 517.5L731.6 517.5L733.3 517L734.4 515.3L734.9 512.5L734.9 510.9L734.4 508.1L733.3 506.5L731.6 505.9L730.5 505.9L728.9 506.5L727.8 508.1L727.2 510.9M738.2 510.9L738.2 512.5L738.8 515.3L739.9 517L741.5 517.5L742.6 517.5L744.3 517L745.4 515.3L745.9 512.5L745.9 510.9L745.4 508.1L744.3 506.5L742.6 505.9L741.5 505.9L739.9 506.5L738.8 508.1L738.2 510.9M758.6 509.8L758.6 517.5M758.6 512L760.2 510.4L761.3 509.8L763 509.8L764.1 510.4L764.6 512L764.6 517.5M764.6 512L766.3 510.4L767.4 509.8L769 509.8L770.1 510.4L770.7 512L770.7 517.5M774.5 505.4L775.6 506.3L776.8 507.5L777.8 509.3L778.4 511.4L778.4 513.1L777.8 515.3L776.8 517L775.6 518.3L774.5 519.1" stroke-width="2"/>
<path d="M313.9 582.9L313.4 581.7L312.3 580.5L311.2 579.9L308.9 579.9L307.8 580.5L306.7 581.7L306.2 582.9L305.6 584.6L305.6 587.6L306.2 589.3L306.7 590.5L307.8 591.7L308.9 592.3L311.2 592.3L312.3 591.7L313.4 590.5L313.9 589.3M317.3 584.6L317.3 587.6L317.8 589.3L318.4 590.5L319.5 591.7L320.6 592.3L322.8 592.3L323.9 591.7L325.1 590.5L325.6 589.3L326.2 587.6L326.2 584.6L325.6 582.9L325.1 581.7L323.9 580.5L322.8 579.9L320.6 579.9L319.5 580.5L318.4 581.7L317.8 582.9L317.3 584.6M330.1 592.3L330.1 579.9L337.8 592.3L337.8 579.9M340.6 579.9L348.4 579.9M344.5 579.9L344.5 592.3M350.6 584.6L350.6 587.6L351.2 589.3L351.7 590.5L352.9 591.7L354 592.3L356.2 592.3L357.3 591.7L358.4 590.5L359 589.3L359.5 587.6L359.5 584.6L359 582.9L358.4 581.7L357.3 580.5L356.2 579.9L354 579.9L352.9 580.5L351.7 581.7L351.2 582.9L350.6 584.6M363.4 579.9L363.4 588.8L364 590.5L365.1 591.7L366.8 592.3L367.9 592.3L369.5 591.7L370.7 590.5L371.2 588.8L371.2 579.9M375.7 592.3L375.7 579.9L380.7 579.9L382.3 580.5L382.9 581.1L383.4 582.3L383.4 583.4L382.9 584.6L382.3 585.2L380.7 585.8L375.7 585.8M379.5 585.8L383.4 592.3M396.2 579.9L396.2 592.3M400.7 592.3L400.7 579.9L408.5 592.3L408.5 579.9M411.2 579.9L419 579.9M415.1 579.9L415.1 592.3M429 579.9L421.8 579.9L421.8 592.3L429 592.3M421.8 585.8L426.3 585.8M432.4 592.3L432.4 579.9L437.4 579.9L439 580.5L439.6 581.1L440.2 582.3L440.2 583.4L439.6 584.6L439 585.2L437.4 585.8L432.4 585.8M436.3 585.8L440.2 592.3M442.4 579.9L446.8 592.3L451.3 579.9M452.4 592.3L456.8 579.9L461.3 592.3M454.1 588.2L459.6 588.2M464.1 579.9L464.1 592.3L470.7 592.3M482.4 585.2L492.4 585.2M482.4 588.8L492.4 588.8M505.2 589.9L505.8 591.1L506.3 591.7L508 592.3L509.7 592.3L511.3 591.7L512.4 590.5L513 588.8L513 587.6L512.4 585.8L511.9 585.2L510.8 584.6L509.1 584.6L512.4 579.9L506.3 579.9M516.9 591.7L517.4 591.1L518 591.7L517.4 592.3L516.9 591.7M521.9 585.2L521.9 587L522.4 589.9L523.6 591.7L525.2 592.3L526.3 592.3L528 591.7L529.1 589.9L529.7 587L529.7 585.2L529.1 582.3L528 580.5L526.3 579.9L525.2 579.9L523.6 580.5L522.4 582.3L521.9 585.2M533 585.2L533 587L533.6 589.9L534.7 591.7L536.3 592.3L537.5 592.3L539.1 591.7L540.2 589.9L540.8 587L540.8 585.2L540.2 582.3L539.1 580.5L537.5 579.9L536.3 579.9L534.7 580.5L533.6 582.3L533 585.2M544.1 585.2L544.1 587L544.7 589.9L545.8 591.7L547.5 592.3L548.6 592.3L550.2 591.7L551.4 589.9L551.9 587L551.9 585.2L551.4 582.3L550.2 580.5L548.6 579.9L547.5 579.9L545.8 580.5L544.7 582.3L544.1 585.2M563 579.9L555.8 579.9L555.8 592.3L563 592.3M555.8 585.8L560.2 585.8M566.4 587L576.4 587M571.4 581.7L571.4 592.3M580.3 585.2L580.3 587L580.8 589.9L581.9 591.7L583.6 592.3L584.7 592.3L586.4 591.7L587.5 589.9L588 587L588 585.2L587.5 582.3L586.4 580.5L584.7 579.9L583.6 579.9L581.9 580.5L580.8 582.3L580.3 585.2M591.4 585.2L591.4 587L591.9 589.9L593.1 591.7L594.7 592.3L595.8 592.3L597.5 591.7L598.6 589.9L599.2 587L599.2 585.2L598.6 582.3L597.5 580.5L595.8 579.9L594.7 579.9L593.1 580.5L591.9 582.3L591.4 585.2" stroke-width="2"/>
<path d="M338.3 641.5L347.3 641.5M352.3 637.5L353.3 637L354.8 635.5L354.8 646M367.8 646L360.8 646L365.8 641L366.8 639.5L367.3 638.5L367.3 637.5L366.8 636.5L366.3 636L365.3 635.5L363.3 635.5L362.3 636L361.8 636.5L361.3 637.5L361.3 638" stroke-width="2"/>
<path d="M403.8 640L403.8 641.5L404.3 644L405.3 645.5L406.8 646L407.8 646L409.3 645.5L410.3 644L410.8 641.5L410.8 640L410.3 637.5L409.3 636L407.8 635.5L406.8 635.5L405.3 636L404.3 637.5L403.8 640" stroke-width="2"/>
<path d="M453.8 637.5L454.8 637L456.3 635.5L456.3 646M469.3 646L462.3 646L467.3 641L468.3 639.5L468.8 638.5L468.8 637.5L468.3 636.5L467.8 636L466.8 635.5L464.8 635.5L463.8 636L463.3 636.5L462.8 637.5L462.8 638" stroke-width="2"/>
<path d="M514 646L507 646L512 641L513 639.5L513.5 638.5L513.5 637.5L513 636.5L512.5 636L511.5 635.5L509.5 635.5L508.5 636L508 636.5L507.5 637.5L507.5 638M524.5 642.5L517 642.5L522 635.5L522 646" stroke-width="2"/>
<path d="M561.5 644L562 645L562.5 645.5L564 646L565.5 646L567 645.5L568 644.5L568.5 643L568.5 642L568 640.5L567.5 640L566.5 639.5L565 639.5L568 635.5L562.5 635.5M572 642.5L572 640L572.5 637.5L573.5 636L575 635.5L576 635.5L577.5 636L578 637M572 642.5L572.5 641L573.5 640L575 639.5L575.5 639.5L577 640L578 641L578.5 642.5L578.5 643L578 644.5L577 645.5L575.5 646L575 646L573.5 645.5L572.5 644.5L572 642.5" stroke-width="2"/>
</g>
<g shape-rendering="crispEdges">
<rect x="315" y="608" width="274" height="20" fill="#000"/>
<rect x="317" y="610" width="2" height="16" fill="#8c00a5"/>
<rect x="321" y="610" width="2" height="16" fill="#7600a2"/>
<rect x="325" y="610" width="1" height="16" fill="#5500a0"/>
<rect x="328" y="610" width="2" height="16" fill="#3a00a5"/>
<rect x="332" y="610" width="1" height="16" fill="#23009e"/>
<rect x="335" y="610" width="2" height="16" fill="#0a00a5"/>
<rect x="339" y="610" width="2" height="16" fill="#0000b9"/>
<rect x="343" y="610" width="1" height="16" fill="#0000cd"/>
<rect x="346" y="610" width="2" height="16" fill="#0000e8"/>
<rect x="350" y="610" width="2" height="16" fill="#0000ff"/>
<rect x="354" y="610" width="1" height="16" fill="#0019ff"/>
<rect x="357" y="610" width="2" height="16" fill="#0032ff"/>
<rect x="361" y="610" width="1" height="16" fill="#0046ff"/>
<rect x="364" y="610" width="2" height="16" fill="#0055ff"/>
<rect x="368" y="610" width="2" height="16" fill="#0069ff"/>
<rect x="372" y="610" width="1" height="16" fill="#007dff"/>
<rect x="375" y="610" width="2" height="16" fill="#008cff"/>
<rect x="379" y="610" width="1" height="16" fill="#009bff"/>
<rect x="382" y="610" width="2" height="16" fill="#00a5ff"/>
<rect x="386" y="610" width="2" height="16" fill="#00b9ff"/>
<rect x="390" y="610" width="1" height="16" fill="#00c8ff"/>
<rect x="393" y="610" width="2" height="16" fill="#00dcff"/>
<rect x="397" y="610" width="2" height="16" fill="#00f0ff"/>
<rect x="401" y="610" width="1" height="16" fill="#00ffff"/>
<rect x="404" y="610" width="2" height="16" fill="#00fff0"/>
<rect x="408" y="610" width="1" height="16" fill="#00ffd7"/>
<rect x="411" y="610" width="2" height="16" fill="#00ffbe"/>
<rect x="415" y="610" width="2" height="16" fill="#00fdaf"/>
<rect x="419" y="610" width="1" height="16" fill="#00f8a0"/>
<rect x="422" y="610" width="2" height="16" fill="#00f896"/>
<rect x="426" y="610" width="1" height="16" fill="#00f887"/>
<rect x="429" y="610" width="2" height="16" fill="#00f878"/>
<rect x="433" y="610" width="2" height="16" fill="#00f869"/>
<rect x="437" y="610" width="1" height="16" fill="#00f85a"/>
<rect x="440" y="610" width="2" height="16" fill="#00f846"/>
<rect x="444" y="610" width="2" height="16" fill="#00f832"/>
<rect x="448" y="610" width="1" height="16" fill="#00f81e"/>
<rect x="451" y="610" width="2" height="16" fill="#00f300"/>
<rect x="455" y="610" width="1" height="16" fill="#14f800"/>
<rect x="458" y="610" width="2" height="16" fill="#28f800"/>
<rect x="462" y="610" width="2" height="16" fill="#3cf800"/>
<rect x="466" y="610" width="1" height="16" fill="#50f800"/>
<rect x="469" y="610" width="2" height="16" fill="#5ffb00"/>
<rect x="473" y="610" width="1" height="16" fill="#6efd00"/>
<rect x="476" y="610" width="2" height="16" fill="#82fd00"/>
<rect x="480" y="610" width="2" height="16" fill="#96fd00"/>
<rect x="484" y="610" width="1" height="16" fill="#a5fd00"/>
<rect x="487" y="610" width="2" height="16" fill="#b4ff00"/>
<rect x="491" y="610" width="2" height="16" fill="#c3ff00"/>
<rect x="495" y="610" width="1" height="16" fill="#d7fa00"/>
<rect x="498" y="610" width="2" height="16" fill="#ebfa00"/>
<rect x="502" y="610" width="1" height="16" fill="#fafa00"/>
<rect x="505" y="610" width="2" height="16" fill="#fff000"/>
<rect x="509" y="610" width="2" height="16" fill="#ffe100"/>
<rect x="513" y="610" width="1" height="16" fill="#ffd200"/>
<rect x="516" y="610" width="2" height="16" fill="#ffc000"/>
<rect x="520" y="610" width="2" height="16" fill="#ffac00"/>
<rect x="524" y="610" width="1" height="16" fill="#ff9b00"/>
<rect x="527" y="610" width="2" height="16" fill="#ff8c00"/>
<rect x="531" y="610" width="1" height="16" fill="#ff7d00"/>
<rect x="534" y="610" width="2" height="16" fill="#ff6900"/>
<rect x="538" y="610" width="2" height="16" fill="#ff5a00"/>
<rect x="542" y="610" width="1" height="16" fill="#ff4600"/>
<rect x="545" y="610" width="2" height="16" fill="#ff3200"/>
<rect x="549" y="610" width="1" height="16" fill="#ff2300"/>
<rect x="552" y="610" width="2" height="16" fill="#ff0f00"/>
<rect x="556" y="610" width="2" height="16" fill="#ff0000"/>
<rect x="560" y="610" width="1" height="16" fill="#f51e28"/>
<rect x="563" y="610" width="2" height="16" fill="#ff373a"/>
<rect x="567" y="610" width="2" height="16" fill="#ff4b4e"/>
<rect x="571" y="610" width="1" height="16" fill="#ff5a5a"/>
<rect x="574" y="610" width="2" height="16" fill="#ff6e6e"/>
<rect x="578" y="610" width="1" height="16" fill="#ff7a7d"/>
<rect x="581" y="610" width="2" height="16" fill="#ff8c91"/>
<rect x="585" y="610" width="2" height="16" fill="#ffa0a5"/>
</g>
</svg></body></html>
